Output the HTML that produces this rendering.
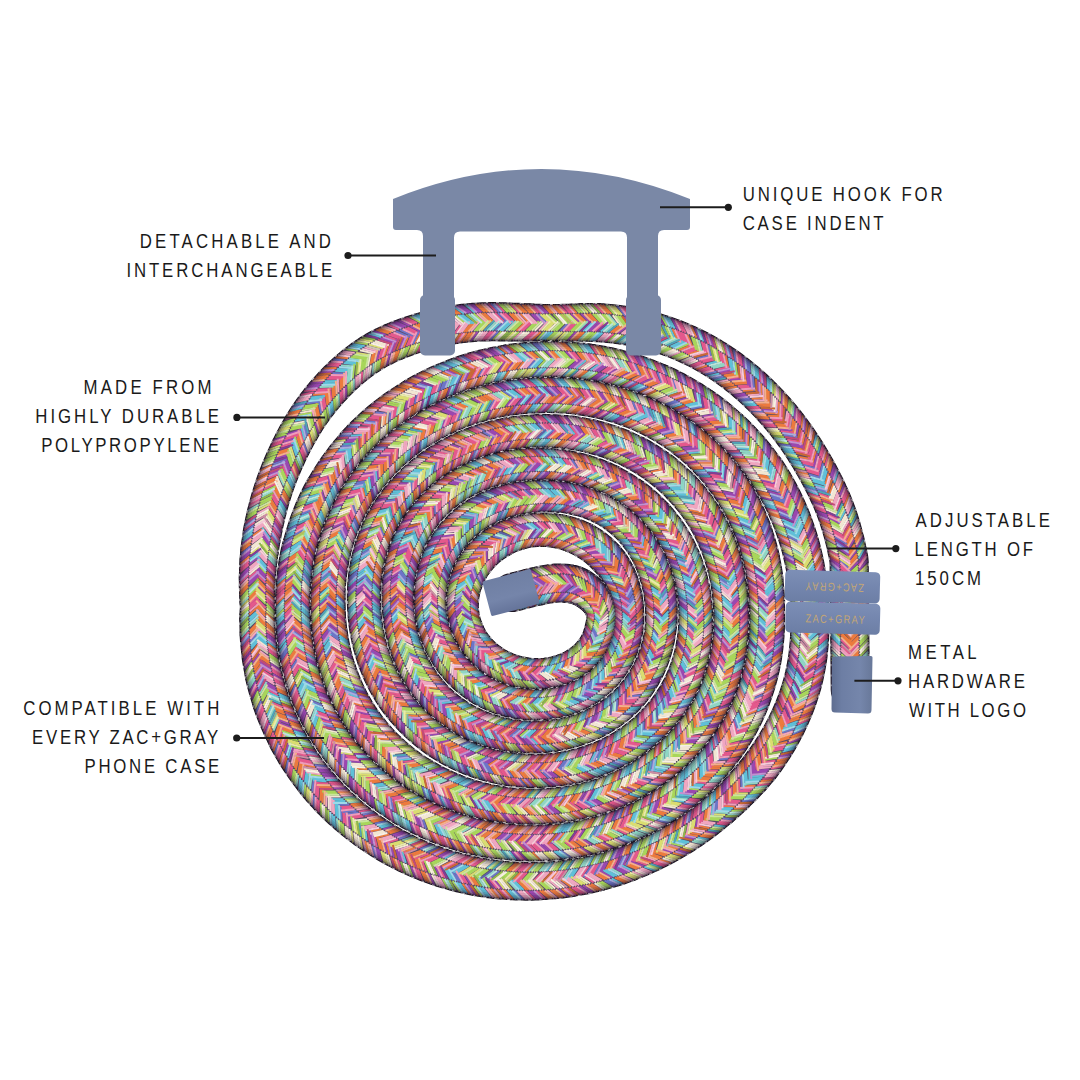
<!DOCTYPE html>
<html><head><meta charset="utf-8"><style>
html,body{margin:0;padding:0;background:#fff;}
svg{display:block;}
</style></head><body>
<svg width="1080" height="1080" viewBox="0 0 1080 1080">
<rect width="1080" height="1080" fill="#fff"/>
<defs>
<filter id="soft" x="0" y="0" width="1080" height="1080" filterUnits="userSpaceOnUse"><feGaussianBlur stdDeviation="0.6"/></filter>
<g id="gg" fill="none" stroke-linecap="round" stroke-linejoin="round"><path id="g0" fill="none" d="M601.4,619.5 600.9,622.5 600.3,625.4 599.6,628.3 598.9,631.2 598.1,634.1 597.2,637.0 596.0,639.7 594.7,642.4 593.2,645.0 591.5,647.5 589.7,649.9 587.8,652.2 585.7,654.4 583.6,656.5 581.3,658.5 579.0,660.3 578.2,660.9M628.3,603.6 628.7,606.5 629.0,609.5 629.2,612.5 629.3,615.5 629.3,618.5 629.1,621.5 628.9,624.5 628.6,627.5 628.2,630.5 627.7,633.4 627.0,636.3 626.3,639.3 625.5,642.1 624.6,645.0 623.6,647.8 622.4,650.6 621.2,653.3 619.9,656.0 618.5,658.7 617.0,661.3 615.4,663.8 613.8,666.3 612.0,668.8 610.2,671.1 608.3,673.4 606.3,675.7 604.2,677.8 602.0,679.9 599.8,681.9 597.5,683.9 595.1,685.7 594.3,686.3"/>
<path id="g1" fill="none" d="M601.4,613.5 601.6,616.5 601.4,619.5M578.2,660.9 575.7,662.6 573.1,664.2 570.5,665.7 567.9,667.0 565.1,668.2 562.3,669.3 560.4,670.0M626.7,595.7 627.4,598.6 628.0,601.6 628.3,603.6M594.3,686.3 591.9,688.0 589.4,689.7 586.8,691.3 584.2,692.7 581.5,694.2 578.9,695.5 576.1,696.7 573.3,697.8 571.5,698.5M600.5,508.7 603.1,510.1 605.7,511.5 608.3,513.1 610.9,514.7 613.4,516.3 614.2,516.9M611.6,480.1 614.2,481.5 616.9,482.9 619.5,484.3 622.1,485.8 624.7,487.4 627.2,489.0 629.7,490.6 632.2,492.3 634.6,494.1"/>
<path id="g2" fill="none" d="M599.8,607.8 600.8,610.6 601.4,613.5M560.4,670.0 557.6,670.9 554.7,671.7 551.7,672.3 548.8,672.8 545.8,673.2 542.8,673.5 539.8,673.7 536.8,673.7 533.8,673.7 532.8,673.7M571.5,698.5 568.6,699.5 565.8,700.4 562.9,701.3 560.0,702.0 557.1,702.7 554.1,703.2 551.1,703.7 548.2,704.1 545.2,704.4 542.2,704.6 539.2,704.7 536.2,704.8 534.2,704.8M576.1,499.7 579.0,500.5 581.9,501.3 584.8,502.2 587.6,503.1 590.4,504.2 593.2,505.3 596.0,506.5 598.7,507.8 600.5,508.7M614.2,516.9 616.6,518.7 619.0,520.5 621.3,522.4 623.6,524.4 625.8,526.4 627.9,528.5 630.0,530.7 632.0,532.9 633.3,534.4M582.5,469.3 585.4,470.1 588.3,471.0 591.2,471.9 594.0,472.8 596.8,473.8 599.7,474.9 602.4,476.0 605.2,477.2 607.9,478.4 610.7,479.7 611.6,480.1M634.6,494.1 637.0,495.9 639.4,497.7 641.7,499.6 644.0,501.5 646.3,503.5 648.5,505.6 650.6,507.7 652.7,509.8 654.8,511.9 656.9,514.2"/>
<path id="g3" fill="none" d="M597.2,602.4 598.6,605.0 599.8,607.8M532.8,673.7 529.8,673.5 526.9,673.2 523.9,672.7 520.9,672.2 518.0,671.6 515.1,670.8 512.2,669.9 509.4,668.9 506.6,667.8 503.9,666.6 501.2,665.3 498.5,663.9 495.9,662.4 493.4,660.7 491.0,659.0 488.6,657.1 486.3,655.2 484.1,653.2 482.0,651.1 479.9,648.9 478.0,646.6 476.1,644.3 474.4,641.8 472.7,639.3 471.2,636.7 469.8,634.1 468.5,631.4 468.1,630.5M625.1,590.0 625.9,592.8 626.7,595.7M534.2,704.8 531.2,704.7 528.2,704.5 525.2,704.3 522.2,704.0 519.3,703.6 516.3,703.1 513.4,702.5 510.4,701.9 507.5,701.1 504.6,700.3 501.8,699.4 498.9,698.4 496.1,697.4 493.4,696.2 490.6,695.0 487.9,693.7 485.2,692.3 482.6,690.9 480.0,689.4 477.5,687.8 475.0,686.1 472.6,684.3 470.2,682.5 467.8,680.7 465.5,678.7 463.3,676.7 461.1,674.6 459.0,672.5 457.0,670.3 455.0,668.1 453.1,665.7 451.2,663.4 449.5,661.0 447.8,658.5 446.1,656.0 444.6,653.4 443.1,650.8 441.6,648.2 440.3,645.5 439.0,642.8 438.2,640.9M560.4,496.9 563.4,497.2 566.3,497.7 569.3,498.2 572.2,498.8 575.2,499.5 576.1,499.7M633.3,534.4 635.2,536.7 637.1,539.1 638.9,541.5 640.6,543.9 642.3,546.4M563.9,465.6 566.9,466.0 569.9,466.5 572.8,467.1 575.7,467.7 578.7,468.4 581.6,469.1 582.5,469.3M656.9,514.2 658.8,516.4 660.8,518.7 662.7,521.0 664.5,523.4 666.3,525.8 668.1,528.2"/>
<path id="g4" fill="none" d="M468.1,630.5 466.9,627.7 465.9,624.9 465.0,622.0 464.2,619.1 463.6,616.2 463.1,613.2 462.9,612.2M623.0,584.3 624.1,587.1 625.1,590.0M438.2,640.9 437.1,638.2 436.1,635.3 435.1,632.5 434.2,629.6 433.4,626.8 432.7,623.8 432.1,620.9 431.5,618.0 431.0,615.0 430.7,612.0 430.5,610.0M545.4,496.0 548.4,496.1 551.4,496.2 554.4,496.3 557.4,496.6 560.4,496.9M642.3,546.4 643.9,549.0 645.4,551.5 646.9,554.2 648.3,556.8 648.7,557.7M661.1,622.8 660.9,625.8 660.6,628.7 660.2,631.7 659.7,634.7 659.2,637.6 658.6,640.6 658.0,643.5 657.2,646.4 656.4,649.3 655.6,652.2 654.6,655.0 653.6,657.8 652.5,660.7 651.4,663.4 650.2,666.2 648.9,668.9 647.6,671.6 646.1,674.2 644.7,676.8 643.1,679.4 641.5,681.9 639.9,684.4 638.1,686.9 636.3,689.3 634.5,691.6 632.6,693.9 630.6,696.2 628.6,698.4 626.5,700.6 624.3,702.6 622.1,704.7 619.8,706.7 617.5,708.6 615.2,710.4 612.8,712.2 610.3,713.9 607.8,715.6 605.3,717.2 602.7,718.8 600.1,720.3 597.5,721.7 594.8,723.1 592.1,724.4 589.4,725.6 586.6,726.8 583.9,727.9 581.0,728.9 578.2,729.9 575.3,730.8 572.5,731.7 569.6,732.5 566.7,733.2 563.7,733.9 560.8,734.5 557.9,735.0 554.9,735.5 552.9,735.8M547.0,464.0 550.0,464.2 553.0,464.4 556.0,464.6 559.0,464.9 562.0,465.3 563.9,465.6M668.1,528.2 669.8,530.7 671.4,533.2 673.0,535.7 674.6,538.3 676.0,540.9 677.5,543.5"/>
<path id="g5" fill="none" d="M462.9,612.2 462.6,609.3 462.4,606.3 462.4,603.3 462.5,600.3M430.5,610.0 430.2,607.0 430.1,604.0 430.0,601.0 430.0,598.0 430.1,595.0 430.3,592.1 430.5,590.1M530.4,496.7 533.4,496.5 536.4,496.3 539.4,496.1 542.4,496.1 545.4,496.0M648.7,557.7 650.0,560.4 651.2,563.2 652.4,565.9 653.5,568.7 654.2,570.6M661.1,603.8 661.2,606.8 661.4,609.8 661.4,612.8 661.4,615.8 661.3,618.8 661.2,621.8 661.1,622.8M552.9,735.8 549.9,736.1 546.9,736.4 544.0,736.7 541.0,736.8 538.0,737.0 535.0,737.0 532.0,737.1 529.0,737.0 526.0,736.9 523.0,736.7 522.0,736.7M406.0,647.9 405.1,645.0 404.2,642.2 403.3,639.3 402.6,636.4 401.9,633.5 401.2,630.5 400.6,627.6 400.1,624.6 399.6,621.7 399.2,618.7 398.8,615.7 398.5,612.7 398.3,609.8 398.1,606.8 397.9,603.8 397.8,600.8 397.8,597.8 397.8,594.8 397.8,591.8 398.0,588.8 398.1,586.8M427.8,511.8 429.8,509.6 431.8,507.3 433.9,505.2 436.0,503.0 438.2,501.0 440.4,499.0 442.7,497.0 445.0,495.1 447.4,493.3 449.8,491.5 452.2,489.8 454.7,488.1 457.2,486.4 459.8,484.9 462.4,483.3 465.0,481.9 467.6,480.5 470.3,479.1 473.0,477.8 475.7,476.6 478.5,475.4 481.3,474.3 484.1,473.3 486.9,472.3 489.8,471.3 492.6,470.4 495.5,469.6 498.4,468.8 501.3,468.1 504.3,467.4 507.2,466.8 510.2,466.3 513.1,465.8 516.1,465.4 519.1,465.0 522.0,464.7 525.0,464.4 528.0,464.2 531.0,464.1 534.0,464.0 537.0,463.9 540.0,463.9 543.0,463.9 546.0,464.0 547.0,464.0M677.5,543.5 678.9,546.2 680.2,548.9 681.5,551.6 682.7,554.4 683.9,557.1 684.2,558.0M402.9,490.9 404.9,488.7 407.0,486.5 409.0,484.3 411.1,482.2 413.3,480.1 415.5,478.0 417.7,476.0 420.0,474.1 422.3,472.1 424.6,470.3 427.0,468.4 429.4,466.6 431.8,464.9 434.3,463.2 436.8,461.5 439.3,459.9 441.8,458.3 444.4,456.7 447.0,455.2 449.6,453.7 452.3,452.3 454.9,451.0 457.6,449.6 460.3,448.3 463.1,447.1 465.8,445.9 468.6,444.8 471.4,443.7 474.2,442.6 477.0,441.6 479.9,440.7 482.7,439.8 485.6,438.9 488.5,438.1 491.4,437.3 494.3,436.5 497.2,435.8 500.1,435.2 503.1,434.6 506.0,434.0 509.0,433.5"/>
<path id="g6" fill="none" d="M593.6,597.6 595.5,599.9 597.2,602.4M462.5,600.3 462.7,597.3 463.1,594.3 463.5,591.3 463.7,590.4M620.6,578.8 621.9,581.5 623.0,584.3M430.5,590.1 430.8,587.1 431.2,584.1 431.7,581.2 432.3,578.2 432.8,576.3M513.7,499.3 516.6,498.6 519.5,498.1 522.5,497.6 525.5,497.2 528.5,496.9 530.4,496.7M654.2,570.6 655.1,573.4 656.0,576.3 656.9,579.2 657.6,582.1 658.3,585.0 659.0,587.9 659.5,590.9 660.0,593.8 660.4,596.8 660.7,599.8 661.0,602.8 661.1,603.8M522.0,736.7 519.0,736.4 516.0,736.1 513.0,735.8 510.1,735.3 507.1,734.8 504.2,734.2 501.2,733.6 498.3,732.9M414.3,667.1 413.0,664.5 411.7,661.8 410.4,659.0 409.2,656.3 408.1,653.5 407.0,650.7 406.0,647.9M398.1,586.8 398.3,583.8 398.6,580.8 399.0,577.8 399.4,574.9 399.9,571.9 400.5,568.9M415.2,529.8 416.7,527.2 418.3,524.7 420.0,522.2 421.7,519.7 423.5,517.3 425.3,514.9 427.2,512.6 427.8,511.8M684.2,558.0 685.3,560.8 686.4,563.6 687.4,566.5 688.3,569.3 689.2,572.2 689.7,574.1M387.4,511.8 389.0,509.2 390.7,506.7 392.4,504.3 394.1,501.8 395.9,499.4 397.8,497.1 399.7,494.7 401.6,492.4 402.9,490.9M509.0,433.5 511.9,433.1 514.9,432.6 517.9,432.3 520.9,431.9 523.8,431.7 526.8,431.4 529.8,431.2 532.8,431.0 535.8,430.9 538.8,430.8 539.8,430.8"/>
<path id="g7" fill="none" d="M463.7,590.4 464.4,587.4 465.2,584.5 466.1,581.7M432.8,576.3 433.5,573.4 434.3,570.5 435.2,567.6 436.2,564.8 436.5,563.8M493.6,505.5 496.4,504.4 499.2,503.4 502.1,502.4 504.9,501.5 507.8,500.7 510.7,499.9 513.7,499.3M498.3,732.9 495.4,732.1 492.5,731.3 489.6,730.4 486.8,729.5 484.0,728.5 481.2,727.4 478.4,726.3 475.6,725.1 472.9,723.8 470.2,722.5 467.6,721.1 464.9,719.7 462.3,718.2 459.8,716.6 457.3,715.0 454.8,713.3 452.3,711.6 449.9,709.8 447.6,707.9 445.2,706.0 443.0,704.1 440.8,702.0 438.6,700.0 436.5,697.8 434.4,695.7 432.4,693.4 430.4,691.2 428.5,688.8 426.7,686.5 424.9,684.1 423.1,681.6 421.4,679.2 419.8,676.7 418.2,674.1 416.7,671.5 415.3,668.9 414.3,667.1M400.5,568.9 401.1,566.0 401.8,563.1 402.6,560.2 403.4,557.3 404.3,554.4 405.2,551.6 406.2,548.8 407.3,546.0 408.4,543.2 409.6,540.4 410.9,537.7 412.3,535.0 413.7,532.4 415.2,529.8M689.7,574.1 690.5,577.0 691.3,579.9 691.9,582.8 692.6,585.8 693.1,588.7 693.3,589.7M503.1,768.1 500.1,767.6 497.2,767.0 494.2,766.3 491.3,765.6 488.4,764.9 485.5,764.1 482.7,763.2 479.8,762.3 477.0,761.4 474.1,760.3 471.3,759.3 468.5,758.2 465.8,757.0 463.0,755.8 460.3,754.6 457.6,753.3 454.9,751.9 452.2,750.6 449.6,749.1 447.0,747.6 444.4,746.1 441.9,744.5 439.3,742.9 436.9,741.2 434.4,739.5 432.0,737.8 429.6,736.0 427.2,734.1 424.9,732.2 422.6,730.3 420.3,728.3 418.1,726.3 415.9,724.3 413.7,722.2 411.6,720.1 409.5,717.9 407.5,715.7 405.5,713.5 403.5,711.2 401.6,708.9 399.8,706.5 399.2,705.7M371.7,546.2 372.6,543.4 373.6,540.6 374.6,537.7 375.7,534.9 376.8,532.2 378.0,529.4 379.3,526.7 380.6,524.0 381.9,521.3 383.4,518.7 384.8,516.0 386.4,513.5 387.4,511.8M539.8,430.8 542.8,430.8 545.8,430.8 548.8,430.9 551.8,431.0 554.8,431.1 557.8,431.3 560.8,431.5 563.8,431.8 566.8,432.1"/>
<path id="g8" fill="none" d="M466.1,581.7 467.1,578.8 468.2,576.1 469.5,573.3 469.9,572.4M518.1,533.1 521.0,532.4 523.9,531.7 526.9,531.1 529.8,530.6 532.8,530.3 535.8,530.0 538.8,529.8 541.8,529.8 544.8,529.8 547.8,529.9 549.8,530.1M617.8,573.5 619.3,576.1 620.6,578.8M436.5,563.8 437.6,561.0 438.8,558.3 440.1,555.6 441.4,552.9 442.8,550.2 443.8,548.5M472.6,517.0 475.1,515.4 477.6,513.7 480.2,512.2 482.8,510.7 485.5,509.3 488.1,507.9 490.9,506.7 493.6,505.5M693.3,589.7 693.8,592.7 694.2,595.6 694.6,598.6 694.9,601.6 695.2,604.6 695.3,606.6M566.7,768.0 563.8,768.5 560.8,769.0 557.8,769.4 554.9,769.8 551.9,770.1 548.9,770.3 545.9,770.5 542.9,770.7 539.9,770.8 536.9,770.9 533.9,770.9 530.9,770.9 527.9,770.8 524.9,770.6 521.9,770.5 518.9,770.2 515.9,770.0 513.0,769.6 510.0,769.2 507.0,768.8 504.0,768.3 503.1,768.1M399.2,705.7 397.3,703.3 395.6,700.9 393.8,698.5 392.2,696.0 390.5,693.5 389.0,690.9 387.4,688.3 385.9,685.7 384.5,683.1 383.1,680.4 381.8,677.7 380.5,675.0 379.2,672.3 378.0,669.6 376.9,666.8 375.8,664.0 374.7,661.2 373.7,658.4 372.8,655.5 371.9,652.7 371.0,649.8 370.2,646.9 369.4,644.0 368.7,641.1 368.1,638.1 367.5,635.2 366.9,632.3 366.4,629.3 365.9,626.3 365.5,623.4 365.2,620.4 364.8,617.4 364.6,614.4 364.3,611.4 364.2,608.4 364.0,605.4 363.9,602.4 363.9,599.4 363.9,596.4 363.9,593.4 364.0,590.4 364.2,587.4 364.3,584.5 364.6,581.5 364.9,578.5 365.2,575.5 365.6,572.5 366.1,569.6 366.6,566.6 367.2,563.7 367.8,560.7 368.5,557.8 369.2,554.9 370.0,552.0 370.8,549.1 371.7,546.2M566.8,432.1 569.8,432.4 572.7,432.8 575.7,433.3 578.7,433.8 581.6,434.3 584.5,434.9 587.5,435.5 590.4,436.2M352.5,503.5 353.9,500.9 355.5,498.3 357.0,495.7 358.6,493.2 360.3,490.7 361.9,488.2 363.6,485.7 365.4,483.3 367.2,480.9 369.0,478.5 370.9,476.2 372.8,473.8 374.7,471.5 376.7,469.3 378.6,467.0 380.7,464.8 382.7,462.6 384.8,460.5 386.9,458.3 389.1,456.3 391.3,454.2 393.5,452.2 395.7,450.2 398.0,448.2 400.3,446.3 402.6,444.4 404.9,442.5 407.3,440.7 409.7,438.9 412.2,437.1 414.6,435.4 417.1,433.7 419.6,432.1 422.1,430.4 423.0,429.9M322.1,488.1 323.6,485.4 325.1,482.8 326.6,480.3 328.2,477.7 329.8,475.2 331.4,472.6 333.1,470.2 334.8,467.7 336.5,465.2 338.3,462.8 340.1,460.4 341.9,458.0 343.7,455.6 345.6,453.3 347.5,451.0 349.5,448.7 351.4,446.4 353.4,444.2"/>
<path id="g9" fill="none" d="M589.4,593.3 591.6,595.4 593.6,597.6M469.9,572.4 471.3,569.8 472.8,567.2 474.4,564.7 476.1,562.2M502.4,539.5 505.0,538.1 507.8,536.9 510.5,535.7 513.3,534.7 516.2,533.7 518.1,533.1M549.8,530.1 552.8,530.4 555.7,530.8 558.7,531.3 561.6,531.9 562.6,532.1M614.7,568.4 616.3,570.9 617.8,573.5M443.8,548.5 445.4,545.9 447.0,543.4 448.7,540.9 450.4,538.5 452.3,536.1 454.2,533.8 456.2,531.5 458.2,529.4 460.3,527.2 462.5,525.2 464.7,523.2 467.1,521.3 469.4,519.4 471.8,517.6 472.6,517.0M695.3,606.6 695.5,609.6 695.7,612.6 695.8,615.6 695.8,618.6 695.8,621.6 695.7,622.6M626.9,744.4 624.3,746.0 621.8,747.6 619.2,749.1 616.5,750.6 613.9,752.0 611.2,753.3 608.5,754.6 605.8,755.9 603.0,757.1 600.3,758.2 597.5,759.3 594.7,760.4 591.9,761.4 589.0,762.4 586.1,763.3 583.3,764.1 580.4,764.9 577.5,765.7 574.6,766.4 571.6,767.0 568.7,767.6 566.7,768.0M590.4,436.2 593.3,436.9 596.2,437.7 599.1,438.5 602.0,439.3 604.8,440.2 607.7,441.2 610.5,442.1 613.4,443.2M333.0,554.8 333.7,551.8 334.4,548.9 335.2,546.0 336.0,543.1 336.9,540.3 337.8,537.4 338.7,534.6 339.7,531.7 340.8,528.9 341.8,526.1 343.0,523.3 344.1,520.6 345.3,517.8 346.6,515.1 347.9,512.4 349.2,509.7 350.6,507.0 352.0,504.4 352.5,503.5M423.0,429.9 425.5,428.3 428.1,426.8 430.7,425.3 433.3,423.8 435.9,422.3 438.6,420.9 441.2,419.6 443.9,418.3 446.6,417.0 449.4,415.7 452.1,414.5 454.9,413.3 457.6,412.2 460.4,411.1 463.2,410.0 466.1,409.0 468.9,408.0 471.7,407.0 473.6,406.4M299.4,546.6 300.1,543.7 300.9,540.8 301.7,537.9 302.5,535.0 303.4,532.2 304.3,529.3 305.2,526.4 306.2,523.6 307.2,520.8 308.3,518.0 309.4,515.2 310.5,512.4 311.6,509.6 312.8,506.9 314.1,504.1 315.3,501.4 316.6,498.7 317.9,496.0 319.3,493.3 320.7,490.7 322.1,488.1M353.4,444.2 355.4,442.0 357.5,439.8 359.5,437.6 361.6,435.4 363.7,433.3 365.9,431.2 368.1,429.1 370.3,427.1 372.5,425.1 374.7,423.1 377.0,421.1 379.3,419.2 381.6,417.3 384.0,415.4 386.3,413.6 388.7,411.8 391.1,410.0 393.6,408.2 396.0,406.5 398.5,404.8 401.0,403.1 403.5,401.5 406.0,399.9 408.5,398.3 411.1,396.7 413.7,395.2"/>
<path id="g10" fill="none" d="M476.1,562.2 477.9,559.8 479.8,557.5 481.8,555.2 483.9,553.1 486.1,551.0 488.3,549.0 490.6,547.1 493.0,545.3 495.5,543.6 498.0,542.0 500.6,540.5 502.4,539.5M562.6,532.1 565.5,532.9 568.4,533.7 571.2,534.7 573.1,535.3M611.2,563.5 613.0,565.9 614.7,568.4M695.7,622.6 695.7,625.6 695.5,628.6 695.3,631.6 695.0,634.5 694.7,637.5 694.4,640.5M654.0,722.4 651.9,724.6 649.7,726.6 647.5,728.7 645.3,730.7 643.0,732.6 640.7,734.5 638.3,736.4 635.9,738.2 633.5,740.0 631.0,741.7 628.5,743.3 626.9,744.4M613.4,443.2 616.2,444.2 618.9,445.3 621.7,446.5 624.5,447.7 627.2,449.0 629.9,450.3 632.6,451.6 635.2,453.0 636.1,453.4M327.8,597.4 327.9,594.4 328.0,591.4 328.2,588.4 328.4,585.4 328.6,582.4 328.9,579.4 329.2,576.4 329.6,573.4 330.0,570.5 330.5,567.5 331.0,564.5 331.5,561.6 332.1,558.7 332.7,555.7 333.0,554.8M473.6,406.4 476.5,405.5 479.4,404.7 482.2,403.8 485.1,403.0 488.0,402.3 491.0,401.6 493.9,400.9 496.8,400.3 499.8,399.7 502.7,399.1 505.7,398.6 506.6,398.4M292.7,600.1 292.8,597.1 292.9,594.1 293.0,591.1 293.2,588.1 293.4,585.1 293.6,582.1 293.9,579.1 294.2,576.1 294.6,573.2 295.0,570.2 295.4,567.2 295.8,564.2 296.3,561.3 296.9,558.3 297.4,555.4 298.0,552.5 298.7,549.5 299.4,546.6M413.7,395.2 416.3,393.7 418.9,392.2 421.5,390.8 424.2,389.4 426.9,388.0 429.5,386.7 432.2,385.3 434.9,384.1 437.7,382.8 440.4,381.6 443.2,380.4 446.0,379.3 448.7,378.2 451.5,377.1 454.3,376.0 457.2,375.0 460.0,374.0"/>
<path id="g11" fill="none" d="M573.1,535.3 575.9,536.4 578.6,537.6 581.4,538.9 584.0,540.3M606.0,557.4 608.0,559.7 610.0,562.0 611.2,563.5M694.4,640.5 693.9,643.5 693.4,646.4 692.9,649.4 692.2,652.3 691.5,655.2 690.8,658.1 690.0,661.0 689.2,663.9 688.9,664.9M670.1,703.3 668.3,705.8 666.5,708.2 664.6,710.5 662.7,712.8 660.8,715.1 658.8,717.4 656.8,719.6 654.7,721.7 654.0,722.4M636.1,453.4 638.8,454.9 641.4,456.3 644.0,457.9 646.5,459.4 649.1,461.0 651.6,462.7 654.1,464.3 656.5,466.1 658.1,467.2M731.3,623.8 731.2,626.8 731.0,629.8M640.5,777.8 637.9,779.3 635.3,780.8 632.6,782.2 630.0,783.6 627.3,785.0 624.6,786.3 621.9,787.6 619.2,788.8 616.4,790.0 613.6,791.1 610.8,792.2 608.0,793.3 605.2,794.3 602.4,795.3 599.5,796.2 596.7,797.1 593.8,798.0 590.9,798.8 588.0,799.6 585.1,800.3 582.2,801.0 579.3,801.7 576.3,802.3 573.4,802.9 570.4,803.4 567.5,803.9 564.5,804.3 561.5,804.7 558.6,805.1 557.6,805.2M329.6,632.3 329.3,629.3 329.0,626.3 328.7,623.3 328.4,620.3 328.2,617.4 328.1,614.4 327.9,611.4 327.9,608.4 327.8,605.4 327.8,602.4 327.8,599.4 327.8,597.4M506.6,398.4 509.6,397.9 512.6,397.5 515.5,397.1 518.5,396.7 521.5,396.4 524.5,396.1 527.5,395.9 530.5,395.6 533.5,395.5 534.5,395.4M294.3,636.0 294.0,633.0 293.7,630.1 293.5,627.1 293.2,624.1 293.1,621.1 292.9,618.1 292.8,615.1 292.7,612.1 292.7,609.1 292.7,606.1 292.7,603.1 292.7,600.1M460.0,374.0 462.8,373.0 465.7,372.1 468.5,371.2 471.4,370.3 474.3,369.5 477.2,368.7 480.1,367.9 483.0,367.2 485.9,366.5 488.8,365.8 491.8,365.2 494.7,364.6 497.6,364.0 500.6,363.5 503.6,362.9 506.5,362.5 508.5,362.2M257.3,617.5 257.3,614.5 257.4,611.5 257.7,608.6 257.7,605.6 257.5,602.6 257.4,600.6"/>
<path id="g12" fill="none" d="M584.6,589.7 587.1,591.4 589.4,593.3M584.0,540.3 586.6,541.8 589.2,543.4 591.7,545.0 594.1,546.8 596.5,548.6 598.8,550.5 601.1,552.5 603.2,554.6 605.3,556.7 606.0,557.4M688.9,664.9 688.0,667.7 687.0,670.6 686.0,673.4 684.9,676.2 683.7,678.9 682.5,681.7 681.2,684.4 679.9,687.1 678.5,689.7 677.0,692.4 675.5,695.0 674.0,697.5 672.3,700.0 670.6,702.5 670.1,703.3M658.1,467.2 660.5,469.0 662.9,470.8 665.3,472.7 667.6,474.6 669.9,476.6 672.1,478.6 674.3,480.6 676.5,482.6 678.7,484.7 680.1,486.2M725.8,569.2 726.4,572.1 727.1,575.1 727.6,578.0 728.2,581.0 728.7,583.9 729.1,586.9 729.5,589.9 729.9,592.8 730.2,595.8 730.5,598.8 730.7,601.8 730.9,604.8 731.1,607.8 731.2,610.8 731.3,613.8 731.3,616.8 731.3,619.8 731.3,622.8 731.3,623.8M731.0,629.8 730.9,632.8 730.6,635.8 730.4,638.8 730.1,641.7 729.7,644.7 729.3,647.7 728.8,650.7 728.3,653.6 727.8,656.6 727.1,659.5 726.5,662.4 725.8,665.3 725.0,668.2 724.2,671.1 723.4,674.0 722.5,676.9 721.6,679.7 720.6,682.6 719.6,685.4 718.5,688.2 717.4,691.0 716.2,693.7 715.0,696.5 713.7,699.2 712.4,701.9 711.1,704.6 709.7,707.2 708.2,709.9 706.7,712.5 705.2,715.0 703.6,717.6 701.9,720.1 700.2,722.5 698.5,725.0 696.7,727.4 694.9,729.8 693.1,732.2 691.2,734.5 689.2,736.8 687.3,739.1 685.3,741.3 683.2,743.5 681.2,745.7 679.1,747.8 677.0,749.9 674.8,752.0 672.6,754.1 670.4,756.1 668.1,758.0 665.8,760.0 663.5,761.9 661.1,763.7 658.8,765.6 656.3,767.4 653.9,769.1 651.4,770.8 649.0,772.5 646.4,774.1 643.9,775.7 641.3,777.3 640.5,777.8M557.6,805.2 554.6,805.5 551.6,805.8 548.6,806.0 545.6,806.2 542.6,806.3 539.6,806.5 536.6,806.5 533.6,806.6 530.6,806.6 527.6,806.5 524.6,806.4 521.6,806.3 518.6,806.1 515.6,805.9 512.6,805.7 509.7,805.4 506.7,805.1 503.7,804.7 500.7,804.3 499.7,804.2M338.2,670.3 337.3,667.4 336.4,664.6 335.6,661.7 334.8,658.8 334.0,655.9 333.3,653.0 332.7,650.0 332.1,647.1 331.5,644.1 331.0,641.2 330.5,638.2 330.0,635.3 329.6,632.3M534.5,395.4 537.5,395.3 540.5,395.2 543.5,395.1 546.5,395.0 549.5,395.0 552.5,395.1 555.5,395.1 558.5,395.2 561.5,395.3 564.5,395.5 567.4,395.7 570.4,396.0 573.4,396.2 576.4,396.6 578.4,396.8M766.8,601.6 766.9,604.6 767.0,607.5 767.0,610.5 767.1,613.5 767.1,616.5 767.1,619.5 767.0,622.5 766.9,625.5 766.8,628.5 766.7,631.5 766.5,634.5 766.3,637.5 766.0,640.5 765.7,643.5 765.4,646.5 765.0,649.5 764.6,652.4 764.2,655.4 763.7,658.4 763.2,661.3 762.6,664.3 762.0,667.2 761.3,670.1 760.6,673.0 759.9,675.9 759.1,678.8 758.3,681.7 757.4,684.6 756.5,687.5 755.6,690.3 754.6,693.2 753.6,696.0 752.6,698.8 751.5,701.6 750.4,704.4 749.2,707.1 748.0,709.9 746.8,712.6 745.5,715.3 744.2,718.0 742.8,720.7 741.4,723.4 740.0,726.0 738.5,728.6 737.0,731.2 735.5,733.8 733.9,736.3 732.3,738.8 730.6,741.3 728.9,743.8 727.2,746.3 725.4,748.7 723.6,751.1 721.8,753.5 719.9,755.8 718.0,758.2 716.1,760.5 714.1,762.7 712.2,765.0 710.1,767.2 708.1,769.4 706.0,771.6 703.9,773.7 701.8,775.8 699.7,777.9 697.5,780.0 695.3,782.0 693.0,784.0 690.8,786.0 688.5,787.9 686.2,789.8 683.8,791.7 681.4,793.5 679.1,795.3 676.6,797.1 674.2,798.9 671.7,800.6 669.3,802.3 668.4,802.8M303.7,681.0 302.8,678.1 302.0,675.2 301.2,672.3 300.4,669.4 299.7,666.5 299.0,663.6 298.3,660.7 297.7,657.8 297.1,654.8 296.6,651.9 296.1,648.9 295.6,645.9 295.2,643.0 294.8,640.0 294.4,637.0 294.3,636.0M508.5,362.2 511.5,361.8 514.4,361.4 517.4,361.0 520.4,360.7 523.4,360.4 526.4,360.1 529.4,359.9 532.4,359.7 535.4,359.5 538.4,359.4 541.4,359.3 544.3,359.2 547.3,359.2 550.3,359.1 553.3,359.2 556.3,359.2 559.3,359.3 562.3,359.4 565.3,359.5 568.3,359.7 571.3,359.9 574.3,360.2 577.3,360.4 580.3,360.7 583.3,361.1M257.9,634.5 257.7,631.5 257.6,628.5 257.5,625.5 257.4,622.5 257.3,619.5 257.3,617.5M257.4,600.6 257.3,597.6 257.2,594.6 257.2,591.6 257.1,588.6 257.1,586.6"/>
<path id="g13" fill="none" d="M680.1,486.2 682.2,488.3 684.2,490.5 686.2,492.7 688.2,495.0 690.1,497.3 692.0,499.6 693.9,501.9 695.7,504.3 697.5,506.7 699.2,509.2 700.9,511.7 702.6,514.2 704.2,516.7 705.7,519.3 707.2,521.9 708.7,524.5 710.1,527.2 711.4,529.8 712.8,532.5 714.0,535.2 715.2,538.0 716.4,540.7 717.6,543.5 718.6,546.3 719.7,549.1 720.7,552.0 721.6,554.8 722.6,557.7 723.4,560.5 724.3,563.4 725.0,566.3 725.8,569.2M499.7,804.2 496.8,803.7 493.8,803.2 490.9,802.6 487.9,802.0 485.0,801.4 482.1,800.7 479.2,800.0 476.3,799.2 473.4,798.4 470.5,797.6 467.6,796.7 464.8,795.8 461.9,794.8 459.1,793.8 456.3,792.8 453.5,791.7 452.6,791.3M422.2,776.1 419.7,774.5 417.1,772.9 414.6,771.2 412.2,769.5 409.7,767.8 407.3,766.0 404.9,764.2 402.5,762.4 400.2,760.5 397.9,758.6 395.6,756.6 393.3,754.7 391.1,752.6 388.9,750.6 386.8,748.5 384.6,746.4 382.5,744.2 380.5,742.1 378.4,739.9 376.4,737.6 374.5,735.4 372.6,733.1 370.7,730.7 368.8,728.4 367.0,726.0 365.2,723.6 363.5,721.1 361.8,718.7 360.1,716.2 358.5,713.6 356.9,711.1 355.4,708.5 353.9,705.9 352.4,703.3 351.0,700.6 349.6,698.0 348.3,695.3 347.0,692.6 345.8,689.9 344.5,687.1 343.4,684.3 342.3,681.6 341.2,678.8 340.1,675.9 339.1,673.1 338.2,670.3M578.4,396.8 581.4,397.2 584.3,397.6 587.3,398.1 590.3,398.6 593.2,399.1 596.1,399.7 599.1,400.3 602.0,401.0 604.9,401.7 607.8,402.4 610.7,403.2 613.6,404.0 616.5,404.8 619.4,405.7 622.2,406.6 625.1,407.6 627.9,408.6 630.7,409.6 633.5,410.7 636.3,411.8 639.1,412.9 641.8,414.1 644.6,415.3 645.5,415.7M764.8,578.6 765.2,581.6 765.5,584.6 765.8,587.6 766.1,590.6 766.3,593.6 766.5,596.6 766.7,599.6 766.8,601.6M668.4,802.8 665.9,804.5 663.4,806.1 660.8,807.7 658.3,809.2 655.7,810.7 653.1,812.2 650.5,813.7 647.8,815.1 645.1,816.5 642.5,817.8 639.8,819.1 637.1,820.4 634.3,821.7 631.6,822.9 628.8,824.0 626.0,825.2 623.3,826.3 620.4,827.3 617.6,828.4 614.8,829.4 612.0,830.3 609.1,831.3 606.2,832.2 603.4,833.0 600.5,833.9 597.6,834.7 594.7,835.4 591.8,836.1 588.9,836.8 585.9,837.5 583.0,838.1 580.1,838.7 577.1,839.2 574.1,839.7 571.2,840.2 568.2,840.6 565.2,841.0 562.3,841.4 559.3,841.7 556.3,842.0 553.3,842.2 550.3,842.4 547.3,842.6 544.3,842.8 541.3,842.9 538.3,843.0 535.3,843.0 532.3,843.1 529.3,843.1 526.3,843.0 523.3,842.9 520.3,842.8 517.3,842.7 514.3,842.5 511.3,842.2 508.4,842.0 505.4,841.7 502.4,841.4 499.4,841.0 496.4,840.6 493.5,840.2M402.1,806.6 399.6,805.0 397.0,803.4 394.5,801.7 392.1,800.0 389.6,798.3 387.2,796.6 384.8,794.8 382.4,793.0 380.0,791.1 377.7,789.3 375.3,787.4 373.0,785.4 370.8,783.4 368.5,781.4 366.3,779.4 364.1,777.4 362.0,775.3 359.8,773.2 357.7,771.0 355.7,768.9 353.6,766.7 351.6,764.5 349.6,762.2 347.6,760.0 345.7,757.7 343.8,755.4 341.9,753.0 340.0,750.7 338.2,748.3 336.4,745.9 334.7,743.4 333.0,741.0 331.3,738.5 329.6,736.0 328.0,733.5 326.5,730.9 324.9,728.3 323.4,725.7 321.9,723.1 320.5,720.5 319.1,717.9 317.7,715.2 316.4,712.5 315.1,709.8 313.8,707.1 312.6,704.3 311.4,701.6 310.2,698.8 309.1,696.0 308.0,693.2 307.0,690.4 306.0,687.6 305.0,684.8 304.0,681.9 303.7,681.0M583.3,361.1 586.3,361.4 589.2,361.9 592.2,362.3 595.2,362.8 598.1,363.3 601.1,363.8 604.0,364.4 606.9,365.0 609.9,365.6 612.8,366.3 615.7,367.0 618.6,367.8 621.5,368.5 624.4,369.3 627.3,370.2 630.2,371.0 633.0,371.9 635.9,372.8 638.7,373.8 641.6,374.8 644.4,375.8 647.2,376.9 650.0,378.0 652.8,379.1 655.5,380.2 658.3,381.4 661.0,382.7M720.1,808.8 717.8,810.7 715.5,812.7 713.2,814.6 710.9,816.5 708.5,818.4 706.2,820.2 703.8,822.0 701.4,823.8 699.0,825.6 696.5,827.4 694.1,829.1 691.6,830.8 689.1,832.4 686.6,834.1 684.1,835.7 681.5,837.3 679.0,838.9 676.4,840.4 673.8,841.9 671.2,843.4 668.6,844.9 666.0,846.3 663.3,847.8 660.7,849.1 658.0,850.5 655.3,851.8 652.6,853.1 649.9,854.4 647.1,855.7 644.4,856.9 641.6,858.1 638.9,859.2 636.1,860.4 633.3,861.5 630.5,862.5 627.7,863.6M259.8,653.4 259.4,650.5 259.0,647.5 258.7,644.5 258.4,641.5 258.2,638.5 258.0,635.5 257.9,634.5M257.1,586.6 257.2,583.6 257.2,580.6 257.3,577.6"/>
<path id="g14" fill="none" d="M579.4,586.6 582.1,588.1 584.6,589.7M452.6,791.3 449.8,790.2 447.0,789.0 444.3,787.8 441.6,786.5 438.9,785.2 436.2,783.9 433.5,782.5 430.9,781.1 428.2,779.6 425.6,778.1 423.1,776.6 422.2,776.1M645.5,415.7 648.2,417.0 650.9,418.3 653.6,419.7 656.2,421.1 658.9,422.5 661.5,424.0 664.1,425.5 666.7,427.0 669.2,428.6 671.8,430.2 674.3,431.8 676.8,433.5 679.3,435.2 681.7,436.9 682.5,437.5M760.9,557.0 761.6,559.9 762.2,562.9 762.8,565.8 763.3,568.8 763.8,571.7 764.3,574.7 764.7,577.7 764.8,578.6M493.5,840.2 490.5,839.7 487.6,839.2 484.6,838.6 481.7,838.1 478.7,837.4 475.8,836.8 472.9,836.1 470.0,835.4 467.1,834.6 464.2,833.8 461.3,833.0 458.4,832.1 455.5,831.2 452.7,830.3 449.9,829.3 447.0,828.3 444.2,827.3 441.4,826.2 438.6,825.1 435.8,824.0 433.1,822.8 430.3,821.6 427.6,820.4 424.9,819.1 422.2,817.8 419.5,816.4 416.9,815.1 414.2,813.6 411.6,812.2 409.0,810.7 406.4,809.2 403.8,807.7 402.1,806.6M661.0,382.7 663.7,383.9 666.5,385.2 669.1,386.5 671.8,387.9 674.5,389.2 677.1,390.7 679.8,392.1 682.4,393.6 685.0,395.1 687.6,396.6 690.1,398.2 692.7,399.7 695.2,401.4 697.7,403.0 700.2,404.7 702.7,406.4 704.3,407.5M733.3,796.6 731.1,798.7 729.0,800.7 726.8,802.8 724.6,804.8 722.3,806.8 720.1,808.8M627.7,863.6 624.9,864.6 622.1,865.6 619.2,866.6 616.4,867.5 613.5,868.4 610.6,869.3 607.7,870.1 604.9,870.9 602.0,871.7 599.1,872.4 597.1,872.9M263.6,675.1 263.0,672.2 262.4,669.2 261.8,666.3 261.3,663.3 260.8,660.4 260.3,657.4 259.9,654.4 259.8,653.4M257.3,577.6 257.5,574.6 257.6,571.6 257.8,568.6M539.9,322.5 542.9,322.5 545.9,322.5 548.9,322.5 551.9,322.5 554.9,322.6 557.9,322.6 560.9,322.6 562.9,322.6"/>
<path id="g15" fill="none" d="M682.5,437.5 684.9,439.3 687.3,441.1 689.6,443.0 692.0,444.9 694.3,446.8 696.5,448.8 698.8,450.8 701.0,452.8 703.2,454.9 704.6,456.2M753.4,532.1 754.4,534.9 755.4,537.8 756.3,540.6 757.2,543.5 758.1,546.4 758.9,549.3 759.7,552.2 760.4,555.1 760.9,557.0M704.3,407.5 706.7,409.3 709.1,411.1 711.5,412.9 713.9,414.7 716.2,416.6 718.6,418.5 720.9,420.4 723.1,422.4 725.4,424.4 727.6,426.4 729.8,428.4 730.5,429.1M742.4,787.3 740.3,789.5 738.2,791.6 736.1,793.8 734.0,795.9 733.3,796.6M597.1,872.9 594.2,873.6 591.3,874.3 588.3,874.9 585.4,875.6 582.5,876.1 579.5,876.7 576.6,877.2 573.6,877.7 570.6,878.2 569.6,878.3M271.2,702.0 270.3,699.2 269.3,696.3 268.5,693.4 267.6,690.6 266.8,687.7 266.0,684.8 265.2,681.9 264.5,679.0 263.8,676.1 263.6,675.1M257.8,568.6 258.0,565.6 258.3,562.6 258.6,559.6M529.9,322.4 532.9,322.5 535.9,322.5 538.9,322.5 539.9,322.5M562.9,322.6 565.9,322.6 568.9,322.6 571.9,322.6 572.9,322.6"/>
<path id="g16" fill="none" d="M573.8,584.6 576.7,585.5 579.4,586.6M704.6,456.2 706.7,458.4 708.8,460.5 710.9,462.7 712.9,464.9 714.9,467.1 716.9,469.4 718.8,471.7 720.7,474.0 722.0,475.6M740.2,503.0 741.7,505.6 743.1,508.3 744.4,511.0 745.7,513.7 747.0,516.4 748.2,519.1 749.4,521.9 750.5,524.7 751.7,527.4 752.7,530.2 753.4,532.1M730.5,429.1 732.7,431.2 734.9,433.3 737.0,435.4 739.1,437.6 741.1,439.7 743.2,441.9 745.2,444.1 747.2,446.4 749.1,448.7 749.8,449.4M750.5,778.5 748.5,780.7 746.5,782.9 744.5,785.1 742.4,787.3M569.6,878.3 566.7,878.7 563.7,879.1 560.7,879.5 557.7,879.8 554.8,880.1 551.8,880.3 548.8,880.6 545.8,880.8 542.8,880.9 540.8,881.0M286.6,737.8 285.2,735.1 283.9,732.5 282.6,729.8 281.3,727.1 280.0,724.3 278.8,721.6 277.6,718.8 276.5,716.1 275.4,713.3 274.3,710.5 273.2,707.7 272.2,704.8 271.2,702.0M258.6,559.6 258.9,556.6 259.2,553.7 259.6,550.7 259.7,549.7M520.9,322.3 523.9,322.4 526.9,322.4 529.9,322.4M572.9,322.6 575.9,322.5 578.9,322.5 581.9,322.4 582.9,322.4"/>
<path id="g17" fill="none" d="M567.9,583.5 570.9,583.9 573.8,584.6M722.0,475.6 723.8,477.9 725.6,480.3 727.4,482.7 729.1,485.2 730.8,487.7 732.5,490.1 734.1,492.7 735.7,495.2 737.3,497.8 738.8,500.4 740.2,503.0M749.8,449.4 751.7,451.7 753.6,454.1 755.5,456.4 757.3,458.8 759.1,461.2 760.9,463.6 762.7,466.0 764.4,468.5 765.0,469.3M760.1,766.9 758.2,769.3 756.3,771.6 754.4,773.9 752.5,776.2 750.5,778.5M540.8,881.0 537.8,881.1 534.8,881.2 531.8,881.3 528.8,881.3 525.8,881.3 522.8,881.2 519.8,881.2 516.8,881.1 513.8,880.9 510.8,880.8 507.8,880.6 504.8,880.3 501.8,880.1 498.8,879.8M314.5,780.4 312.6,778.1 310.7,775.7 308.9,773.3 307.1,770.9 305.4,768.5 303.7,766.0 302.0,763.6 300.3,761.1 298.6,758.6 297.0,756.0 295.4,753.5 293.9,750.9 292.4,748.3 290.9,745.7 289.4,743.1 288.0,740.5 286.6,737.8M259.7,549.7 260.1,546.7 260.5,543.7 261.0,540.8 261.4,537.8 261.6,536.8M509.0,322.0 511.9,322.1 514.9,322.2 517.9,322.2 520.9,322.3M582.9,322.4 585.9,322.4 588.9,322.4 591.9,322.5 593.9,322.5"/>
<path id="g18" fill="none" d="M512.0,592.5 514.9,591.8 517.8,591.0 520.7,590.3 523.6,589.6 526.5,588.8 529.4,588.0 532.3,587.3 535.3,586.6 538.2,586.1 541.1,585.4 544.1,584.8 547.0,584.3 550.0,583.8 553.0,583.4 556.0,583.1 558.9,583.0 561.9,583.0 564.9,583.2 567.9,583.5M765.0,469.3 766.7,471.8 768.3,474.3 769.9,476.8 771.5,479.3 773.1,481.9 774.6,484.5 776.1,487.1 777.6,489.7 779.0,492.3 780.4,495.0 781.8,497.7 783.1,500.3 784.4,503.0 785.7,505.8 786.9,508.5 788.1,511.2 789.3,514.0 790.5,516.8 791.6,519.5 792.7,522.3 793.7,525.2 794.7,528.0 795.7,530.8 796.7,533.7 797.6,536.5 798.5,539.4 799.3,542.2 800.2,545.1 801.0,548.0 801.7,550.9 802.4,553.8 803.1,556.8 803.8,559.7 804.4,562.6 805.0,565.6 805.5,568.5 806.1,571.5 806.5,574.4 807.0,577.4 807.4,580.4 807.8,583.3 808.2,586.3 808.5,589.3 808.8,592.3 809.0,595.3 809.3,598.3 809.5,601.3 809.6,604.3 809.8,607.3 809.9,610.3 810.0,613.3 810.0,616.3 810.0,619.3 810.0,622.3 810.0,625.3 810.0,628.3 809.9,631.2 809.7,634.2 809.6,637.2 809.4,640.2 809.2,643.2 808.9,646.2 808.6,649.2 808.3,652.2 808.0,655.2 807.6,658.1 807.1,661.1 806.6,664.1 806.1,667.0 805.5,670.0 804.9,672.9 804.3,675.8 803.6,678.7 802.8,681.7 802.1,684.6 801.2,687.4 800.4,690.3 799.4,693.2 798.5,696.0 797.5,698.8 796.5,701.7 795.4,704.5 794.3,707.3 793.2,710.0 792.0,712.8 790.8,715.5 789.6,718.3 788.3,721.0 787.0,723.7 785.7,726.4 784.3,729.0 782.9,731.7 781.5,734.3 780.0,737.0 778.5,739.6 777.0,742.1 775.4,744.7 773.9,747.3 772.2,749.8 770.6,752.3 768.9,754.8 767.2,757.3 765.5,759.7 763.7,762.1 761.9,764.5 760.1,766.9M498.8,879.8 495.9,879.5 492.9,879.1 489.9,878.7 486.9,878.3 484.0,877.8 481.0,877.4 478.1,876.8 475.1,876.3 472.2,875.7 469.2,875.1 466.3,874.4 463.4,873.8 460.5,873.1 457.6,872.3 454.7,871.5 451.8,870.7 448.9,869.9 446.0,869.1 443.1,868.2 440.3,867.2 437.4,866.3 434.6,865.3 431.8,864.3 429.0,863.2 426.2,862.2 423.4,861.1 420.6,859.9 417.8,858.7 415.1,857.5 412.4,856.3 409.6,855.1 406.9,853.8 404.2,852.4 401.6,851.1 398.9,849.7 396.2,848.3 393.6,846.9 391.0,845.4 388.4,843.9 385.8,842.4 383.2,840.8 380.7,839.2 378.2,837.6 375.6,836.0 373.2,834.3 370.7,832.7 368.2,830.9 365.8,829.2 363.4,827.4 360.9,825.6 358.6,823.8 356.2,821.9 353.9,820.1 351.6,818.2 349.3,816.2 347.0,814.3 344.7,812.3 342.5,810.3 340.3,808.2 338.1,806.2 336.0,804.1 333.8,802.0 331.7,799.9 329.6,797.7 327.6,795.5 325.5,793.3 323.5,791.1 321.5,788.9 319.6,786.6 317.6,784.3 315.7,782.0 314.5,780.4M261.6,536.8 262.1,533.9 262.6,530.9 263.2,528.0 263.8,525.0 264.4,522.1 265.1,519.2 265.7,516.2 266.4,513.3 267.2,510.4 267.9,507.5 268.7,504.6 269.5,501.7 270.3,498.8 271.2,496.0 272.1,493.1 273.0,490.2 273.9,487.4 274.9,484.6 275.9,481.7 277.0,478.9 278.0,476.1 279.1,473.3 280.2,470.5 281.4,467.8 282.5,465.0 283.7,462.2 284.9,459.5 286.2,456.8 287.4,454.1 288.7,451.3 290.0,448.6 291.4,445.9 292.7,443.3 294.1,440.6 295.5,438.0 296.9,435.3 298.4,432.7 299.9,430.1 301.4,427.5 302.9,424.9 304.5,422.4 306.1,419.8 307.7,417.3 309.4,414.8 311.1,412.3 312.8,409.9 314.6,407.4 316.3,405.0 318.2,402.7 320.0,400.3 321.9,398.0 323.8,395.7 325.8,393.4 327.8,391.1 329.8,388.9 331.8,386.7 333.8,384.5 335.9,382.3 338.0,380.2 340.2,378.1 342.3,376.0 344.5,374.0 346.7,372.0 349.0,370.0 351.3,368.0 353.6,366.1 355.9,364.2 358.3,362.4 360.7,360.6 363.1,358.8 365.6,357.1 368.1,355.5 370.6,353.8 373.2,352.3 375.7,350.7 378.4,349.2 381.0,347.8 383.7,346.5 386.4,345.1 389.1,343.9 391.8,342.6 394.6,341.5 397.3,340.3 400.1,339.2 402.9,338.2 405.8,337.1 408.6,336.1 411.4,335.2 414.3,334.2 417.1,333.3 420.0,332.5 422.9,331.6 425.8,330.8 428.7,330.0 431.6,329.2 434.5,328.5 437.4,327.8 440.3,327.2 443.3,326.6 446.2,326.0 449.2,325.5 452.1,325.0 455.1,324.5 458.1,324.1 461.0,323.7 464.0,323.3 467.0,323.0 470.0,322.7 473.0,322.4 476.0,322.2 479.0,322.0 482.0,321.9 485.0,321.8 488.0,321.8 491.0,321.7 494.0,321.7 497.0,321.7 500.0,321.8 503.0,321.8 506.0,321.9 509.0,322.0M593.9,322.5 596.9,322.6 599.9,322.7 602.9,322.9 605.9,323.2 608.9,323.5 611.9,323.8 614.9,324.1 617.8,324.5 620.8,324.9 623.8,325.4 626.7,325.8 629.7,326.4 632.7,326.9 635.6,327.5 638.5,328.1 641.5,328.7 644.4,329.4 647.3,330.1 650.2,330.9 653.1,331.7 656.0,332.5 658.8,333.4 661.7,334.3 664.6,335.2 667.4,336.2 670.2,337.2 673.0,338.3 675.8,339.3 678.6,340.5 681.4,341.6 684.1,342.8 686.9,344.0 689.6,345.3 692.3,346.5 695.0,347.9 697.7,349.2 700.4,350.6 703.0,352.0 705.6,353.5 708.2,355.0 710.8,356.5 713.4,358.1 715.9,359.6 718.4,361.3 721.0,362.9 723.4,364.6 725.9,366.3 728.4,368.0 730.8,369.8 733.2,371.6 735.6,373.4 737.9,375.2 740.3,377.1 742.6,379.0 744.9,380.9 747.2,382.9 749.5,384.8 751.7,386.8 753.9,388.8 756.1,390.9 758.3,393.0 760.4,395.0 762.6,397.2 764.7,399.3 766.8,401.5 768.8,403.6 770.9,405.8 772.9,408.1 774.9,410.3 776.9,412.5 778.8,414.8 780.8,417.1 782.7,419.4 784.6,421.7 786.4,424.1 788.3,426.5 790.1,428.9 791.9,431.3 793.6,433.7 795.4,436.1 797.1,438.6 798.8,441.1 800.5,443.5 802.1,446.0 803.8,448.6 805.4,451.1 807.0,453.6 808.6,456.2 810.1,458.8 811.6,461.3 813.1,463.9 814.6,466.5 816.1,469.1 817.6,471.8 819.0,474.4 820.4,477.0 821.8,479.7 823.2,482.4 824.5,485.0 825.9,487.7 827.2,490.4 828.4,493.2 829.7,495.9 830.9,498.6 832.1,501.4 833.2,504.2 834.3,506.9 835.4,509.7 836.5,512.6 837.5,515.4 838.5,518.2 839.4,521.1 840.3,523.9 841.2,526.8 842.0,529.7 842.8,532.6 843.6,535.5 844.3,538.4 845.1,541.3 845.8,544.2 846.4,547.1 847.0,550.1 847.7,553.0 848.2,555.9 848.8,558.9 849.1,561.9 849.2,564.9 849.2,567.9 849.2,570.9 849.2,573.9 849.3,576.9 849.3,579.9 849.3,582.9 849.4,585.9 849.4,588.9 849.4,591.9 849.4,594.9 849.5,597.9 849.5,600.9 849.5,603.9 849.5,606.9 849.6,609.9 849.6,612.9 849.6,615.9 849.7,618.9 849.7,621.9 849.7,624.9 849.7,627.9 849.8,630.9 849.8,633.9 849.8,636.9 849.8,639.9 849.9,642.9 849.9,645.9 849.9,648.9 850.0,651.9 850.0,654.9 850.0,657.9 850.0,660.9 850.1,663.9 850.1,666.9 850.1,669.9 850.1,672.9 850.2,675.9 850.2,678.9 850.2,681.9 850.3,684.9 850.3,687.9 850.3,689.9"/></g>
<mask id="edge" maskUnits="userSpaceOnUse" x="0" y="0" width="1080" height="1080"><g fill="none" stroke-linecap="round" stroke-linejoin="round">
<use href="#g0" stroke-width="29.0" stroke="#fff"/>
<use href="#g1" stroke-width="29.5" stroke="#fff"/>
<use href="#g2" stroke-width="30.0" stroke="#fff"/>
<use href="#g3" stroke-width="30.5" stroke="#fff"/>
<use href="#g4" stroke-width="31.0" stroke="#fff"/>
<use href="#g5" stroke-width="31.5" stroke="#fff"/>
<use href="#g6" stroke-width="32.0" stroke="#fff"/>
<use href="#g7" stroke-width="32.5" stroke="#fff"/>
<use href="#g8" stroke-width="33.0" stroke="#fff"/>
<use href="#g9" stroke-width="33.5" stroke="#fff"/>
<use href="#g10" stroke-width="34.0" stroke="#fff"/>
<use href="#g11" stroke-width="34.5" stroke="#fff"/>
<use href="#g12" stroke-width="35.0" stroke="#fff"/>
<use href="#g13" stroke-width="35.5" stroke="#fff"/>
<use href="#g14" stroke-width="36.0" stroke="#fff"/>
<use href="#g15" stroke-width="36.5" stroke="#fff"/>
<use href="#g16" stroke-width="37.0" stroke="#fff"/>
<use href="#g17" stroke-width="37.5" stroke="#fff"/>
<use href="#g18" stroke-width="38.0" stroke="#fff"/>
<use href="#g0" stroke-width="25.5" stroke="#aaa"/>
<use href="#g1" stroke-width="26.0" stroke="#aaa"/>
<use href="#g2" stroke-width="26.5" stroke="#aaa"/>
<use href="#g3" stroke-width="27.0" stroke="#aaa"/>
<use href="#g4" stroke-width="27.5" stroke="#aaa"/>
<use href="#g5" stroke-width="28.0" stroke="#aaa"/>
<use href="#g6" stroke-width="28.5" stroke="#aaa"/>
<use href="#g7" stroke-width="29.0" stroke="#aaa"/>
<use href="#g8" stroke-width="29.5" stroke="#aaa"/>
<use href="#g9" stroke-width="30.0" stroke="#aaa"/>
<use href="#g10" stroke-width="30.5" stroke="#aaa"/>
<use href="#g11" stroke-width="31.0" stroke="#aaa"/>
<use href="#g12" stroke-width="31.5" stroke="#aaa"/>
<use href="#g13" stroke-width="32.0" stroke="#aaa"/>
<use href="#g14" stroke-width="32.5" stroke="#aaa"/>
<use href="#g15" stroke-width="33.0" stroke="#aaa"/>
<use href="#g16" stroke-width="33.5" stroke="#aaa"/>
<use href="#g17" stroke-width="34.0" stroke="#aaa"/>
<use href="#g18" stroke-width="34.5" stroke="#aaa"/>
<use href="#g0" stroke-width="22.5" stroke="#666"/>
<use href="#g1" stroke-width="23.0" stroke="#666"/>
<use href="#g2" stroke-width="23.5" stroke="#666"/>
<use href="#g3" stroke-width="24.0" stroke="#666"/>
<use href="#g4" stroke-width="24.5" stroke="#666"/>
<use href="#g5" stroke-width="25.0" stroke="#666"/>
<use href="#g6" stroke-width="25.5" stroke="#666"/>
<use href="#g7" stroke-width="26.0" stroke="#666"/>
<use href="#g8" stroke-width="26.5" stroke="#666"/>
<use href="#g9" stroke-width="27.0" stroke="#666"/>
<use href="#g10" stroke-width="27.5" stroke="#666"/>
<use href="#g11" stroke-width="28.0" stroke="#666"/>
<use href="#g12" stroke-width="28.5" stroke="#666"/>
<use href="#g13" stroke-width="29.0" stroke="#666"/>
<use href="#g14" stroke-width="29.5" stroke="#666"/>
<use href="#g15" stroke-width="30.0" stroke="#666"/>
<use href="#g16" stroke-width="30.5" stroke="#666"/>
<use href="#g17" stroke-width="31.0" stroke="#666"/>
<use href="#g18" stroke-width="31.5" stroke="#666"/>
<use href="#g0" stroke-width="19.0" stroke="#2a2a2a"/>
<use href="#g1" stroke-width="19.5" stroke="#2a2a2a"/>
<use href="#g2" stroke-width="20.0" stroke="#2a2a2a"/>
<use href="#g3" stroke-width="20.5" stroke="#2a2a2a"/>
<use href="#g4" stroke-width="21.0" stroke="#2a2a2a"/>
<use href="#g5" stroke-width="21.5" stroke="#2a2a2a"/>
<use href="#g6" stroke-width="22.0" stroke="#2a2a2a"/>
<use href="#g7" stroke-width="22.5" stroke="#2a2a2a"/>
<use href="#g8" stroke-width="23.0" stroke="#2a2a2a"/>
<use href="#g9" stroke-width="23.5" stroke="#2a2a2a"/>
<use href="#g10" stroke-width="24.0" stroke="#2a2a2a"/>
<use href="#g11" stroke-width="24.5" stroke="#2a2a2a"/>
<use href="#g12" stroke-width="25.0" stroke="#2a2a2a"/>
<use href="#g13" stroke-width="25.5" stroke="#2a2a2a"/>
<use href="#g14" stroke-width="26.0" stroke="#2a2a2a"/>
<use href="#g15" stroke-width="26.5" stroke="#2a2a2a"/>
<use href="#g16" stroke-width="27.0" stroke="#2a2a2a"/>
<use href="#g17" stroke-width="27.5" stroke="#2a2a2a"/>
<use href="#g18" stroke-width="28.0" stroke="#2a2a2a"/>
<use href="#g0" stroke-width="15.0" stroke="#000"/>
<use href="#g1" stroke-width="15.5" stroke="#000"/>
<use href="#g2" stroke-width="16.0" stroke="#000"/>
<use href="#g3" stroke-width="16.5" stroke="#000"/>
<use href="#g4" stroke-width="17.0" stroke="#000"/>
<use href="#g5" stroke-width="17.5" stroke="#000"/>
<use href="#g6" stroke-width="18.0" stroke="#000"/>
<use href="#g7" stroke-width="18.5" stroke="#000"/>
<use href="#g8" stroke-width="19.0" stroke="#000"/>
<use href="#g9" stroke-width="19.5" stroke="#000"/>
<use href="#g10" stroke-width="20.0" stroke="#000"/>
<use href="#g11" stroke-width="20.5" stroke="#000"/>
<use href="#g12" stroke-width="21.0" stroke="#000"/>
<use href="#g13" stroke-width="21.5" stroke="#000"/>
<use href="#g14" stroke-width="22.0" stroke="#000"/>
<use href="#g15" stroke-width="22.5" stroke="#000"/>
<use href="#g16" stroke-width="23.0" stroke="#000"/>
<use href="#g17" stroke-width="23.5" stroke="#000"/>
<use href="#g18" stroke-width="24.0" stroke="#000"/>
</g></mask></defs>
<path fill="#7a88a6" d="M393,199 Q541,139 690,199 L690,227 Q690,230 687,230 L664,230 Q658,230 658,236 L658,300 L627,300 L627,237.5 Q627,231.5 621,231.5 L460,231.5 Q454,231.5 454,237.5 L454,300 L423,300 L423,236 Q423,230 417,230 L396,230 Q393,230 393,227 Z"/>
<g fill="none" stroke-linecap="round" stroke-linejoin="round">
<use href="#g0" stroke-width="30.2" stroke="#1c1620"/>
<use href="#g1" stroke-width="30.7" stroke="#1c1620"/>
<use href="#g2" stroke-width="31.2" stroke="#1c1620"/>
<use href="#g3" stroke-width="31.7" stroke="#1c1620"/>
<use href="#g4" stroke-width="32.2" stroke="#1c1620"/>
<use href="#g5" stroke-width="32.7" stroke="#1c1620"/>
<use href="#g6" stroke-width="33.2" stroke="#1c1620"/>
<use href="#g7" stroke-width="33.7" stroke="#1c1620"/>
<use href="#g8" stroke-width="34.2" stroke="#1c1620"/>
<use href="#g9" stroke-width="34.7" stroke="#1c1620"/>
<use href="#g10" stroke-width="35.2" stroke="#1c1620"/>
<use href="#g11" stroke-width="35.7" stroke="#1c1620"/>
<use href="#g12" stroke-width="36.2" stroke="#1c1620"/>
<use href="#g13" stroke-width="36.7" stroke="#1c1620"/>
<use href="#g14" stroke-width="37.2" stroke="#1c1620"/>
<use href="#g15" stroke-width="37.7" stroke="#1c1620"/>
<use href="#g16" stroke-width="38.2" stroke="#1c1620"/>
<use href="#g17" stroke-width="38.7" stroke="#1c1620"/>
<use href="#g18" stroke-width="39.2" stroke="#1c1620"/>
<use href="#g0" stroke-width="30.0" stroke="#e8e8e8" stroke-dasharray="2.5 7.5" stroke-linecap="butt"/>
<use href="#g1" stroke-width="30.5" stroke="#e8e8e8" stroke-dasharray="2.5 7.5" stroke-linecap="butt"/>
<use href="#g2" stroke-width="31.0" stroke="#e8e8e8" stroke-dasharray="2.5 7.5" stroke-linecap="butt"/>
<use href="#g3" stroke-width="31.5" stroke="#e8e8e8" stroke-dasharray="2.5 7.5" stroke-linecap="butt"/>
<use href="#g4" stroke-width="32.0" stroke="#e8e8e8" stroke-dasharray="2.5 7.5" stroke-linecap="butt"/>
<use href="#g5" stroke-width="32.5" stroke="#e8e8e8" stroke-dasharray="2.5 7.5" stroke-linecap="butt"/>
<use href="#g6" stroke-width="33.0" stroke="#e8e8e8" stroke-dasharray="2.5 7.5" stroke-linecap="butt"/>
<use href="#g7" stroke-width="33.5" stroke="#e8e8e8" stroke-dasharray="2.5 7.5" stroke-linecap="butt"/>
<use href="#g8" stroke-width="34.0" stroke="#e8e8e8" stroke-dasharray="2.5 7.5" stroke-linecap="butt"/>
<use href="#g9" stroke-width="34.5" stroke="#e8e8e8" stroke-dasharray="2.5 7.5" stroke-linecap="butt"/>
<use href="#g10" stroke-width="35.0" stroke="#e8e8e8" stroke-dasharray="2.5 7.5" stroke-linecap="butt"/>
<use href="#g11" stroke-width="35.5" stroke="#e8e8e8" stroke-dasharray="2.5 7.5" stroke-linecap="butt"/>
<use href="#g12" stroke-width="36.0" stroke="#e8e8e8" stroke-dasharray="2.5 7.5" stroke-linecap="butt"/>
<use href="#g13" stroke-width="36.5" stroke="#e8e8e8" stroke-dasharray="2.5 7.5" stroke-linecap="butt"/>
<use href="#g14" stroke-width="37.0" stroke="#e8e8e8" stroke-dasharray="2.5 7.5" stroke-linecap="butt"/>
<use href="#g15" stroke-width="37.5" stroke="#e8e8e8" stroke-dasharray="2.5 7.5" stroke-linecap="butt"/>
<use href="#g16" stroke-width="38.0" stroke="#e8e8e8" stroke-dasharray="2.5 7.5" stroke-linecap="butt"/>
<use href="#g17" stroke-width="38.5" stroke="#e8e8e8" stroke-dasharray="2.5 7.5" stroke-linecap="butt"/>
<use href="#g18" stroke-width="39.0" stroke="#e8e8e8" stroke-dasharray="2.5 7.5" stroke-linecap="butt"/>
<use href="#g0" stroke-width="28.0" stroke="#5a4a66"/>
<use href="#g1" stroke-width="28.5" stroke="#5a4a66"/>
<use href="#g2" stroke-width="29.0" stroke="#5a4a66"/>
<use href="#g3" stroke-width="29.5" stroke="#5a4a66"/>
<use href="#g4" stroke-width="30.0" stroke="#5a4a66"/>
<use href="#g5" stroke-width="30.5" stroke="#5a4a66"/>
<use href="#g6" stroke-width="31.0" stroke="#5a4a66"/>
<use href="#g7" stroke-width="31.5" stroke="#5a4a66"/>
<use href="#g8" stroke-width="32.0" stroke="#5a4a66"/>
<use href="#g9" stroke-width="32.5" stroke="#5a4a66"/>
<use href="#g10" stroke-width="33.0" stroke="#5a4a66"/>
<use href="#g11" stroke-width="33.5" stroke="#5a4a66"/>
<use href="#g12" stroke-width="34.0" stroke="#5a4a66"/>
<use href="#g13" stroke-width="34.5" stroke="#5a4a66"/>
<use href="#g14" stroke-width="35.0" stroke="#5a4a66"/>
<use href="#g15" stroke-width="35.5" stroke="#5a4a66"/>
<use href="#g16" stroke-width="36.0" stroke="#5a4a66"/>
<use href="#g17" stroke-width="36.5" stroke="#5a4a66"/>
<use href="#g18" stroke-width="37.0" stroke="#5a4a66"/>
</g>
<g filter="url(#soft)"><g transform="scale(0.1)" fill="none" stroke-width="19.6"><path stroke="#ec7a3e" d="M5321 5861l-71 122M5343 5856l-71 121M5435 5837l-85 119M5617 5818l-87 104M5638 5819l-90 101M5934 5955l-116 16M5957 5982l-107 6M5973 6004l-107 0M6013 6083l-99 -26M5900 6514l-24 -98M5882 6535l-18 -99M5659 6692l27 -101M5639 6700l30 -100M5210 6734l82 -69M5178 6728l96 -64M5156 6722l97 -61M4856 6562l106 -20M4839 6547l106 -17M4674 6319l105 25M4810 5543l15 123M4828 5525l11 123M5010 5389l-24 120M5572 5298l-92 78M5596 5302l-94 75M5788 5364l-108 55M6105 5607l-128 -6M6171 5700l-120 -20M6182 5718l-119 -23M6280 5960l-97 -47M5228 7053l80 -74M5206 7050l81 -73M5070 7022l96 -61M5049 7016l97 -59M4689 6830l114 -17M4671 6816l114 -15M4493 6627l112 11M4472 6598l116 20M4457 6575l115 23M4412 6499l107 22M4402 6479l106 24M4307 6200l97 53M4303 6178l95 55M4363 5611l54 104M4408 5514l42 114M4515 5352l21 121M4530 5334l18 121M5535 4951l-82 79M5560 4952l-83 78M5689 4969l-85 69M5712 4974l-86 67M5999 5071l-105 39M6455 5493l-114 -26M6510 5596l-108 -32M6623 6045l-91 -71M6625 6072l-89 -72M6563 6537l-58 -94M6478 6737l-41 -101M6467 6757l-39 -102M6363 6913l-18 -115M6350 6929l-16 -115M6297 6989l-5 -119M6280 7007l-3 -119M5704 7335l60 -104M5607 7357l58 -97M5444 7378l74 -91M5418 7380l75 -89M5330 7383l86 -86M4992 7343l99 -66M4877 7311l104 -58M4827 7293l101 -56M4490 7106l118 -21M4470 7090l119 -18M4256 6870l119 10M4003 6318l100 57M3983 6210l95 63M3967 6031l87 70M3966 6006l86 71M3966 5920l83 80M4085 5400l45 116M4275 5103l12 119M4291 5085l10 119M4490 4906l-11 113M4898 4701l-51 106M4920 4694l-52 105M5540 4632l-91 77M5756 4664l-95 64M5779 4670l-96 62M6264 4870l-101 32M6397 4964l-115 13M6418 4981l-115 11M6711 5305l-112 -17M6899 5705l-107 -52M6906 5728l-107 -54M6492 7288l3 -129M6215 7491l29 -122M6191 7505l31 -122M6097 7554l43 -122M5398 7720l76 -91M5377 7721l77 -90M5246 7718l92 -84M4877 7659l98 -64M4476 7494l114 -36M4446 7476l111 -35M4423 7462l112 -34M4058 7156l125 7M3968 7046l118 10M3952 7025l118 12M3812 6793l118 37M3775 6714l112 34M3765 6689l111 36M3669 6384l105 62M3653 6302l101 63M3649 6277l100 65M3644 6243l101 77M3683 5536l65 100M3943 4997l18 121M4028 4892l12 116M4621 4463l-37 109M4713 4425l-38 105M4743 4414l-41 105M4764 4406l-42 104M4992 4342l-55 99M5014 4337l-57 98M5099 4322l-70 98M5235 4305l-70 92M5267 4302l-70 92M5288 4301l-71 91M5617 4304l-97 80M5639 4306l-98 79M5723 4316l-95 76M5748 4319l-96 75M6154 4427l-110 55M6271 4476l-124 44M6292 4486l-124 43M6631 4695l-121 24M7031 5128l-133 -28M7091 5227l-130 -36M7191 5442l-121 -47M7277 5722l-111 -64M7044 7184l-31 -125M6970 7290l-20 -130M6956 7309l-18 -130M6830 7455l-5 -131M6814 7472l-4 -131M6070 7949l47 -116M6048 7957l48 -115M5724 8043l68 -107M5697 8047l70 -106M5662 8053l71 -105M4947 8045l97 -79M4925 8041l98 -78M4631 7965l111 -63M4451 7895l129 -48M4427 7884l129 -46M4252 7792l131 -35M4071 7673l133 -21M4049 7657l133 -20M3755 7384l134 7M3505 7023l126 34M3336 6591l114 63M3330 6566l114 64M3312 6490l109 62M3270 6164l97 82M3269 6140l97 83M3266 5995l91 83M3269 5896l87 95M3271 5869l86 96M3291 5681l77 99M3446 5165l48 112M3621 4859l29 113M3806 4631l5 125M3821 4615l4 125M3843 4593l7 119M3859 4577l6 119M3936 4504l-8 127M4231 4284l-23 120M4254 4270l-25 119M4327 4227l-34 122M4348 4216l-36 121M5542 3939l-85 92M5569 3940l-86 91M5672 3945l-104 87M5748 3952l-102 84M5771 3954l-103 83M5999 3993l-108 73M6021 3998l-109 72M6236 4058l-119 61M6319 4087l-125 55M6341 4096l-125 54M6651 4246l-119 41M6674 4260l-120 40M6782 4330l-133 27M6802 4344l-133 25M7128 4630l-137 -2M7414 5026l-130 -29M7426 5049l-129 -31M7666 6465l-83 -99M7558 6934l-57 -120M7314 7423l-28 -125M7302 7441l-27 -125M6981 7810l-1 -127M6583 8106l28 -126M6268 8262l51 -123M6133 8312l53 -118M6113 8318l54 -117M5552 8433l89 -104M5185 8439l93 -91M5159 8438l94 -90M4913 8410l96 -81M4891 8407l97 -80M4815 8392l103 -76M4789 8387l104 -75M4356 8252l122 -53M3990 8061l128 -32M3970 8048l129 -31M3942 8030l129 -29M3854 7968l126 -25M3835 7953l127 -24M3683 7828l126 -15M3666 7813l126 -14M3536 7684l135 5M3309 7401l133 26M3295 7379l133 28M2959 6547l107 63M2954 6523l106 64M2918 6194l97 91M2917 6168l96 92M2990 5432l67 103M3010 5359l65 100M3016 5337l64 100M3073 5173l54 111M3081 5152l53 111M3100 5104l48 118M3149 4996l43 118M3158 4975l42 118M3173 4946l38 122M3184 4924l37 123M3248 4810l34 117M3260 4790l33 118M3304 4721l29 118M3317 4700l28 118M3335 4674l27 118M3612 4342l-1 129M3672 4283l-1 124M3746 4216l-11 129M3864 4120l-13 123M4655 3709l-50 112M4822 3662l-66 112M5097 3608l-69 103M5118 3605l-70 103M5200 3595l-85 103M5226 3593l-86 102M5261 3590l-82 100M6279 3691l-118 64M6305 3699l-119 63M6379 3722l-125 58M6400 3730l-125 57M6431 3741l-111 61M6585 3802l-126 49M6610 3813l-126 48M6877 3953l-128 36M6942 3993l-124 35M6961 4005l-124 34M7070 4080l-127 27M7233 4209l-136 12M7252 4226l-136 11M7419 4388l-136 0M7717 4773l-136 -26M7729 4792l-136 -27M7869 5055l-132 -45M7878 5076l-132 -46M8066 5675l-115 -68M8094 5864l-110 -77M8097 5898l-110 -82M8100 5924l-109 -84M8112 6157l-102 -89M8112 6183l-101 -90M8108 6365l-96 -101M8107 6389l-95 -102M7952 7083l-61 -119M7944 7103l-60 -120M7856 7291l-47 -129M7841 7320l-42 -136M7830 7339l-41 -137M7663 7606l-21 -144M7610 7676l-23 -134M7597 7693l-22 -134M7359 7957l-4 -132M7340 7975l-3 -132M7284 8029l-1 -131M7056 8222l20 -135M7039 8234l21 -134M6536 8540l35 -121M6070 8716l60 -117M6046 8722l61 -116M5486 8818l96 -106M5113 8820l92 -95M4389 8680l129 -64M4183 8602l129 -55M4101 8566l136 -49M4076 8554l136 -48M4023 8528l126 -50M3759 8376l134 -34M3674 8318l138 -26M3182 7869l134 3M3011 7644l140 27M2805 7283l131 47M2796 7263l131 48M2745 7144l125 48M2735 7119l125 49M2723 7086l124 52M2714 7063l124 53M2590 6565l108 77M2586 6541l107 78M2561 6163l93 96M2561 6140l92 97M2565 6061l87 97M2563 6034l89 100M2561 5796l92 98M2561 5775l91 98M2688 4997l72 114M2696 4972l71 115M2729 4867l67 118M2740 4835l61 131M2962 4341l43 131M2973 4322l42 132M3151 4047l28 132M3165 4028l26 132M3255 3919l19 132M3269 3902l18 133M3321 3846l12 135M3340 3826l10 135M3403 3763l3 138M3422 3745l1 138M3734 3507l-29 137M3756 3494l-32 136M3890 3426l-48 134M4090 3347l-55 126M4220 3306l-71 126M4515 3239l-78 115M4729 3213l-91 109M4753 3211l-92 109M5266 3212l-101 95M6219 3239l-112 86M6243 3242l-113 85M6918 3450l-126 52M7019 3500l-140 40M7372 3731l-134 24M7389 3744l-134 23M7478 3817l-145 9M7494 3831l-146 8M7570 3900l-140 7M7651 3980l-134 7M7710 4042l-139 -1M7728 4061l-139 -3M7794 4137l-143 -11M7816 4162l-135 -4M7885 4248l-133 -7M7899 4266l-133 -8M8064 4504l-140 -33M8118 4593l-131 -24M8339 5026l-129 -47M8508 6170l-100 -99M8509 6252l-100 -104M8510 6332l-100 -106M8511 6427l-100 -101M8511 6451l-100 -101M5340 5969l-62 105M5581 5928l-55 91M5601 5928l-57 89M5714 5937l-70 71M5731 5942l-71 68M5791 5966l-82 44M5936 6208l-58 -45M5381 6659l48 -69M5058 6588l83 -36M4961 6530l84 -25M4858 6437l83 -10M4844 6420l83 -8M4706 6078l76 52M4726 5889l57 77M5268 5398l-46 86M5291 5394l-49 85M5368 5385l-50 79M5467 5385l-66 73M5489 5386l-68 71M5629 5411l-78 59M5656 5421l-86 56M5674 5427l-88 54M5948 5590l-101 17M6020 5663l-101 5M6166 5898l-87 -34M6173 5919l-86 -36M5276 6967l61 -64M5254 6964l63 -62M5178 6954l70 -57M5158 6950l71 -56M4996 6903l77 -44M4679 6702l93 -7M4665 6688l93 -5M4508 6484l91 19M4496 6462l90 21M4426 6299l83 32M5108 5085l-39 86M5131 5079l-41 85M5227 5059l-51 81M6004 5174l-83 30M6026 5186l-83 28M6136 5261l-89 16M6155 5276l-89 14M6424 5633l-89 -23M6434 5655l-89 -25M6503 5866l-83 -41M6507 5889l-82 -42M6526 6010l-77 -55M6532 6175l-69 -59M6507 6394l-55 -72M6502 6416l-54 -73M6482 6490l-49 -74M6441 6601l-39 -87M6353 6769l-24 -93M5885 7173l26 -89M5387 7288l62 -73M5333 7289l66 -71M5100 7269l71 -61M4725 7143l85 -38M4320 6796l101 12M4273 6728l97 15M4261 6710l96 16M4084 6253l80 46M4081 6233l79 48M4149 5495l47 82M4534 4989l-10 95M4553 4975l-11 95M4944 4784l-39 86M5068 4752l-49 83M5396 4720l-65 71M5523 4723l-62 64M5546 4725l-63 64M5770 4760l-74 52M5791 4766l-75 51M5915 4802l-83 42M6134 4897l-80 31M6287 4993l-84 21M6401 5084l-87 12M6416 5098l-87 10M6663 5401l-92 -17M6759 5592l-87 -25M6851 6423l-67 -78M6847 6446l-65 -79M6820 6565l-58 -88M6815 6585l-57 -89M6713 6841l-40 -95M6702 6862l-38 -96M6686 6890l-37 -95M6502 7137l-12 -100M6050 7467l26 -96M5937 7516l31 -92M5914 7525l32 -92M5532 7614l63 -82M5509 7616l64 -81M5434 7621l67 -78M5343 7624l62 -74M4189 7156l96 -8M3903 6759l93 20M3775 6410l90 52M3738 5757l65 79M3741 5733l64 80M3756 5651l59 80M3761 5626l58 81M3845 5356l44 85M3857 5328l40 91M3866 5309l38 92M3898 5243l34 92M4011 5062l23 90M4024 5046l21 90M4143 4906l9 92M4159 4890l8 92M4214 4836l1 95M4232 4820l-1 95M4443 4662l-21 96M4470 4646l-21 95M4487 4635l-22 94M4550 4600l-24 92M4663 4545l-32 91M4832 4481l-39 87M5172 4406l-55 79M5196 4403l-57 78M5269 4397l-60 76M5637 4402l-80 66M5662 4405l-80 65M6492 4718l-103 24M7058 5393l-103 -30M7067 5413l-102 -31M7159 5671l-94 -43M7215 5990l-84 -59M7217 6012l-84 -60M7202 6481l-67 -87M7198 6503l-65 -88M7180 6595l-61 -90M7130 6772l-52 -92M7122 6794l-51 -92M6927 7176l-22 -108M6548 7573l12 -110M6441 7650l13 -103M6139 7813l32 -99M6120 7822l33 -99M5235 7974l80 -76M5213 7973l80 -75M5140 7967l86 -73M5117 7965l87 -72M5039 7956l79 -70M4848 7920l93 -61M4826 7914l94 -60M4419 7765l99 -41M4397 7754l99 -40M3862 7348l114 4M3845 7330l114 5M3766 7235l111 10M3638 7048l104 17M3603 6987l105 25M3387 6324l88 64M3384 6304l87 65M3376 6232l84 62M3374 6207l83 64M3367 6076l79 69M3367 6052l79 70M3368 5922l74 77M3369 5901l73 78M3557 5159l40 89M3625 5032l33 91M3638 5011l32 91M3683 4940l22 102M3697 4920l20 103M3946 4628l1 103M4411 4293l-26 99M4550 4227l-33 97M4569 4218l-34 97M4965 4093l-48 89M4987 4088l-49 89M5070 4073l-63 89M5096 4069l-64 89M5203 4054l-63 85M5311 4045l-67 83M5789 4060l-81 70M5810 4063l-82 69M5839 4067l-91 67M5997 4098l-96 60M6329 4203l-96 48M6350 4211l-97 47M6510 4288l-104 37M6530 4298l-105 36M6745 4432l-106 26M6846 4509l-106 21M6914 4567l-108 15M6930 4583l-109 14M7015 4665l-109 8M7030 4681l-109 7M7238 4944l-115 -18M7250 4962l-115 -20M7377 5190l-111 -37M7387 5211l-110 -39M7487 5476l-99 -42M7535 5666l-95 -57M7539 5686l-94 -58M7561 5832l-88 -60M7574 5964l-84 -70M7575 5985l-84 -70M7528 6670l-62 -85M7433 6981l-45 -101M7307 7243l-31 -106M7294 7264l-29 -106M7225 7374l-23 -106M7211 7393l-22 -107M6740 7878l6 -104M6516 8026l27 -108M6220 8170l34 -100M5889 8274l51 -95M5868 8279l52 -95M5504 8333l74 -86M5481 8334l75 -86M5256 8338l74 -79M5155 8333l87 -76M5132 8332l88 -75M5101 8329l87 -74M4961 8313l82 -70M4939 8309l83 -69M4907 8304l83 -68M4802 8284l84 -65M4782 8279l84 -64M4382 8150l102 -45M4332 8128l98 -45M4240 8084l97 -42M3981 7930l109 -24M3961 7917l109 -22M3815 7805l112 -13M3465 7441l111 13M3450 7421l111 14M3340 7258l108 23M3328 7238l108 24M3255 7105l108 35M3113 6747l98 48M3106 6722l97 49M3051 6484l90 58M3034 6366l86 61M3031 6346l86 61M3026 6290l83 59M3018 5910l73 82M3102 5396l54 87M3156 5231l46 94M3164 5208l45 94M3449 4682l23 95M3988 4151l-13 102M4125 4060l-24 104M4152 4044l-25 104M4172 4032l-26 104M4453 3890l-37 99M4475 3881l-38 99M4706 3798l-45 95M4727 3792l-46 95M4801 3771l-46 93M4822 3765l-47 93M5091 3711l-58 88M5853 3705l-81 70M5873 3707l-82 69M6500 3879l-96 48M6903 4093l-106 29M6971 4138l-107 26M7123 4255l-115 13M7186 4310l-117 8M7202 4324l-118 7M7458 4597l-114 -5M7474 4616l-114 -6M7617 4819l-117 -23M7688 4939l-113 -25M7699 4959l-113 -26M7794 5156l-108 -32M7802 5176l-108 -33M7882 5393l-109 -55M7976 5809l-98 -71M7979 5831l-97 -72M7864 7008l-53 -105M7791 7177l-47 -102M7681 7379l-30 -119M7669 7400l-29 -119M7627 7466l-27 -117M7542 7585l-21 -115M7528 7604l-20 -116M7476 7671l-13 -118M7437 7717l-11 -116M7421 7736l-10 -116M7185 7978l-3 -107M7169 7993l-2 -107M6781 8287l25 -110M6762 8299l26 -110M6682 8347l18 -102M6655 8362l25 -105M6636 8373l26 -105M6275 8538l36 -100M6251 8547l37 -100M5257 8716l82 -85M5098 8710l93 -80M5072 8708l93 -79M4669 8646l103 -65M4639 8639l95 -66M4359 8554l103 -55M4134 8461l106 -46M3897 8334l109 -35M3876 8320l109 -34M3725 8220l115 -24M3707 8207l115 -23M3525 8062l117 -13M3506 8045l117 -12M3378 7921l120 -1M2904 7240l112 39M2893 7217l111 40M2841 7096l105 38M2774 6907l99 42M2768 6885l99 43M2679 6441l88 66M2665 6258l81 68M2664 6232l81 69M2663 6136l78 73M2661 5926l80 73M2663 5814l78 71M2666 5782l78 81M2824 4928l59 97M2832 4904l58 97M2935 4644l43 116M3088 4342l34 114M3182 4192l31 109M3195 4173l30 109M3830 3578l-24 113M3851 3567l-26 113M3967 3511l-35 110M3990 3502l-37 110M4298 3398l-62 107M4425 3367l-52 100M4666 3329l-69 95M4698 3325l-67 94M4724 3323l-67 93M5407 3319l-91 81M5815 3320l-84 84M5840 3320l-83 84M6401 3384l-90 68M6420 3389l-91 67M7071 3656l-109 36M7322 3831l-114 20M7342 3847l-115 19M7368 3868l-112 20M7677 4169l-122 -7M7691 4185l-122 -8M8077 4740l-113 -25M8213 5011l-112 -39M8307 5259l-109 -57M8315 5284l-109 -58M8350 5413l-105 -62M8392 5608l-99 -62M8400 6290l-86 -89M5211 5915l-112 -75M5235 5909l-118 -73M5313 5888l-118 -72M5508 5849l-126 -77M5530 5846l-126 -79M5888 5944l-20 -123M5905 5960l-13 -124M5954 6019l10 -114M5967 6039l17 -113M5963 6358l94 -51M5843 6541l116 -15M5826 6558l116 -10M5474 6718l104 60M5063 6664l54 106M5045 6656l51 107M4719 6355l-22 116M4693 5766l-116 65M4702 5746l-118 61M4784 5612l-127 30M4848 5539l-131 13M4872 5516l-133 9M5024 5408l-128 -26M5723 5363l-71 -116M5743 5371l-68 -118M5947 5487l-23 -127M6145 5703l16 -130M6159 5725l20 -129M6238 5900l47 -106M6280 6143l70 -91M6210 6509l101 -50M6176 6579l106 -41M6148 6626l110 -37M6025 6778l112 -7M6010 6793l112 -4M5002 6976l54 101M4835 6900l38 111M4814 6888l36 111M4397 6412l-35 115M4324 5843l-93 74M4328 5821l-95 72M4444 5499l-117 36M4456 5477l-118 33M4888 5090l-125 -32M4908 5080l-124 -34M4978 5052l-108 -49M5000 5044l-107 -51M5769 5011l-58 -95M5931 5065l-44 -102M5951 5074l-42 -103M6164 5200l-25 -114M6263 5286l-4 -112M6434 5505l23 -115M6446 5525l25 -115M6568 5838l56 -114M6573 5860l58 -113M6602 6161l82 -92M6591 6311l91 -80M6587 6337l92 -78M6436 6762l109 -29M6425 6782l109 -27M6408 6808l113 -30M6351 6889l117 -23M6337 6907l118 -21M6172 7073l119 5M6154 7087l118 7M6130 7106l114 14M5791 7284l105 48M5770 7291l104 50M5695 7313l104 55M5439 7355l98 73M5412 7356l97 75M5359 7358l82 80M5005 7322l75 101M4765 7242l54 114M4626 7169l38 119M4542 7114l23 118M4266 6844l-18 116M4020 6285l-62 102M4016 6261l-64 100M4002 6168l-71 89M3991 6033l-77 92M3993 5868l-87 76M3995 5842l-88 75M4164 5300l-117 37M4287 5126l-118 14M4772 4773l-116 -37M4803 4760l-110 -43M4896 4726l-107 -50M4917 4720l-106 -52M4990 4699l-110 -55M5014 4693l-109 -57M5361 4651l-87 -80M5457 4652l-76 -84M5859 4715l-59 -98M5881 4722l-58 -99M5912 4731l-47 -97M6154 4835l-40 -108M6176 4846l-38 -109M6464 5053l-8 -113M6481 5069l-7 -113M6722 5367l19 -120M6762 5436l33 -109M6774 5460l35 -108M6847 5625l47 -108M6901 5802l59 -110M6938 6028l76 -100M6940 6049l77 -99M6677 7045l130 -29M6551 7196l132 -12M6528 7220l128 -5M6201 7472l116 33M6104 7524l122 35M6082 7534l122 37M5936 7595l110 52M5903 7607l116 51M5879 7615l115 53M5538 7687l104 74M5512 7689l103 76M5289 7696l89 88M5204 7691l76 91M5178 7689l75 92M5105 7681l74 95M5084 7678l72 96M4914 7644l64 103M4893 7638l63 104M4699 7574l49 110M4669 7562l49 111M4388 7411l31 121M4370 7399l30 121M4208 7272l17 126M3964 7000l-18 119M3915 6927l-18 129M3901 6905l-20 128M3883 6874l-29 118M3788 6683l-45 112M3779 6660l-47 112M3688 6355l-63 114M3683 6331l-65 114M3666 6221l-72 107M3743 5422l-110 62M3751 5399l-111 61M3849 5184l-113 32M3861 5163l-114 30M4412 4601l-119 -21M4556 4519l-113 -34M4579 4508l-112 -35M4677 4464l-105 -45M4811 4415l-103 -52M4883 4394l-112 -53M5044 4356l-104 -63M5069 4351l-104 -65M5878 4368l-68 -103M5902 4374l-67 -104M6619 4715l-22 -130M6748 4827l-2 -127M6763 4841l-1 -127M7014 5146l27 -126M7189 5506l50 -130M7197 5528l51 -129M7292 5975l80 -108M7300 6265l93 -97M7299 6291l94 -96M7286 6437l100 -82M7283 6462l101 -81M7222 6737l111 -57M7215 6761l112 -56M7060 7114l126 -40M6294 7826l118 40M6275 7835l118 41M6146 7894l113 50M6047 7932l123 51M5646 8031l102 76M5620 8035l101 77M5235 8052l101 94M5213 8051l100 95M4978 8026l89 106M4953 8022l88 107M4457 7871l46 121M4303 7794l32 123M3998 7587l11 128M3981 7572l9 128M3850 7450l-2 129M3833 7433l-4 129M3607 7150l-20 135M3469 6894l-44 125M3425 6789l-54 115M3413 6757l-51 123M3405 6735l-53 123M3336 6485l-68 113M3299 6237l-80 102M3290 6038l-88 87M3290 6015l-89 86M3297 5832l-95 78M3300 5809l-96 77M3326 5623l-103 79M3331 5597l-104 78M3356 5490l-109 75M3409 5321l-114 62M3417 5298l-114 60M3805 4668l-130 16M3819 4652l-130 15M3896 4574l-124 0M4253 4299l-124 -24M4683 4095l-112 -53M4705 4087l-112 -54M4887 4034l-105 -64M4912 4027l-105 -65M4944 4020l-108 -66M4965 4015l-107 -67M5304 3969l-97 -83M5328 3967l-97 -84M5402 3964l-102 -87M5423 3963l-101 -87M5767 3978l-86 -101M5983 4014l-78 -110M6008 4019l-77 -111M6133 4051l-74 -116M6154 4057l-73 -116M6185 4067l-68 -117M6833 4396l-26 -135M6914 4459l-11 -131M7098 4632l-1 -138M7112 4648l1 -138M7380 5014l27 -144M7554 5418l59 -124M7561 5441l61 -123M7642 5838l80 -110M7659 6135l91 -87M7659 6160l91 -86M7648 6404l98 -93M7646 6425l99 -92M7599 6710l110 -75M7440 7156l124 -51M7379 7272l125 -39M7237 7490l130 -24M7222 7509l130 -23M7092 7664l126 -3M7074 7684l126 -2M7019 7740l127 2M7003 7756l127 3M6981 7777l126 5M6965 7792l126 6M6546 8100l121 36M6522 8113l120 37M6211 8258l123 51M6189 8266l123 52M6006 8326l123 60M5751 8383l108 75M5726 8387l108 76M5694 8392l101 78M5672 8395l100 79M4858 8377l73 107M4687 8338l76 115M3113 6982l-51 116M2973 6492l-73 110M2970 6469l-74 109M2944 6233l-83 104M2939 6021l-90 96M2944 5873l-94 84M2946 5852l-95 83M2949 5819l-96 81M2951 5793l-96 80M2989 5542l-104 72M2995 5516l-105 71M4240 3908l-125 -33M4543 3773l-118 -50M4797 3693l-110 -63M5117 3629l-103 -77M5393 3606l-107 -86M5415 3605l-106 -87M5592 3605l-83 -94M5613 3606l-83 -94M5851 3625l-75 -102M5874 3628l-74 -102M6020 3652l-84 -109M6437 3768l-59 -120M6460 3777l-58 -120M6536 3807l-53 -122M6847 3963l-40 -131M7398 4401l-4 -142M7413 4417l-3 -142M7476 4487l6 -139M7566 4598l15 -139M7789 4947l40 -134M7799 4967l41 -134M7996 5477l68 -123M8076 5924l88 -108M8088 6151l96 -104M8087 6313l101 -104M8053 6645l114 -90M7915 7109l133 -65M7907 7128l133 -64M7871 7207l131 -48M7860 7231l132 -47M7768 7400l138 -43M7757 7420l138 -41M7739 7449l133 -29M7417 7864l137 -7M7217 8058l130 9M6970 8256l124 24M6875 8321l130 24M6847 8339l131 24M6654 8453l123 37M6547 8508l131 38M6526 8518l131 39M6497 8532l123 44M6476 8541l123 45M6381 8582l132 44M6261 8629l129 51M6239 8637l129 52M5954 8721l121 67M5931 8727l121 68M5596 8784l115 83M5184 8799l101 100M5162 8798l101 101M4706 8741l80 116M4682 8736l79 117M4165 8568l45 127M4141 8558l44 127M4088 8533l56 135M3863 8413l30 132M3788 8366l39 141M3766 8352l37 141M3229 7886l-5 141M3211 7866l-7 141M3021 7616l-22 140M3006 7594l-24 140M2988 7566l-30 133M2975 7545l-31 133M2843 7305l-42 133M2810 7234l-43 136M2800 7214l-44 136M2624 6627l-76 106M2618 6595l-76 109M2615 6570l-77 108M2597 6425l-82 109M2586 6239l-88 98M2586 6213l-89 97M2589 6062l-95 84M2583 5907l-90 90M2583 5885l-90 89M2645 5275l-115 81M2784 4784l-127 59M2793 4761l-127 58M2907 4499l-130 43M2917 4479l-130 42M3270 3937l-139 11M4284 3313l-128 -66M4310 3306l-128 -67M4396 3286l-125 -72M4422 3280l-124 -74M4924 3229l-106 -98M4948 3229l-105 -98M5189 3235l-93 -100M5215 3235l-93 -100M5302 3237l-96 -98M5857 3236l-102 -97M5878 3236l-102 -97M5965 3238l-97 -100M5991 3239l-96 -102M6376 3291l-81 -117M6502 3321l-67 -119M6522 3327l-66 -120M6786 3418l-61 -130M6931 3483l-59 -137M7286 3697l-31 -143M7456 3830l-12 -139M7614 3977l-4 -142M7672 4036l-3 -146M7689 4054l-2 -146M7785 4163l4 -146M7912 4324l21 -137M7927 4344l22 -136M8015 4472l31 -132M8044 4518l33 -131M8121 4646l36 -134M8244 4875l40 -140M8287 4966l48 -132M8431 5382l69 -126M8449 5457l71 -129M8453 5479l72 -128M8469 5554l79 -110M8473 5576l79 -109M8480 5648l88 -110M8480 5671l92 -110M8483 6065l99 -96M8484 6087l99 -96M8485 6255l99 -101M8486 6405l99 -105M8487 6430l99 -105M8487 6463l99 -102M8487 6486l99 -102M8488 6618l99 -106M8489 6644l99 -106M5312 5775l-108 -60M5340 5770l-113 -61M5572 5733l-103 -75M5779 5761l-84 -100M5810 5772l-80 -106M6058 6021l11 -107M6026 6433l88 -55M5966 6532l96 -32M5951 6552l97 -26M5805 6685l97 7M5011 6740l44 90M4620 6362l-21 102M4609 6339l-24 101M4595 6307l-27 104M4587 6283l-31 103M4545 6094l-59 82M4543 6070l-62 80M4632 5666l-102 41M4644 5644l-103 38M4773 5473l-111 10M4791 5455l-111 7M4961 5330l-108 -20M4988 5316l-107 -24M5130 5257l-104 -40M5463 5213l-82 -73M5488 5214l-80 -75M5771 5274l-63 -102M5794 5283l-60 -103M5871 5318l-50 -109M5895 5331l-47 -110M6067 5455l-24 -120M6213 5630l9 -111M6300 5796l27 -108M6334 5902l37 -100M6341 5937l42 -85M6347 5962l45 -84M6361 6050l50 -86M6368 6163l60 -72M6367 6192l62 -70M6309 6496l83 -50M6043 6880l100 -7M5526 7113l84 52M5231 7120l71 72M4527 6773l6 100M4290 6391l-37 88M4242 6222l-49 87M4219 5994l-67 72M4219 5955l-70 75M4544 5210l-115 14M4564 5191l-116 11M4659 5113l-112 -5M5980 4990l-48 -90M6480 5407l12 -99M6653 5789l47 -91M6659 5811l48 -91M6695 6153l68 -82M6694 6181l69 -81M6653 6470l84 -63M5609 7427l94 50M5582 7431l93 52M5372 7451l77 66M5256 7451l74 71M5229 7449l73 73M4957 7408l59 86M4540 7228l36 105M4510 7208l31 104M4421 7143l23 107M4402 7127l21 108M4304 7036l6 106M4287 7019l4 106M4004 6564l-38 91M3995 6541l-39 91M3966 6454l-43 92M3958 6428l-44 91M3920 6251l-55 80M3916 6229l-56 79M3896 5938l-69 70M3897 5914l-70 69M3940 5601l-86 57M3963 5517l-90 52M3972 5493l-91 51M4188 5098l-104 22M4282 4993l-100 6M4301 4974l-100 4M4368 4914l-102 -1M4460 4843l-99 -11M4592 4759l-100 -20M4616 4745l-100 -22M4921 4622l-91 -44M5063 4587l-87 -52M5088 4582l-86 -54M5361 4558l-71 -67M5787 4603l-58 -80M5814 4609l-57 -81M5915 4638l-45 -82M6157 4736l-35 -88M6180 4748l-34 -89M6416 4897l-20 -95M6466 4936l-16 -96M6594 5055l-4 -97M6898 5503l30 -99M7026 5946l60 -86M7038 6049l66 -83M7043 6129l70 -77M7044 6153l71 -76M7032 6408l84 -68M6956 6730l98 -50M6871 6926l107 -42M6860 6947l108 -40M6569 7320l107 0M6550 7338l107 2M5825 7733l92 50M5666 7767l95 56M5576 7780l87 62M5548 7784l86 63M5220 7790l73 76M5087 7776l72 81M5063 7772l71 82M4237 7420l21 104M4218 7405l19 104M3956 7148l-6 104M3939 7127l-7 104M3868 7032l-16 101M3770 6871l-28 99M3759 6850l-30 99M3703 6732l-32 107M3694 6709l-33 107M3681 6678l-35 106M3672 6654l-37 106M3628 6523l-45 101M3621 6497l-46 101M3666 5351l-94 50M3675 5329l-94 49M3786 5102l-103 39M3799 5081l-104 37M3914 4918l-98 12M3931 4898l-98 11M4003 4816l-102 9M4086 4733l-98 -1M4279 4578l-97 -14M4545 4422l-95 -29M4621 4387l-98 -32M4643 4378l-97 -33M4919 4287l-95 -46M4974 4274l-83 -52M4998 4269l-83 -53M5149 4244l-90 -58M5912 4276l-65 -89M5936 4282l-64 -90M5969 4290l-53 -89M6118 4334l-53 -95M6142 4342l-52 -96M6266 4391l-46 -101M6287 4400l-45 -102M6998 4946l8 -114M7014 4967l10 -114M7155 5179l23 -117M7321 5580l51 -99M7329 5605l53 -98M7395 6371l83 -80M7372 6546l89 -71M7367 6574l91 -70M7298 6834l99 -54M7286 6868l102 -61M7276 6894l103 -59M7164 7136l105 -32M7151 7159l106 -31M7133 7189l106 -27M7120 7210l106 -26M7042 7324l109 -19M7025 7346l109 -18M6866 7530l116 -10M6849 7547l116 -8M6711 7673l109 9M6633 7733l119 5M6265 7952l104 35M6241 7963l104 37M6043 8041l100 47M5707 8124l88 62M5532 8146l83 69M5439 8153l83 73M5412 8154l82 73M5196 8152l79 81M4957 8127l77 90M4930 8122l76 91M4814 8099l60 94M4780 8091l65 96M4578 8031l53 102M3890 7631l11 113M3871 7614l9 113M3710 7452l-3 114M3644 7375l-5 117M3624 7350l-13 110M3441 7071l-28 111M3250 6571l-54 100M3245 6548l-56 99M3215 6386l-61 102M3201 6272l-67 91M3195 6192l-70 81M3193 6169l-71 80M3190 5981l-76 78M3190 5957l-77 77M3192 5922l-78 83M3202 5780l-82 66M3234 5578l-87 57M3240 5551l-88 56M3342 5220l-95 41M3500 4908l-103 30M3513 4888l-104 29M3643 4707l-108 20M3907 4432l-113 3M4052 4316l-111 -8M5548 3861l-74 -79M6066 3927l-71 -97M6090 3933l-70 -97M6277 3988l-57 -102M6298 3995l-56 -102M6596 4124l-32 -106M6812 4252l-26 -113M7032 4421l-17 -122M7051 4438l-16 -122M7076 4460l-15 -124M7092 4476l-13 -124M7178 4562l-3 -122M7194 4579l-2 -122M7250 4642l8 -117M7267 4662l9 -117M7340 4755l15 -118M7454 4928l26 -117M7468 4952l27 -117M7561 5135l40 -110M7571 5158l41 -110M7604 5237l45 -108M7613 5261l46 -107M7690 5510l57 -98M7697 5537l58 -98M7716 5627l60 -102M7720 5649l61 -101M7760 6051l74 -92M7760 6078l75 -92M7761 6167l77 -87M7758 6278l80 -82M7727 6591l90 -74M7723 6614l90 -73M7663 6862l96 -54M7655 6888l96 -53M7644 6923l100 -60M7377 7468l107 -22M7363 7489l107 -21M7318 7552l115 -27M7305 7569l116 -26M7235 7656l109 -11M5981 8440l98 55M5957 8446l98 56M5764 8486l95 63M5741 8490l94 64M5326 8522l77 79M4672 8442l61 97M4649 8435l60 98M4569 8413l66 102M4546 8406l65 102M4467 8380l47 100M4361 8340l58 107M3357 7599l-4 120M3216 7403l-17 117M3203 7384l-18 117M3161 7314l-21 118M3012 7009l-43 101M3004 6987l-44 101M2945 6818l-51 97M2914 6706l-53 101M2886 6582l-60 93M2840 5963l-77 77M2851 5793l-82 76M3172 4793l-100 28M3186 4770l-100 27M3235 4692l-99 20M3250 4669l-100 19M3270 4639l-108 30M3364 4511l-110 23M3379 4493l-110 22M3788 4086l-107 -8M3879 4016l-104 -16M3907 3996l-113 -10M3927 3983l-113 -11M4035 3912l-111 -18M4056 3899l-111 -19M4084 3882l-103 -25M4105 3870l-102 -26M4174 3831l-102 -29M4195 3820l-102 -30M4304 3766l-102 -34M4323 3756l-102 -35M5074 3533l-87 -64M5690 3507l-85 -83M5717 3509l-85 -83M6027 3549l-61 -91M6054 3554l-60 -91M7733 4643l20 -118M7746 4662l22 -118M7801 4747l24 -120M7869 4864l28 -124M7880 4884l29 -123M7988 5115l41 -121M7999 5140l42 -121M8049 5277l48 -119M8057 5299l49 -119M8135 5587l63 -109M8155 5688l66 -109M8185 5915l75 -105M8198 6248l85 -83M8134 6794l102 -69M8072 7006l111 -66M8029 7120l110 -48M8021 7140l111 -47M7997 7195l113 -48M7912 7369l121 -48M7900 7390l121 -47M7768 7605l117 -22M7749 7632l120 -26M7736 7650l121 -24M7607 7813l121 -15M7341 8086l119 -2M7021 8346l113 15M7003 8358l113 16M6729 8529l107 30M6596 8598l113 31M6171 8770l104 50M6149 8776l104 51M5912 8839l99 61M5885 8845l98 62M5620 8888l93 71M5532 8898l97 74M5505 8900l96 75M5421 8905l96 78M5397 8906l96 79M5044 8900l86 91M4911 8887l79 94M4627 8836l69 102M4237 8716l51 110M4212 8707l50 110M3932 8577l40 116M3651 8407l33 125M2831 7514l-31 113M2769 7398l-34 114M2719 7293l-41 109M2709 7272l-41 108M2498 6467l-69 90M2480 5864l-78 88M2481 5837l-79 88M2494 5565l-89 74M2508 5435l-95 76M2511 5412l-96 75M2645 4848l-109 61M2681 4748l-111 57M2719 4651l-114 57M2995 4121l-118 26M3007 4102l-118 25M3265 3780l-124 8M3284 3761l-124 7M3365 3681l-128 5M3480 3581l-122 -9M3888 3333l-125 -36M3911 3323l-124 -38M4464 3161l-113 -65M4576 3143l-102 -71M4604 3140l-101 -72M4847 3121l-91 -82M4875 3120l-89 -83M5244 3128l-88 -85M5269 3129l-88 -85M5304 3131l-80 -83M5329 3131l-80 -83M5508 3133l-73 -81M5529 3133l-73 -81M5602 3132l-84 -82M5625 3133l-84 -82M5765 3131l-75 -82M6087 3137l-87 -92M6113 3139l-85 -93M6964 3377l-53 -118M7849 4069l4 -124M7864 4086l5 -124M8017 4282l11 -128M8079 4370l19 -123M8237 4628l34 -112M8281 4707l30 -122M8293 4731l31 -122M8387 4922l42 -113M8446 5065l43 -124M8549 5403l60 -110M8554 5427l61 -110M8592 5945l85 -84M8593 6047l85 -89M8593 6071l85 -89"/>
<path stroke="#e4588c" d="M5492 5827l-85 118M5670 5822l-99 95M5879 5905l-111 34M5898 5921l-114 28M6000 6051l-106 -15M6026 6131l-94 -40M6028 6155l-90 -47M5341 6749l82 -82M5315 6748l85 -79M5257 6742l78 -74M5113 6709l101 -56M4816 6524l116 -4M4799 6507l116 -1M4732 6422l112 14M4629 5886l72 92M5111 5342l-47 118M5136 5333l-51 116M5168 5323l-47 110M5828 5383l-111 49M5969 5474l-118 28M6066 5562l-133 0M6082 5580l-133 -4M6203 5755l-118 -29M6299 6067l-89 -66M6302 6099l-85 -64M6267 6424l-55 -97M5586 7036l51 -95M4828 6923l113 -33M4807 6912l114 -31M4370 6411l104 31M4361 6388l103 33M4289 5949l82 76M4291 5923l81 78M4348 5651l59 102M4452 5440l29 124M4466 5418l26 125M5011 5015l-51 110M5037 5007l-53 109M6225 5219l-107 16M6242 5233l-107 14M6348 5343l-108 1M6365 5363l-108 -2M6472 5523l-110 -24M6485 5547l-110 -26M6626 6126l-87 -76M6577 6492l-61 -92M6215 7068l4 -116M6194 7086l7 -116M5661 7346l63 -102M5495 7374l71 -93M5383 7382l83 -89M5152 7372l88 -77M5039 7354l97 -69M4937 7329l101 -63M4917 7323l102 -61M4786 7277l103 -52M4698 7236l115 -41M4430 7057l119 -13M4095 6599l115 43M4085 6575l114 45M3991 6261l97 60M3966 5972l86 77M4037 5524l59 102M4044 5503l57 103M4055 5472l52 113M4065 5448l50 114M4164 5254l35 108M4323 5050l5 119M4383 4993l2 114M4401 4976l0 114M4964 4681l-55 103M5072 4656l-60 99M6354 4931l-115 17M6501 5055l-106 11M6526 5079l-114 2M6781 5421l-114 -32M6791 5441l-114 -34M6970 6197l-90 -79M6957 6391l-81 -91M6954 6418l-80 -92M6926 6560l-71 -101M6827 6841l-47 -123M6459 7317l7 -129M6309 7432l18 -122M6290 7445l20 -122M6161 7522l38 -124M6140 7533l40 -123M6006 7594l39 -113M5545 7710l72 -98M5440 7718l74 -93M5301 7720l79 -87M5279 7720l80 -86M4970 7682l98 -69M4940 7675l96 -68M4919 7670l96 -67M4574 7545l109 -44M4544 7531l112 -41M4521 7519l113 -39M4229 7322l124 -10M4211 7307l125 -9M4152 7253l119 -7M4135 7236l120 -6M3921 6981l117 16M3902 6951l115 16M3887 6928l115 17M3833 6833l119 34M3797 6763l113 30M3686 6455l108 58M3680 6432l107 59M3627 5970l89 79M3627 5944l88 80M3629 5889l85 90M3762 5307l50 107M3771 5286l48 108M3913 5038l22 120M4152 4767l-6 121M4169 4751l-8 121M4414 4571l-23 113M4436 4558l-25 113M4559 4491l-32 110M4579 4481l-34 110M4650 4450l-34 106M4671 4441l-35 105M4808 4391l-45 103M5047 4330l-67 100M5572 4300l-95 82M5781 4325l-90 75M5804 4329l-91 73M6086 4402l-108 59M6109 4410l-109 58M6242 4463l-110 51M6433 4561l-115 39M6524 4618l-117 34M7150 5346l-127 -47M7207 5483l-120 -50M7286 5767l-110 -67M7325 6162l-94 -81M7306 6469l-81 -96M7290 6564l-74 -111M7285 6587l-73 -112M7267 6666l-70 -102M7262 6687l-69 -103M7114 7064l-43 -119M7102 7088l-41 -120M7017 7225l-28 -126M5852 8016l64 -112M5507 8071l89 -101M5484 8072l90 -100M5224 8075l95 -90M5102 8067l97 -85M5078 8064l98 -84M5001 8054l102 -80M4978 8051l103 -79M4881 8033l100 -76M4849 8026l109 -73M4826 8021l109 -72M4007 7624l134 -16M3588 7164l125 18M3574 7142l125 19M3532 7072l129 33M3521 7052l128 34M3350 6640l116 60M3322 6534l110 60M3275 5815l83 98M3278 5781l82 90M3323 5522l68 103M3467 5121l45 113M3482 5090l45 109M3494 5068l43 110M3585 4912l33 112M3597 4894l32 113M3976 4469l-11 127M4503 4140l-46 119M4523 4131l-47 118M4552 4119l-42 115M4574 4110l-43 114M4988 3986l-60 105M5010 3982l-61 104M5197 3954l-86 103M5223 3951l-87 102M5371 3941l-92 97M5626 3942l-102 89M5872 3968l-107 79M6065 4008l-111 70M6286 4075l-120 58M6386 4114l-126 51M6574 4203l-118 45M6911 4426l-134 17M6932 4443l-134 16M7241 4763l-138 -15M7257 4784l-138 -16M7398 4997l-130 -26M7602 5496l-120 -67M7672 5892l-103 -86M7674 5917l-102 -87M7676 5952l-100 -82M7580 6869l-61 -118M7573 6891l-60 -119M7367 7340l-32 -128M7129 7660l-13 -125M7112 7678l-12 -125M6649 8066l24 -127M6627 8079l26 -127M6225 8279l54 -122M6203 8287l55 -122M6174 8297l51 -119M5717 8413l72 -107M5376 8442l89 -97M5343 8443l82 -96M5076 8431l97 -87M5052 8429l98 -86M3901 8002l130 -26M3881 7987l130 -25M3633 7782l126 -12M3438 7573l134 13M3422 7554l134 14M3339 7444l134 23M3188 7199l122 28M3152 7128l128 45M3142 7107l127 46M2981 6654l111 60M2946 6475l105 66M2929 6345l100 70M2921 6246l99 89M2974 5500l70 101M2979 5478l69 102M3117 5065l46 119M3648 4306l-4 129M3705 4253l-4 124M3784 4184l-14 129M3948 4059l-13 119M3968 4045l-15 119M4126 3944l-25 119M4149 3931l-26 119M4219 3892l-32 119M4239 3882l-33 119M4352 3826l-37 117M4375 3816l-38 116M4779 3673l-64 113M4893 3645l-65 109M4914 3640l-66 108M6120 3649l-101 73M6145 3655l-101 73M6479 3759l-112 59M6503 3768l-113 57M6841 3931l-127 38M7190 4173l-131 18M7208 4188l-131 17M7602 4606l-139 -18M7769 4860l-138 -38M7781 4881l-138 -39M7897 5118l-131 -49M8111 6105l-104 -87M8112 6261l-99 -102M8111 6283l-99 -103M8050 6780l-75 -123M7913 7173l-54 -127M7890 7224l-51 -127M7879 7246l-50 -128M7809 7379l-39 -137M7631 7650l-18 -144M7570 7727l-19 -134M7395 7921l-6 -132M7317 7998l-2 -130M7243 8067l2 -130M7014 8253l16 -129M6995 8267l17 -128M6333 8628l58 -125M6309 8637l59 -125M6117 8702l58 -118M5911 8756l77 -117M5887 8761l78 -116M5806 8777l77 -113M5569 8811l76 -106M5321 8825l101 -101M5178 8823l90 -97M5156 8822l91 -96M4430 8694l128 -66M4256 8632l128 -59M4231 8622l128 -58M4150 8588l135 -52M3850 8433l130 -40M3503 8186l131 -22M3485 8172l132 -21M3392 8088l136 -11M3374 8072l136 -10M3149 7829l134 5M2985 7605l140 30M2972 7585l139 31M2940 7533l132 25M2698 7016l123 55M2658 6887l120 67M2612 6696l114 75M2606 6663l110 67M2561 5981l96 99M2563 5742l92 87M2674 5047l74 113M2706 4939l69 116M2713 4915l69 117M2820 4632l51 137M2994 4285l40 132M3218 3962l23 131M3234 3943l21 132M3298 3870l15 133M3831 3454l-42 136M3851 3444l-44 135M3920 3413l-50 133M4122 3337l-54 124M4144 3329l-55 124M4628 3223l-78 111M5307 3213l-100 95M5328 3213l-100 95M5748 3213l-90 97M5775 3213l-90 97M6058 3220l-109 93M6624 3332l-124 66M6965 3473l-127 49M6988 3485l-128 48M7151 3577l-143 31M7171 3590l-143 30M7289 3670l-133 29M7422 3771l-135 21M7517 3852l-139 11M7535 3868l-139 10M7849 4202l-134 -6M7946 4329l-138 -19M8009 4420l-137 -23M8088 4544l-140 -35M8145 4638l-131 -26M8158 4661l-131 -27M8197 4732l-138 -42M8208 4753l-137 -43M8320 4981l-130 -44M8403 5201l-126 -60M8452 5370l-122 -70M8458 5394l-122 -71M8504 5746l-100 -97M8505 5771l-100 -97M8505 5803l-100 -98M8508 6121l-100 -99M8510 6301l-100 -104M8511 6499l-100 -101M8512 6554l-100 -95M5765 5957l-74 59M5940 6152l-70 -20M5941 6168l-66 -23M5908 6324l-48 -66M5845 6444l-26 -75M5831 6462l-21 -77M5658 6595l13 -81M5640 6604l15 -81M5342 6659l52 -66M5322 6658l53 -65M5112 6612l80 -44M5094 6605l81 -41M4772 6313l86 13M4762 6293l85 16M4710 6116l79 47M4896 5598l12 101M4930 5566l5 101M4946 5551l2 101M5128 5441l-21 91M5146 5434l-23 91M5413 5383l-54 76M5436 5383l-56 74M5533 5391l-72 67M5585 5401l-74 63M5912 5559l-100 23M6080 5740l-101 -12M6207 6038l-74 -47M6218 6149l-66 -47M6210 6276l-57 -63M6207 6300l-55 -64M6190 6375l-49 -69M6184 6396l-47 -71M6095 6592l-24 -84M6081 6613l-22 -84M5828 6848l16 -86M5719 6901l28 -84M5700 6909l30 -83M5631 6932l39 -82M5208 6959l65 -59M4956 6886l79 -40M4857 6835l87 -29M4831 6820l82 -29M4812 6808l83 -27M4637 6659l93 -1M4579 6591l90 4M4415 6259l82 35M4409 6239l81 37M4504 5542l37 90M5267 5054l-55 79M5385 5043l-58 73M5405 5042l-59 72M5553 5044l-64 65M5755 5076l-78 50M5910 5128l-81 38M5931 5137l-81 36M6453 5701l-88 -29M6491 5822l-85 -38M6513 5919l-82 -51M6530 6051l-75 -58M6531 6072l-75 -59M6490 6461l-51 -76M6424 6641l-35 -89M6401 6687l-36 -81M6330 6803l-20 -94M6244 6912l-10 -93M6229 6927l-8 -93M5980 7123l13 -88M5433 7286l60 -75M5290 7289l68 -69M5269 7288l69 -68M5143 7276l69 -63M4780 7170l82 -42M4762 7161l83 -41M4439 6934l93 -11M4401 6895l96 -4M4386 6878l96 -2M4074 6191l78 50M4059 6004l72 63M4059 5981l71 64M4062 5875l67 65M4102 5640l56 75M4302 5220l18 95M4408 5097l5 95M4888 4802l-38 88M5229 4728l-59 77M5249 4726l-60 76M5625 4733l-72 59M5729 4751l-73 54M5821 4773l-75 49M5842 4779l-76 48M6371 5058l-87 14M6538 7096l-16 -100M6523 7114l-15 -101M6432 7208l0 -106M6415 7223l1 -106M6109 7438l21 -97M6089 7448l23 -97M5834 7551l43 -92M5464 7619l67 -80M5393 7623l68 -77M5297 7623l64 -72M5274 7622l64 -72M4904 7567l86 -53M4882 7561l87 -52M4851 7552l78 -52M4829 7545l79 -51M4395 7329l92 -24M4376 7316l93 -22M3997 6920l94 8M3953 6849l96 16M3766 6371l89 54M3804 5467l48 90M3810 5448l47 91M3922 5199l31 93M4381 4703l-17 97M4401 4689l-18 97M4593 4578l-27 92M4615 4567l-28 91M4801 4492l-41 89M4880 4466l-42 86M4935 4451l-44 85M4955 4446l-45 84M5048 4426l-52 83M5227 4400l-58 78M5802 4427l-79 60M6318 4612l-95 37M6336 4621l-96 36M6396 4656l-99 32M6527 4743l-104 22M7015 5305l-102 -20M7169 5711l-93 -45M7193 6533l-64 -88M7189 6554l-63 -89M7173 6625l-59 -90M7167 6648l-58 -91M6808 7329l-10 -109M6582 7546l10 -110M5171 7970l82 -74M4995 7949l80 -68M4973 7946l81 -67M4782 7903l96 -58M4703 7879l101 -53M4679 7872l101 -52M3896 7384l114 1M3617 7013l103 19M3409 6455l92 53M3370 6156l82 65M3368 6123l81 67M3386 5721l66 77M3402 5624l61 83M3407 5600l60 84M3508 5269l45 89M3601 5074l35 90M3655 4983l24 102M4123 4476l-14 105M4773 4144l-40 92M4794 4137l-41 92M5237 4051l-64 85M5261 4049l-65 84M5453 4040l-73 80M5882 4074l-92 65M5903 4078l-93 64M5933 4084l-94 63M5954 4088l-95 62M6048 4110l-92 60M6391 4229l-98 45M6570 4320l-105 34M6985 4635l-109 11M7123 4788l-117 -8M7138 4806l-117 -10M7221 4919l-118 -21M7501 5525l-98 -44M7507 5549l-97 -45M7546 5725l-93 -60M7570 5911l-86 -64M7572 5934l-85 -65M7577 6027l-83 -72M7488 6820l-54 -94M7481 6844l-53 -94M7269 7306l-26 -107M7251 7334l-26 -106M7145 7482l-20 -103M6442 8067l31 -107M6419 8079l32 -107M6092 8216l46 -100M6070 8224l47 -100M5434 8337l76 -84M5356 8339l74 -82M5333 8339l74 -81M5057 8325l88 -72M5035 8323l89 -71M4710 8262l86 -61M4523 8205l97 -52M4425 8168l101 -47M4289 8108l99 -43M4268 8098l99 -42M4202 8064l98 -40M3421 7380l111 17M3202 6991l103 36M3162 6893l98 35M3154 6871l98 36M3039 6406l87 59M3015 5987l75 80M3016 5961l74 81M3060 5569l60 86M3065 5545l59 86M3110 5367l52 90M3117 5347l51 91M3139 5278l48 93M3366 4804l24 102M3425 4716l25 94M3480 4641l16 102M4064 4099l-21 105M4084 4086l-22 105M4409 3910l-35 100M6163 3766l-88 60M6316 3811l-91 55M6930 4111l-106 28M7057 4202l-115 16M7162 4288l-115 10M7438 4571l-115 -5M7777 5118l-109 -30M7897 5439l-108 -57M7978 6573l-75 -86M7965 6656l-70 -99M7960 6681l-69 -100M7926 6821l-64 -92M7920 6843l-63 -93M7846 7054l-50 -107M7836 7077l-49 -107M7601 7504l-25 -118M7570 7549l-23 -115M7509 7630l-16 -118M7291 7877l-1 -115M6960 8165l14 -110M6939 8180l15 -110M6846 8245l22 -111M6718 8326l17 -103M5208 8716l84 -83M5184 8715l84 -83M5150 8713l91 -82M4734 8660l101 -68M4713 8656l101 -67M4596 8628l96 -64M4575 8622l96 -64M4175 8479l105 -48M3589 8116l118 -16M3305 7844l120 4M3289 7825l120 6M3075 7546l116 20M2879 7187l110 40M2826 7058l104 39M2746 6808l98 51M2740 6787l98 51M2723 6712l97 61M2718 6688l97 62M2687 6509l90 64M2684 6487l89 65M2667 6309l83 66M2664 6001l81 91M2663 5976l81 73M2662 5866l79 69M2667 5740l77 82M2676 5635l76 80M2679 5609l75 80M2726 5304l68 103M2733 5272l68 97M2756 5167l65 100M2917 4683l45 115M3005 4495l44 105M3015 4474l43 106M3406 3916l5 121M3423 3897l4 121M3621 3718l-4 114M4228 3418l-60 109M4251 3411l-61 108M4329 3389l-57 105M4625 3334l-67 96M4906 3315l-79 87M4931 3315l-80 86M5328 3318l-92 80M5354 3319l-92 81M6134 3338l-83 77M7009 3620l-107 39M7029 3632l-108 38M7099 3674l-115 31M7121 3688l-115 29M7586 4070l-119 2M7600 4085l-119 1M7744 4247l-117 -6M7760 4266l-117 -7M8196 4972l-113 -37M8251 5101l-109 -39M8259 5122l-108 -40M8297 5226l-106 -43M8383 5561l-100 -62M8399 6140l-86 -84M5283 5896l-118 -72M5354 5878l-119 -73M5375 5874l-120 -74M5700 5850l-87 -106M5935 5993l-1 -125M5988 6083l33 -110M5790 6588l116 -1M5725 6632l114 17M5705 6643l113 21M5507 6713l103 56M5360 6725l90 76M5336 6725l88 79M5209 6710l66 91M4830 6505l10 118M4816 6490l6 118M4637 6001l-83 78M4722 5706l-121 54M4957 5449l-130 -12M4979 5435l-129 -17M5237 5330l-103 -62M5486 5312l-94 -89M5509 5314l-92 -92M5540 5317l-79 -95M5893 5449l-33 -125M5911 5461l-30 -126M6199 5801l34 -117M6210 5825l38 -116M6223 5856l41 -109M6280 6189l75 -87M6280 6212l77 -85M6266 6325l87 -63M6233 6449l97 -57M6226 6469l99 -55M6197 6537l103 -47M6090 6707l112 -23M6076 6724l113 -20M5978 6820l112 2M5936 6853l112 9M5181 7022l65 89M5047 6991l59 99M4345 6263l-53 107M4339 6239l-55 106M4318 5888l-90 78M4484 5435l-120 27M4503 5407l-119 21M4517 5388l-120 18M4948 5063l-122 -40M5166 4999l-112 -60M5260 4984l-90 -72M5283 4981l-88 -73M5419 4973l-87 -79M5446 4972l-86 -81M5799 5019l-55 -96M5820 5026l-53 -97M6203 5231l-19 -115M6222 5247l-17 -115M6468 5567l30 -114M6580 5891l65 -97M6584 5913l67 -96M6524 6576l104 -54M6458 6723l108 -33M6249 7005l120 -8M6230 7023l120 -5M6205 7045l119 0M5492 7350l101 70M5317 7359l79 82M5156 7349l83 92M5080 7337l80 97M5055 7333l78 99M4973 7314l66 102M4719 7220l49 116M4689 7204l44 116M4667 7193l42 117M4367 6964l2 122M4305 6894l-12 117M4292 6878l-14 116M4248 6819l-19 117M4233 6798l-21 117M4007 6209l-68 91M3998 5808l-91 74M4024 5660l-99 63M4029 5637l-100 61M4097 5432l-109 43M4320 5088l-118 10M4338 5070l-119 7M4441 4974l-119 -5M4459 4959l-119 -8M4845 4744l-108 -46M5158 4666l-97 -69M5267 4655l-88 -76M5320 4652l-89 -78M5391 4651l-79 -81M5413 4651l-78 -82M5706 4679l-69 -93M5731 4684l-68 -94M5955 4746l-44 -99M5976 4754l-43 -99M6242 4885l-31 -109M6261 4897l-30 -110M6380 4981l-22 -115M6746 5407l23 -120M6828 5577l38 -119M6836 5597l40 -119M6930 5957l72 -94M6934 5987l73 -102M6945 6243l89 -97M6944 6269l91 -96M6835 6763l118 -55M6827 6783l119 -53M6770 6899l122 -37M6759 6919l122 -35M6490 7257l128 -1M6284 7420l124 21M6266 7432l124 23M6156 7497l115 36M6134 7509l114 38M5363 7697l93 84M5339 7697l91 85M5010 7665l66 99M4988 7661l65 100M4957 7654l67 101M4622 7542l45 112M4600 7531l43 113M4485 7471l29 113M4268 7323l18 121M4249 7307l16 122M4177 7244l13 126M3857 6828l-33 117M3845 6804l-35 116M3721 6494l-55 115M3651 5999l-84 94M3928 5057l-114 19M3942 5037l-115 18M4067 4886l-116 5M4082 4869l-116 3M4376 4624l-119 -18M4503 4547l-119 -27M4751 4436l-104 -49M4771 4429l-104 -50M5119 4343l-102 -67M5511 4321l-80 -87M5535 4322l-79 -88M5570 4324l-85 -90M5776 4348l-78 -99M5983 4395l-66 -108M6008 4402l-65 -109M6576 4683l-26 -129M6793 4871l2 -127M6891 4978l8 -132M6905 4995l9 -132M7038 5183l31 -125M7049 5202l32 -125M7088 5273l34 -132M7099 5295l35 -131M7114 5324l42 -122M7123 5345l44 -122M7222 5606l62 -110M7229 5630l64 -109M7250 5711l65 -118M7255 5735l67 -117M7300 6113l86 -102M7301 6135l87 -101M7301 6213l90 -99M7200 6807l113 -53M6876 7368l126 -9M6343 7800l122 35M6322 7811l121 36M5758 8012l115 68M5733 8017l114 69M5699 8023l104 73M5416 8052l94 86M4902 8013l85 109M4416 7852l43 122M3707 7289l-14 129M3693 7270l-16 129M3641 7199l-22 128M3626 7177l-24 128M3584 7113l-24 134M3573 7095l-25 134M3503 6967l-38 126M3491 6943l-40 126M3455 6862l-49 117M3444 6838l-51 116M3390 6691l-56 122M3368 6617l-63 110M3362 6596l-64 109M3369 5445l-111 72M3465 5183l-114 45M3474 5162l-115 43M3616 4909l-123 31M3629 4889l-124 30M3709 4781l-126 22M3724 4762l-127 21M3842 4629l-123 5M3860 4610l-123 3M3961 4514l-130 1M3981 4497l-130 0M4336 4250l-128 -27M4358 4238l-128 -28M4640 4110l-113 -51M5255 3972l-99 -81M5360 3965l-103 -85M5661 3968l-90 -97M5685 3970l-89 -98M5820 3985l-83 -103M5880 3994l-72 -104M5904 3998l-71 -105M6233 4082l-65 -118M6288 4101l-52 -117M6426 4157l-49 -122M6449 4168l-47 -123M6691 4299l-27 -126M6952 4492l-8 -131M6971 4508l-6 -131M7324 4922l28 -133M7401 5053l30 -143M7540 5373l57 -125M7577 5492l64 -119M7633 5766l77 -113M7637 5790l78 -112M7642 6466l101 -91M7638 6497l102 -87M7635 6521l103 -86M7588 6754l111 -72M7573 6807l112 -67M7566 6830l113 -66M7491 7042l116 -46M7482 7065l117 -44M7469 7094l122 -55M7460 7115l123 -53M7353 7317l126 -35M7340 7339l126 -34M7266 7450l129 -27M7201 7536l128 -16M7185 7557l128 -15M7051 7708l127 -1M6934 7821l126 9M6144 8283l122 55M5964 8337l122 62M5944 8343l121 63M5629 8401l99 81M5481 8414l100 86M5456 8415l99 87M5315 8419l102 92M5288 8418l102 93M5253 8418l103 94M4637 8324l74 116M3869 7949l22 131M3389 7472l-14 135M3329 7388l-24 127M3005 6648l-66 112M2999 6622l-67 112M2981 6538l-71 111M2953 6342l-79 106M2951 6317l-80 106M2939 6077l-88 97M2939 6054l-89 96M2940 5971l-91 94M2979 5593l-103 74M3075 5236l-114 64M3083 5213l-115 63M3150 5050l-115 45M3159 5029l-116 44M3294 4780l-124 37M3308 4758l-125 36M3445 4566l-119 11M3459 4549l-119 10M3716 4275l-128 0M3741 4253l-119 -10M3820 4185l-127 -8M3841 4169l-127 -9M3960 4079l-119 -23M4756 3704l-111 -61M5048 3640l-105 -74M5071 3636l-105 -75M5797 3619l-90 -101M5820 3621l-89 -102M5952 3640l-87 -107M5975 3644l-86 -107M6346 3737l-63 -117M6366 3743l-62 -118M6506 3795l-56 -121M6575 3824l-51 -123M6594 3833l-50 -123M6662 3864l-44 -124M6681 3873l-43 -124M6708 3887l-38 -123M6727 3897l-37 -124M7061 4103l-27 -135M7083 4119l-26 -136M7593 4634l17 -139M7738 4854l30 -142M7820 5008l43 -133M7854 5079l48 -130M7863 5100l50 -129M8065 5827l84 -112M8068 5848l85 -112M8080 5977l90 -106M8088 6196l98 -102M8088 6218l98 -102M8044 6697l116 -88M8019 6804l120 -80M8013 6827l121 -78M7712 7493l133 -26M7697 7514l134 -25M7619 7625l135 -18M7385 7897l137 -5M7368 7913l137 -4M7274 8006l130 6M7255 8023l130 7M6335 8601l132 47M5820 8750l116 73M4877 8772l92 111M4603 8718l72 119M4582 8712l71 119M4384 8653l64 125M4213 8589l48 126M4045 8512l54 136M3737 8333l31 139M3449 8108l10 140M3430 8091l8 140M3188 7839l-11 138M3172 7819l-12 138M3050 7658l-19 140M2866 7352l-39 134M2828 7275l-41 137M2643 6725l-68 125M2586 6010l-89 78M2585 5983l-87 86M2584 5951l-88 91M2590 5693l-99 83M2767 4832l-126 61M2805 4731l-126 51M2944 4426l-132 41M2984 4351l-139 50M2994 4333l-140 49M3299 3905l-139 9M3313 3889l-139 7M3412 3787l-141 1M3430 3770l-141 -1M3990 3410l-137 -50M4023 3397l-139 -51M4047 3388l-139 -53M4176 3344l-127 -63M4200 3337l-126 -64M5055 3231l-105 -101M5133 3233l-106 -101M5155 3234l-106 -102M6472 3314l-85 -122M6563 3339l-63 -121M6827 3435l-58 -131M6847 3444l-57 -132M6875 3456l-62 -135M6894 3465l-61 -136M7053 3547l-35 -132M7073 3558l-33 -132M7224 3653l-35 -142M7245 3668l-34 -142M7817 4201l7 -146M7879 4280l22 -133M7989 4433l29 -132M8068 4556l35 -131M8085 4584l33 -135M8097 4605l34 -135M8165 4722l35 -140M8177 4746l36 -140M8353 5128l54 -136M8441 5426l71 -125M8486 6300l99 -101M8486 6323l99 -101M8488 6532l99 -102M5624 5733l-99 -83M5660 5736l-91 -87M5686 5738l-88 -90M5901 5828l-53 -116M5994 5920l-8 -104M5601 6782l95 36M5576 6789l93 39M5344 6815l75 65M5076 6767l51 86M5054 6758l49 87M4876 6663l22 94M4733 6533l3 100M4587 5768l-96 63M4830 5421l-111 0M5078 5276l-106 -34M5192 5240l-94 -49M6239 5669l14 -111M6251 5690l17 -110M6366 6101l54 -83M6367 6127l57 -82M6353 6337l73 -65M6347 6362l75 -63M6340 6396l77 -62M6152 6768l93 -17M5797 7035l87 30M5481 7119l82 55M5398 7125l71 62M5373 7126l69 63M5186 7114l68 75M5164 7111l67 76M4383 6584l-17 97M4249 5733l-87 67M4298 5578l-95 48M4308 5554l-96 46M4375 5423l-102 30M4506 5248l-114 20M5082 4919l-92 -48M5119 4911l-99 -48M5145 4906l-98 -50M5232 4892l-92 -56M5565 4885l-68 -71M5590 4887l-67 -72M5798 4926l-49 -79M5904 4959l-54 -86M5929 4969l-52 -87M6317 5214l-8 -96M6406 5309l-1 -102M6420 5327l1 -102M6454 5370l8 -99M6561 5544l27 -97M6684 5946l58 -80M6687 5969l60 -79M6666 6414l81 -66M6327 7056l105 -14M4842 7374l51 91M4365 7094l17 109M4339 7071l10 106M4102 6769l-18 106M4090 6749l-19 106M4023 6610l-35 93M3928 6296l-53 81M3906 6146l-59 84M3899 5856l-74 71M4079 5257l-101 37M4092 5236l-102 36M4138 5167l-102 28M4154 5144l-103 26M4340 4938l-101 0M4496 4817l-99 -15M4544 4787l-101 -16M5314 4559l-73 -65M5472 4559l-79 -70M5697 4584l-64 -78M5732 4591l-61 -78M5870 4625l-48 -80M6055 4689l-44 -87M6226 4772l-31 -90M6256 4790l-33 -92M6277 4802l-32 -93M6349 4848l-25 -93M6372 4864l-23 -94M6507 4971l-13 -97M6656 5122l-3 -102M7016 5881l56 -89M7020 5903l58 -88M7041 6082l68 -79M7024 6463l86 -65M6938 6779l99 -46M6929 6803l100 -45M6713 7165l113 -21M6606 7283l107 -3M5776 7745l91 53M5512 7787l91 64M5142 7783l70 79M5120 7780l69 80M4868 7731l54 87M4842 7724l53 88M4320 7480l19 98M4301 7467l17 98M4156 7353l13 105M3980 7176l0 108M3905 7082l-11 104M3840 6989l-20 101M3723 6777l-29 108M3644 6574l-42 102M3568 6226l-61 91M3654 5384l-95 57M3818 5052l-102 31M3832 5030l-102 29M3883 4959l-98 16M3953 4872l-101 13M3970 4853l-101 12M4424 4486l-100 -20M4446 4473l-100 -21M4576 4407l-98 -29M4780 4328l-90 -42M4801 4321l-89 -43M5102 4250l-92 -55M5446 4225l-76 -70M5473 4225l-75 -71M5658 4235l-66 -78M5865 4266l-67 -87M6329 4420l-43 -103M6638 4603l-26 -113M7064 5035l17 -111M7342 5655l55 -97M7366 5766l59 -101M7372 5800l59 -104M7375 5823l61 -103M7402 6144l75 -82M7402 6221l77 -82M7402 6246l78 -81M7398 6327l81 -82M7321 6761l96 -58M7314 6786l97 -57M7256 6944l105 -56M7219 7030l107 -51M7206 7055l108 -49M6676 7700l109 11M6551 7792l119 11M6531 7805l118 13M6117 8014l99 44M6095 8023l99 45M6000 8054l99 49M5900 8083l99 52M5750 8117l89 61M5142 8149l77 83M5108 8146l71 84M5086 8144l70 85M4733 8079l63 98M4709 8072l62 98M4531 8014l50 103M4338 7930l50 112M4316 7919l49 113M3761 7508l1 114M3744 7490l0 114M3596 7314l-15 110M3583 7296l-16 110M3223 6440l-59 104M3210 6350l-64 93M3207 6324l-65 93M3190 6029l-75 79M3195 5867l-80 82M3208 5732l-83 64M3361 5175l-96 38M3448 4997l-104 39M3460 4976l-104 38M3476 4948l-103 32M3592 4772l-107 24M3609 4750l-108 23M3820 4512l-105 1M3999 4356l-111 -5M4016 4343l-111 -6M4178 4230l-110 -16M4403 4105l-109 -28M4423 4095l-109 -29M4516 4053l-95 -39M4953 3916l-92 -57M4979 3911l-91 -58M5330 3865l-94 -71M5355 3864l-93 -71M5498 3860l-76 -77M6524 4088l-36 -105M6548 4100l-35 -105M6760 4219l-33 -114M6993 4388l-20 -121M7124 4507l-10 -124M7147 4529l-6 -122M7216 4603l5 -117M7406 4850l21 -117M7486 4984l24 -125M7709 5592l61 -97M7760 6218l78 -86M7760 6244l79 -86M7626 6976l101 -58M7616 7002l102 -56M7284 7596l109 -15M7268 7616l109 -13M7029 7873l112 1M6893 7989l109 12M6875 8003l109 13M6811 8051l112 14M6792 8064l112 15M5166 8518l78 83M4418 8362l45 101M4393 8353l44 101M4317 8322l56 108M4173 8256l42 109M4151 8245l41 109M3865 8074l33 118M3845 8060l32 118M3662 7916l15 116M3597 7858l15 121M3579 7841l14 121M3554 7817l3 113M2988 6945l-46 100M2977 6915l-43 110M2970 6893l-44 110M2902 6660l-56 100M2897 6637l-57 99M2878 6538l-62 92M2842 5919l-78 76M2843 5897l-79 76M2845 5864l-80 77M2847 5841l-81 77M2872 5631l-87 74M3146 4840l-99 30M3537 4313l-105 4M3619 4232l-104 -2M3815 4064l-104 -12M3836 4048l-104 -14M4264 3785l-103 -32M4660 3627l-93 -50M4771 3595l-106 -50M4794 3589l-105 -51M4896 3565l-91 -58M5972 3539l-62 -89M6354 3631l-60 -101M6374 3637l-59 -101M6468 3670l-53 -103M6595 3719l-52 -107M6619 3730l-51 -108M6891 3868l-29 -109M6912 3880l-28 -109M6979 3921l-35 -116M7164 4049l-25 -120M7184 4064l-24 -120M7493 4345l-3 -124M7764 4688l21 -121M7776 4708l22 -121M7952 5031l40 -116M8089 5402l56 -109M8112 5487l58 -113M8164 5741l68 -108M8167 5767l69 -107M8181 5879l73 -107M8197 6302l87 -82M8191 6417l90 -79M8189 6443l91 -78M8166 6633l98 -81M8162 6660l99 -80M8142 6763l101 -67M8124 6838l104 -67M8090 6954l108 -64M7976 7242l114 -45M7710 7685l121 -22M7573 7853l121 -13M7188 8218l110 11M7169 8234l110 12M6555 8618l112 33M6535 8628l112 34M5745 8871l99 66M5720 8875l98 67M5664 8883l95 70M5363 8908l88 80M5256 8909l90 84M4996 8896l85 92M4179 8693l44 109M4156 8684l44 110M3979 8602l42 116M3188 8003l-3 120M3172 7986l-4 120M2922 7663l-19 122M2909 7643l-20 121M2854 7553l-29 114M2815 7486l-33 111M2805 7467l-34 111M2745 7349l-36 113M2733 7325l-38 113M2678 7198l-40 117M2636 7087l-43 118M2627 7062l-45 118M2567 6861l-54 111M2506 6546l-68 88M2493 6423l-71 89M2487 6320l-73 93M2482 5749l-83 87M2487 5645l-87 76M2489 5618l-88 75M2545 5220l-102 78M2601 4990l-104 57M2630 4893l-108 63M2823 4423l-113 37M2833 4404l-113 37M2970 4160l-117 28M3138 3924l-128 26M3161 3897l-122 14M3391 3657l-120 -4M3411 3639l-120 -6M3989 3293l-112 -48M4146 3239l-108 -55M4170 3232l-107 -56M4417 3169l-114 -63M5044 3121l-82 -87M5193 3127l-88 -86M5381 3131l-81 -82M5414 3132l-84 -81M5670 3133l-84 -81M5701 3131l-75 -83M5722 3131l-75 -82M6033 3132l-90 -90M6296 3164l-77 -98M6318 3168l-76 -99M6831 3318l-55 -113M6856 3328l-54 -114M7086 3440l-39 -117M7274 3555l-37 -125M7399 3644l-17 -118M7418 3659l-16 -119M7607 3818l-13 -126M7980 4231l8 -129M7996 4254l10 -128M8198 4560l32 -113M8211 4583l32 -113M8255 4660l29 -123M8423 5005l46 -110M8433 5031l47 -110M8589 5653l75 -119M8593 6118l85 -89M8595 6291l85 -91"/>
<path stroke="#9a46b0" d="M5248 5881l-79 122M5278 5872l-71 121M5394 5846l-81 120M5719 5829l-106 88M5743 5835l-109 83M5826 5870l-108 57M5850 5884l-113 49M5934 6470l-35 -95M5699 6674l21 -102M4917 6610l114 -24M4612 6062l90 73M4641 5837l65 97M4690 5716l48 111M4702 5694l44 113M4865 5490l2 123M5434 5286l-81 90M5644 5313l-98 70M6007 5505l-120 22M6031 5528l-133 7M6138 5650l-127 -14M6266 5908l-100 -41M6292 6018l-93 -61M5272 7057l77 -77M5007 7003l100 -55M4635 6785l115 -10M4344 6341l101 38M4288 6000l86 72M4425 5484l36 123M4486 5390l26 120M4713 5165l-7 116M4734 5151l-10 116M5088 4992l-58 107M5744 4981l-96 63M5767 4986l-98 61M6190 5190l-106 21M6397 5405l-107 -7M6430 5453l-114 -21M6577 5778l-105 -52M6584 5802l-104 -54M6622 6242l-79 -84M6499 6696l-45 -99M6389 6879l-22 -114M6329 6953l-10 -119M6255 7031l-1 -116M5944 7247l37 -112M5921 7257l39 -111M5891 7271l40 -109M4738 7256l114 -45M5383 4627l-77 86M5410 4627l-78 84M5827 4681l-98 59M6216 4841l-100 35M6236 4853l-100 34M6445 5004l-105 16M6464 5021l-105 14M6561 5115l-114 -2M6685 5267l-112 -14M6812 5482l-112 -37M6919 5774l-105 -57M6857 6772l-53 -121M6848 6795l-51 -122M6707 7045l-29 -121M6692 7065l-27 -122M6047 7577l36 -114M5346 7721l77 -89M5194 7715l94 -82M5012 7690l96 -72M4845 7650l100 -62M4821 7643l101 -61M4635 7574l107 -49M4614 7565l108 -47M4378 7433l112 -30M4267 7353l124 -14M4093 7194l125 3M3701 6510l112 62M3695 6487l111 64M3662 6351l103 61M3638 6195l99 79M3627 6022l91 77M3631 5845l83 92M4948 4352l-53 100M5330 4298l-73 90M5672 4309l-93 78M5849 4337l-93 71M6335 4507l-125 39M6388 4535l-114 42M6483 4591l-116 37M7300 6511l-79 -97M7076 7134l-37 -121M5810 8026l66 -110M5777 8033l66 -109M5046 8060l101 -83M4779 8009l111 -69M3619 7209l126 14M3556 7113l130 29M3276 6246l101 79M3273 6212l99 80M3267 6106l95 79M3267 5951l89 84M3313 5565l71 101M3414 5240l51 115M3423 5218l49 116M3710 4741l16 122M3725 4723l15 122M3776 4664l8 125M3891 4545l4 119M4465 4157l-43 119M5145 3960l-83 104M5258 3948l-78 100M5704 3947l-101 86M6702 4278l-126 35M6720 4289l-126 34M6959 4466l-133 14M6979 4484l-134 13M7179 4687l-139 -9M7365 4942l-131 -22M7376 4961l-130 -23M7450 5095l-129 -35M7663 5809l-105 -74M7667 5842l-105 -84M7683 6134l-95 -97M7672 6408l-85 -100M7670 6433l-84 -101M6553 8124l38 -131M6529 8137l40 -131M5768 8405l70 -109M5504 8436l91 -102M5238 8441l92 -93M5125 8435l96 -88M4970 8419l98 -83M4945 8415l98 -82M4737 8375l105 -73M3469 7610l135 10M3172 7169l129 42M2918 5915l87 99M2998 5402l67 98M3208 4880l34 124M3278 4762l32 117M3359 4640l25 118M4079 3972l-23 120M4702 3694l-52 111M5055 3614l-67 104M5150 3601l-83 104M5790 3594l-96 85M5814 3596l-97 84M6061 3636l-106 74M6086 3641l-107 73M6194 3667l-102 71M6337 3709l-124 60M6536 3781l-125 52M6904 3969l-123 37M7154 4144l-131 20M7290 4260l-136 8M7752 4832l-135 -30M7820 4955l-135 -41M7910 5149l-133 -57M8060 6736l-78 -121M7979 7013l-61 -128M7968 7044l-63 -118M7932 7131l-56 -126M7548 7752l-11 -142M7531 7773l-10 -142M6956 8294l19 -128M6227 8667l56 -120M6014 8731l59 -115M5990 8737l60 -115M2779 7225l130 50M2766 7194l126 45M2644 6835l119 70M2637 6809l118 71M2598 6618l109 69M2560 5839l93 96M2566 5690l90 89M2568 5664l89 90M2609 5337l82 117M2613 5315l81 118M2841 4584l48 138M2852 4560l47 139M3802 3469l-36 135M3966 3393l-54 132M4044 3363l-52 127M5980 3215l-102 97M6013 3216l-107 96M6291 3250l-114 83M6418 3276l-119 77M6442 3281l-119 76M7328 3698l-133 27M7446 3790l-145 11M7765 4103l-143 -9M7926 4302l-133 -10M8034 4458l-136 -24M8047 4477l-136 -25M8417 5243l-125 -62M8494 5554l-120 -85M8505 5847l-100 -98M5380 5960l-54 101M5541 5930l-57 96M5630 5928l-68 85M5650 5929l-73 83M5894 6362l-44 -63M5871 6407l-34 -72M4888 6468l83 -15M4745 6252l84 22M4706 6010l70 57M4708 5989l68 60M4793 5731l38 89M4803 5713l35 90M4981 5525l-5 101M5092 5457l-16 92M5710 5440l-90 50M5988 5628l-101 11M6041 5686l-101 -3M6054 5703l-101 -6M6149 5855l-89 -29M6212 6077l-72 -50M6215 6228l-61 -59M6201 6331l-53 -66M5590 6943l43 -80M5570 6948l45 -79M4776 6782l84 -24M4605 6623l91 1M4474 6419l89 25M4392 6152l80 52M4419 5744l54 83M5477 5041l-61 68M5502 5041l-62 67M5711 5066l-75 53M6190 5307l-90 9M6520 5960l-81 -54M6468 6532l-47 -76M6021 7098l10 -88M4511 7000l90 -20M4495 6987l91 -18M4240 6674l96 19M4060 5924l69 63M4080 5742l60 78M4084 5718l59 80M4113 5600l54 76M4119 5580l53 77M4380 5127l9 95M4497 5017l-6 95M5470 4721l-70 67M5492 4722l-71 66M6437 5118l-88 9M6452 5132l-88 8M6637 5360l-92 -14M6771 5624l-90 -32M6780 5648l-89 -34M6868 6070l-80 -62M6870 6095l-79 -63M6838 6493l-63 -82M6831 6523l-61 -86M6734 6800l-43 -94M6660 6933l-33 -96M6629 6980l-27 -99M6616 6999l-25 -99M6569 7060l-20 -99M5986 7496l38 -98M5967 7504l39 -98M5788 7565l46 -91M4949 7578l84 -55M4784 7530l80 -49M4060 7008l97 4M3979 6891l96 13M3724 5968l74 69M3724 5943l73 70M3732 5805l67 77M3792 5505l50 89M4050 5013l19 91M4191 4858l6 92M4269 4789l-4 95M4523 4615l-25 94M5124 4413l-53 80M6026 4486l-93 50M6371 4641l-97 34M6432 4678l-99 30M6672 4863l-104 13M6689 4879l-104 11M7035 5345l-102 -23M7045 5365l-101 -24M7085 5455l-101 -34M7111 5523l-101 -41M7212 6403l-70 -83M7154 6695l-56 -93M7145 6726l-55 -91M6177 7797l30 -100M4462 7786l98 -44M4334 7720l106 -34M4316 7709l106 -33M3583 6950l105 27M3534 6847l102 33M3426 6531l94 49M3420 6506l93 50M3393 5677l64 78M3396 5655l63 79M3418 5553l58 85M3753 4844l20 96M4164 4446l-17 104M4919 4103l-46 90M5154 4061l-61 86M5497 4040l-74 79M6090 4121l-93 58M6226 4164l-100 51M6250 4172l-101 50M6877 4535l-106 19M6963 4613l-109 11M7167 4843l-117 -12M7274 4999l-114 -22M7406 5255l-109 -41M7470 5422l-103 -45M7477 5444l-102 -46M7565 5865l-87 -62M7552 6546l-67 -77M7092 7547l-10 -112M7075 7567l-8 -112M6266 8151l31 -100M6145 8198l40 -100M5402 8338l72 -83M4740 8269l86 -62M4665 8249l87 -59M3546 7541l113 7M3304 7196l108 27M3277 7147l108 32M3183 6946l102 38M3174 6924l101 39M3074 6603l92 50M3070 6581l92 51M3076 5496l57 88M3090 5442l56 86M3129 5308l49 92M4239 3994l-25 101M4506 3869l-36 97M6006 3730l-85 65M6032 3735l-86 64M6866 4069l-106 31M7720 4999l-112 -28M7944 5623l-100 -55M7948 5643l-100 -56M7970 5763l-99 -69M7973 6605l-73 -98M7907 6886l-61 -94M7812 7131l-49 -101M7257 7909l1 -115M7240 7926l2 -115M7218 7948l-4 -107M7002 8133l12 -111M6819 8263l23 -110M6203 8565l38 -99M6172 8575l44 -100M6152 8582l45 -100M4406 8571l105 -56M4387 8564l106 -55M4321 8540l103 -54M3948 8364l107 -38M3926 8351l108 -37M3833 8294l110 -32M3339 7880l120 2M3233 7760l112 1M3217 7740l112 2M3196 7713l116 8M3180 7692l115 10M2925 7285l113 37M2730 6744l97 53M2708 6639l95 65M2671 6365l85 65M2670 6342l84 66M2672 5686l77 78M2743 5223l67 99M2809 4976l61 96M3155 4232l33 108M3459 3862l1 121M3894 3545l-30 112M4775 3319l-68 91M5763 3320l-86 84M6361 3375l-89 70M7449 3938l-111 16M7465 3953l-111 15M7712 4209l-117 -4M8234 5059l-110 -37M8271 5153l-107 -39M8280 5177l-106 -41M8394 5651l-92 -57M8394 5672l-88 -59M8398 6085l-86 -84M8399 6230l-86 -89M5453 5858l-112 -79M5477 5854l-112 -79M5746 5861l-79 -113M5553 6703l107 49M5288 6722l83 84M5255 6718l72 87M5008 6638l45 110M4788 6458l-1 118M4637 6068l-75 87M4636 6046l-78 84M4819 5570l-130 20M4909 5484l-133 0M5288 5320l-99 -69M5313 5316l-97 -72M5440 5310l-99 -84M5631 5335l-65 -104M5653 5340l-62 -106M5782 5388l-62 -121M6115 5659l8 -130M6176 5755l27 -119M6254 5953l50 -103M6274 6273l83 -69M6123 6664l112 -32M5899 6879l111 15M5830 6920l107 27M5809 6931l107 30M5129 7012l61 93M5103 7006l58 94M4876 6922l43 109M4359 6310l-48 110M4321 6142l-67 93M4546 5351l-121 12M5365 4975l-90 -77M5861 5039l-50 -99M5890 5049l-48 -100M6383 5427l13 -116M6395 5444l15 -115M6557 5793l51 -116M6590 5958l70 -93M6541 6528l102 -59M5235 7356l86 86M5210 7354l85 88M5112 7343l80 94M4442 7035l19 126M4424 7019l17 127M4339 6933l-2 122M4206 6757l-26 116M3990 5982l-80 90M3990 5922l-84 79M4005 5762l-93 71M4008 5738l-95 69M4014 5707l-97 66M4070 5502l-106 49M4078 5478l-107 47M4190 5259l-118 32M4497 4931l-119 -12M4614 4853l-114 -26M4633 4842l-113 -28M4959 4708l-104 -55M5190 4662l-91 -72M5216 4660l-90 -73M6110 4812l-44 -107M6204 4862l-34 -108M6420 5014l-18 -115M6876 5713l52 -113M6882 5733l53 -112M6920 5895l68 -97M6924 5915l70 -96M6850 6724l117 -58M6737 6957l123 -31M6229 7455l123 26M5829 7630l113 56M5590 7680l107 71M5477 7692l94 79M5451 7694l93 80M4789 7607l61 108M4439 7444l25 114M3801 6713l-38 124M3710 6453l-58 114M3653 6076l-81 97M3652 6050l-82 96M3655 5857l-91 78M3657 5831l-92 77M4114 4836l-116 0M4625 4487l-111 -39M4985 4368l-99 -61M5010 4362l-98 -63M5823 4357l-75 -101M5846 4361l-74 -102M6059 4418l-62 -111M6932 5030l13 -132M7065 5230l30 -133M7212 5574l55 -127M7242 5678l67 -107M7265 5784l70 -115M7298 6056l85 -91M7299 6080l86 -90M7275 6513l103 -78M7036 7153l127 -36M6844 7405l126 -5M6827 7423l126 -4M6236 7854l117 44M6188 7876l114 47M5913 7975l108 63M5890 7981l107 64M5493 8048l97 83M5467 8049l96 84M4766 7981l75 115M4035 7616l14 128M3884 7484l1 129M3737 7326l-11 130M3672 7243l-18 129M3381 6660l-61 111M3305 6293l-78 107M3302 6270l-79 106M3290 5971l-91 85M3446 5224l-113 47M3589 4951l-122 35M3755 4724l-127 18M3922 4550l-130 5M4403 4214l-127 -31M4535 4152l-113 -46M4560 4142l-113 -47M4836 4047l-107 -62M5455 3962l-98 -89M5608 3965l-98 -95M5630 3966l-98 -96M5950 4007l-69 -107M6058 4031l-74 -112M6090 4040l-76 -114M6729 4323l-24 -127M7205 4757l9 -141M7351 4964l32 -132M7468 5189l45 -132M7477 5210l46 -131M7656 6030l87 -108M7657 6052l87 -107M7627 6569l105 -84M7552 6878l115 -63M6838 7902l134 9M6819 7917l134 10M6592 8073l122 33M5802 8374l110 72M5404 8417l97 89M5369 8418l104 90M5201 8416l101 96M4171 8138l38 124M4147 8126l36 125M3465 7568l-4 138M3450 7550l-5 138M3364 7437l-16 134M2939 6123l-87 99M2957 5739l-98 78M3580 4409l-128 11M3599 4390l-128 10M4269 3893l-123 -35M4590 3756l-117 -53M5348 3608l-108 -85M5549 3604l-85 -92M5752 3614l-92 -99M6971 4041l-23 -128M7368 4370l-6 -142M7448 4455l4 -139M7911 5216l55 -128M7920 5240l57 -127M8031 6756l118 -83M7552 7710l137 -15M7537 7729l137 -14M6810 8363l131 26M6589 8487l131 36M6305 8613l130 49M6160 8664l114 61M6136 8671l114 62M6001 8709l122 65M4926 8779l94 110M4634 8725l76 119M4338 8637l62 126M3977 8477l39 132M3957 8467l38 132M3907 8438l33 132M3833 8395l41 140M3696 8305l28 139M3487 8141l12 140M2894 7406l-41 127M2632 6672l-74 107M2608 6522l-79 107M2586 5759l-97 85M2587 5737l-97 84M2602 5559l-105 81M2821 4691l-126 49M2842 4642l-128 49M2888 4540l-130 44M2969 4379l-132 39M3015 4297l-140 47M3942 3429l-138 -46M4233 3327l-129 -64M4344 3297l-126 -69M5404 3237l-87 -95M5427 3237l-88 -95M5814 3237l-102 -97M5911 3237l-98 -99M6330 3282l-84 -115M7482 3853l-19 -146M7502 3871l-18 -146M7583 3946l-6 -142M7957 4386l25 -136M8138 4676l33 -141M8463 5523l74 -127M8479 5617l82 -107M8480 5717l99 -97M8482 5964l99 -94M8483 5987l99 -94M5390 5759l-105 -65M5740 5747l-86 -96M5995 6491l92 -40M5395 6815l79 60M4643 6406l-15 102M4571 6235l-38 100M4553 6153l-49 98M4549 6128l-52 97M4543 6022l-67 76M5042 5290l-105 -31M5942 5360l-40 -113M6101 5487l-18 -121M6364 6248l66 -66M6327 6441l80 -58M6320 6463l81 -56M6288 6549l86 -45M5129 7104l65 78M4966 7059l44 84M4941 7050l42 86M4668 6899l22 97M4646 6882l19 98M4492 6734l1 100M4220 6050l-64 75M4223 5897l-74 72M4280 5627l-93 52M4404 5378l-103 25M4419 5356l-104 23M4792 5030l-110 -20M5000 4943l-95 -42M5028 4935l-94 -44M5198 4897l-95 -54M5276 4887l-89 -59M5298 4885l-88 -60M5642 4893l-64 -75M5678 4900l-58 -75M5706 4905l-57 -77M5846 4940l-46 -81M5870 4947l-45 -82M6377 5275l-6 -102M6500 5437l15 -100M6641 5745l44 -93M6691 6015l62 -77M6693 6048l62 -86M6694 6072l64 -85M6691 6237l72 -79M6514 6812l94 -30M6499 6836l95 -28M5319 7452l75 68M5174 7445l70 75M5003 7419l62 84M4896 7391l54 89M4586 7257l40 103M4264 6994l7 112M3984 6507l-39 93M3912 6196l-56 86M3907 5776l-78 67M3910 5754l-79 66M3983 5459l-93 51M3993 5434l-94 50M4117 5196l-103 32M4258 5018l-102 11M6102 4710l-41 -88M6620 5081l-6 -102M5458 7791l89 66M5265 7792l75 74M5016 7765l69 84M4577 7626l36 94M4034 7236l5 108M4016 7217l4 108M3655 6607l-40 105M3562 6171l-64 89M3559 5840l-77 72M3560 5817l-78 71M3628 5464l-92 62M3636 5438l-93 60M3693 5284l-96 46M3862 4987l-103 26M4047 4771l-98 1M4325 4546l-97 -17M4379 4512l-101 -17M5046 4260l-81 -55M5391 4225l-77 -69M5565 4228l-75 -75M5593 4230l-74 -76M5714 4241l-64 -80M6015 4302l-51 -90M6070 4318l-55 -94M6455 4485l-35 -107M6474 4496l-34 -107M6587 4567l-23 -107M6609 4583l-22 -108M7180 5226l27 -116M7403 6189l76 -81M7356 6629l93 -67M7189 7089l104 -36M7094 7250l107 -23M7074 7279l108 -23M6161 7997l100 42M5043 8139l68 86M5010 8135l79 89M4867 8111l62 92M4476 7993l52 106M4454 7983l51 106M3929 7664l13 113M3533 7225l-12 121M3519 7203l-14 120M3418 7027l-31 110M3235 6501l-58 98M3252 5499l-89 53M3426 5039l-103 42M4222 4203l-109 -19M4473 4072l-96 -37M5067 3894l-92 -61M5094 3890l-91 -62M5280 3869l-95 -69M6236 3974l-59 -101M6717 4192l-36 -114M7513 5034l27 -125M7525 5059l29 -124M7584 5190l42 -109M7649 5366l47 -116M7674 5449l54 -103M7681 5474l55 -103M7761 6132l76 -90M7752 6382l82 -70M7750 6406l83 -70M7735 6535l86 -64M7732 6559l87 -64M7714 6659l92 -71M7678 6811l95 -56M7603 7036l102 -52M7594 7060l102 -51M7406 7424l107 -25M7344 7517l115 -30M6028 8427l99 53M5809 8478l96 62M5120 8515l76 84M4602 8422l59 99M4499 8391l63 104M4106 8221l38 110M3905 8101l35 117M3723 7968l18 115M3703 7951l17 116M3635 7892l18 120M3519 7782l1 113M3502 7765l0 113M3386 7635l-2 120M3136 7269l-24 118M3058 7115l-38 103M3047 7090l-40 102M2851 6339l-68 88M2848 6313l-69 87M2846 6279l-70 83M2860 5712l-84 74M2863 5688l-85 73M2880 5583l-88 73M2909 5447l-91 66M2916 5421l-92 64M3205 4739l-99 22M3300 4596l-108 27M4146 3847l-102 -28M4236 3799l-101 -32M4841 3578l-105 -53M4942 3556l-90 -60M4974 3550l-88 -61M4996 3546l-87 -62M5129 3525l-86 -66M6312 3618l-62 -100M6404 3647l-56 -101M6426 3655l-55 -102M6804 3819l-38 -110M6824 3830l-38 -110M6951 3904l-26 -109M7019 3947l-33 -117M7039 3960l-32 -117M7670 4556l8 -127M7686 4578l9 -127M7917 4958l36 -117M7929 4982l37 -117M7967 5065l38 -122M8071 5343l51 -118M8103 5454l58 -108M8123 5533l60 -112M8172 5802l70 -109M8176 5828l71 -108M8189 5968l76 -104M8193 6031l79 -97M8195 6057l80 -96M8109 6890l106 -67M8103 6911l107 -66M8046 7079l109 -50M7877 7431l122 -45M7795 7564l117 -25M7056 8320l113 14M6777 8502l107 28M5830 8856l97 64M5795 8863l100 65M5586 8893l98 72M5314 8909l86 82M5290 8909l86 83M4681 8848l71 101M4287 8735l53 109M4111 8665l42 111M3784 8493l28 116M3765 8481l27 116M2691 7230l-43 108M2556 6818l-55 110M2513 6594l-66 89M2484 5703l-85 86M2486 5680l-85 86M2496 5531l-92 80M2499 5509l-93 79M2519 5366l-97 74M2852 4365l-114 36M3191 3862l-122 12M3206 3845l-122 10M3229 3820l-123 11M3327 3717l-127 8M3856 3347l-123 -35M4038 3275l-110 -50M4063 3266l-109 -52M4096 3255l-109 -53M4522 3151l-103 -69M4689 3130l-107 -74M4714 3128l-107 -75M4791 3123l-89 -80M4813 3122l-88 -81M5456 3132l-85 -81M5478 3133l-85 -81M6350 3174l-69 -99M6375 3179l-69 -100M6565 3225l-66 -106M6781 3298l-58 -112M6995 3392l-45 -116M7133 3466l-36 -118M7444 3679l-14 -119M7640 3849l-10 -126M7820 4036l2 -125M7946 4188l6 -129M8046 4322l13 -128M8310 4762l35 -117M8321 4783l35 -117M8401 4954l44 -111M8565 5475l63 -109M8590 5700l84 -97M8592 5991l85 -84M8595 6340l85 -91"/>
<path stroke="#6c74c8" d="M5777 5846l-101 73M5981 6379l-51 -97M5972 6400l-48 -97M5608 6711l36 -99M5392 6749l77 -87M4769 6472l116 7M4616 6114l96 66M4727 5651l36 115M5061 5363l-39 121M5210 5311l-53 107M5387 5286l-76 94M6304 6142l-82 -68M5989 6842l3 -106M5899 6908l18 -107M5870 6925l26 -110M5849 6937l29 -110M5542 7044l55 -93M4870 6946l111 -38M5865 5015l-92 55M6563 5731l-107 -48M6601 6393l-68 -91M6513 6666l-46 -102M6167 7108l3 -110M5850 7288l43 -108M5099 7365l91 -73M4365 6996l115 -9M4065 6526l112 49M3988 5714l72 92M3993 5690l70 93M4023 5567l62 100M4347 5027l7 113M5021 4667l-57 101M5180 4639l-72 95M5329 4628l-74 88M6176 4819l-99 38M6875 5633l-107 -42M6942 5878l-101 -63M6957 5977l-98 -68M6965 6064l-96 -79M6963 6337l-84 -88M6914 6606l-68 -104M6642 7129l-20 -122M6530 7252l-5 -125M6434 7338l1 -120M6347 7406l14 -123M5950 7616l54 -116M5600 7703l69 -100M5577 7706l71 -99M4772 7627l102 -58M4186 7285l119 -11M3860 6883l115 21M3715 6555l114 59M3639 5767l79 96M3642 5744l77 97M3791 5244l45 109M4118 4799l-2 121M4369 4600l-20 114M5539 4298l-95 83M6203 4446l-109 53M7170 5390l-126 -50M7300 5849l-105 -66M7275 6635l-70 -114M7250 6728l-67 -104M6775 7511l2 -133M6505 7729l23 -128M5553 8067l87 -103M5149 8071l95 -87M3945 7573l132 -12M3441 6891l126 48M3284 6321l103 76M3281 6296l103 77M3266 6054l93 82M3284 5735l80 92M3396 5285l53 114M3517 5024l41 111M4619 4092l-46 113M4944 3996l-58 106M5426 3939l-94 96M5826 3961l-106 81M6756 4312l-127 32M6869 4393l-133 21M7288 4826l-138 -20M7534 5285l-128 -57M7588 5446l-121 -64M7682 6085l-96 -96M7678 6325l-88 -88M7676 6358l-87 -99M7384 7312l-39 -118M7079 7714l-9 -126M5923 8372l69 -115M5019 8425l96 -85M3213 7245l123 25M3096 7004l124 51M3020 6796l119 64M2925 6301l99 72M3908 4087l-11 119M4179 3914l-30 120M4422 3795l-40 116M4454 3782l-42 116M4477 3773l-43 115M4623 3719l-57 116M4852 3654l-64 110M5374 3582l-90 98M7043 4061l-133 24M7804 4924l-137 -42M7843 5001l-134 -43M7855 5025l-134 -45M7930 5199l-132 -59M7973 5318l-128 -62M8007 5428l-124 -66M8112 6216l-101 -101M7419 7896l-7 -134M7161 8137l12 -134M7145 8151l13 -134M6260 8655l61 -123M6176 8684l58 -119M5943 8748l62 -114M5838 8771l80 -115M4880 8797l112 -86M4483 8710l127 -68M3452 8143l132 -18M3427 8121l136 -14M3349 8047l143 -2M3037 4215l32 141M3186 4001l26 131M4189 3315l-57 123M5059 3207l-104 97M5696 3214l-90 96M6488 3293l-121 74M6675 3350l-126 64M7110 3552l-142 34M7975 4371l-138 -21M8174 4691l-138 -41M8224 4783l-134 -38M8296 4927l-129 -39M8470 5442l-120 -73M8483 5502l-121 -83M8504 5697l-101 -87M8506 5901l-100 -104M5688 5934l-77 78M5602 6620l21 -79M5294 6656l61 -63M4775 5766l43 86M6133 5828l-91 -20M6200 6010l-75 -37M6154 6479l-40 -70M6052 6653l-16 -85M5659 6923l35 -82M5367 6970l53 -68M4562 6567l86 2M4549 6549l86 4M4382 6063l75 57M4432 5701l50 85M4460 5630l44 88M4579 5429l21 98M5029 5110l-40 92M5445 5041l-61 70M5657 5056l-72 58M5868 5111l-79 42M6054 5203l-88 24M6320 5454l-89 -6M6370 5529l-92 -17M6296 6849l-18 -91M6200 6957l-5 -93M6100 7043l1 -88M5239 7286l70 -67M4544 7027l90 -23M4356 6842l96 1M4090 6283l83 50M4061 6049l74 61M4071 5796l64 67M4074 5774l62 68M5200 4731l-59 79M5288 4724l-62 75M5428 4720l-68 69M5674 4741l-74 57M5884 4792l-77 46M6480 5161l-88 5M6714 5492l-90 -22M6797 5695l-88 -37M6864 6021l-81 -59M6381 7252l5 -106M6023 7480l35 -99M4603 7453l89 -37M4338 7287l93 -20M4087 7042l97 2M3730 6127l79 60M4755 4508l-39 90M4995 4436l-46 83M6072 4502l-95 47M6636 4831l-103 16M7096 5483l-102 -38M7029 7010l-35 -104M6780 7360l-7 -110M5563 7964l65 -86M4751 7894l100 -56M4650 7862l91 -54M3677 7111l109 19M3552 6885l103 30M3367 5952l75 73M3536 5204l42 90M3544 5186l41 90M3728 4877l23 95M4212 4413l-12 98M4732 4157l-38 93M7086 4743l-110 3M7455 5379l-103 -43M7503 6772l-56 -93M7177 7441l-22 -102M6487 8043l28 -108M6190 8182l38 -101M6026 8237l49 -99M4478 8188l98 -50M3687 7690l115 -2M3139 6827l97 38M3015 6021l76 72M3034 5729l66 85M3050 5625l62 88M3349 4832l28 98M3508 4605l14 102M5397 3684l-75 82M6356 3824l-92 53M6471 3867l-103 46M6763 4008l-104 35M6782 4018l-104 34M7405 4533l-115 -3M7935 5583l-101 -53M7999 6364l-82 -87M7947 6740l-67 -96M6889 8216l20 -112M6111 8595l46 -99M4204 8492l114 -45M3992 8388l107 -40M3750 8238l116 -25M3627 8146l118 -18M3148 7651l115 12M3050 7506l115 23M2969 7368l112 28M2861 7145l109 42M2718 5348l69 102M3037 4433l41 106M4373 3378l-58 103M4981 3315l-82 85M7165 3716l-116 27M7235 3766l-117 23M7497 3983l-112 13M7519 4004l-117 7M7628 4115l-119 -1M7904 4460l-116 -16M8164 4906l-116 -39M8395 5714l-86 -86M8399 6176l-86 -89M5406 5868l-116 -77M5764 6607l115 8M4746 6399l-15 115M4734 6382l-19 115M4677 6263l-41 110M4640 5968l-88 92M4643 5943l-91 88M5054 5393l-123 -33M5345 5313l-107 -73M5694 5353l-57 -109M6263 5995l55 -101M6267 6016l58 -99M6272 6046l61 -92M6275 6068l64 -90M6046 6757l114 -14M5780 6945l111 31M4332 6207l-61 97M4328 6186l-63 96M4746 5171l-124 -17M5208 4991l-110 -64M5331 4977l-86 -76M6596 6010l72 -101M6285 6967l119 -13M4932 7303l63 104M3993 6067l-76 90M4672 4820l-112 -31M5603 4663l-76 -89M5783 4695l-65 -96M6811 5537l35 -120M6946 6191l86 -100M6445 7297l128 3M5398 7696l91 83M5054 7673l69 97M4861 7630l65 106M4837 7623l64 107M4308 7354l22 121M3820 6754l-34 125M3730 6523l-52 118M3666 5744l-95 71M3725 5478l-107 62M3972 4998l-115 14M4936 4379l-101 -59M5462 4320l-81 -85M5703 4337l-79 -96M7142 5386l47 -121M7301 6180l89 -99M7005 7200l127 -30M6385 7776l123 32M5808 8001l117 65M3329 6451l-69 115M3312 5706l-100 84M3675 4825l-125 25M3689 4806l-125 23M5146 3984l-113 -74M5566 3963l-100 -93M5733 3974l-87 -100M6379 4137l-52 -121M6522 4203l-47 -127M7495 5253l49 -130M7612 6653l107 -77M7510 6997l115 -48M7151 7597l128 -12M4219 8163l41 123M3910 7979l25 130M3421 7514l-8 138M2988 6571l-70 110M2946 6267l-82 104M3059 5282l-113 66M3131 5092l-114 48M3267 4824l-123 40M3486 4515l-119 8M3540 4453l-124 9M3776 4222l-119 -12M3882 4137l-127 -12M4311 3872l-123 -38M6407 3758l-60 -119M6622 3845l-46 -123M6764 3916l-35 -124M7125 4152l-23 -136M7834 5036l46 -131M8073 5891l87 -110M7808 7331l135 -44M4539 8701l69 120M4509 8692l75 123M3406 8069l9 142M3139 7778l-15 138M2652 6768l-66 126M2590 6324l-87 91M2863 4594l-129 47M3206 4015l-138 18M3467 3736l-141 -4M4097 3370l-137 -56M4129 3359l-128 -61M5087 3232l-106 -101M5473 3237l-88 -95M7114 3583l-31 -133M7542 3907l-15 -147M8194 4777l36 -141M8483 6033l99 -94M5255 5790l-93 -64M5277 5784l-95 -63M5949 5865l-35 -119M6027 5962l1 -106M5650 6766l98 29M4769 6572l9 99M4562 6201l-42 101M4606 5721l-100 57M6178 5575l-2 -119M6195 5598l2 -119M6360 6285l69 -69M5447 7122l74 59M5077 7093l61 81M5015 7076l48 82M4357 6538l-21 96M4262 5684l-90 63M4357 5455l-105 44M4483 5274l-115 25M4834 5008l-109 -24M4855 4998l-109 -26M4965 4954l-98 -40M5446 4880l-73 -67M6606 5644l31 -105M6615 5667l33 -104M6696 6118l66 -83M6468 6885l96 -24M6240 7136l101 1M5976 7307l94 28M4641 7287l44 101M4232 6956l3 112M4126 6809l-14 107M3899 6066l-63 76M3917 5709l-81 63M4062 5286l-100 38M5421 4558l-81 -68M6319 4829l-29 -94M6778 7078l112 -30M6523 7361l115 -4M6416 7448l115 5M6125 7623l104 31M6067 7649l103 34M5188 7787l72 77M4789 7708l50 90M4619 7645l38 93M4357 7505l21 97M3556 5885l-75 73M3569 5737l-81 75M3572 5714l-82 74M4843 4308l-88 -45M6513 4519l-32 -108M6542 4537l-26 -107M6677 4632l-23 -113M7356 5715l56 -103M7382 5870l63 -101M7400 6294l80 -80M7242 6979l106 -54M6492 7830l118 15M4380 7950l53 111M4228 7871l30 107M3563 7269l-9 121M3859 4475l-105 -1M4363 4124l-110 -25M5032 3901l-90 -60M5181 3879l-92 -66M5609 3863l-81 -81M6908 4321l-26 -119M7376 4806l18 -118M7625 5294l43 -118M7633 5318l44 -117M7659 5399l52 -104M7757 5990l74 -80M7759 6016l75 -79M7746 6455l84 -68M6838 8031l109 15M6753 8092l112 17M6575 8201l115 24M6176 8381l113 43M5609 8507l101 68M3025 7040l-42 101M2955 6850l-46 109M2872 6504l-61 99M2868 6478l-62 99M2843 6231l-71 81M2930 5368l-93 62M2964 5256l-94 50M3498 4354l-105 6M3581 4269l-104 0M4515 3677l-101 -42M4711 3612l-92 -52M5410 3503l-77 -75M5434 3502l-77 -75M6668 3752l-48 -109M6863 3852l-36 -111M7224 4095l-22 -121M7638 4513l5 -127M8194 6365l89 -80M8179 6545l94 -79M8174 6579l96 -83M8151 6717l99 -69M7927 7339l120 -48M7423 8009l122 -8M7227 8186l110 10M6070 8800l101 55M6046 8806l100 56M5145 8906l85 87M3725 8456l25 117M3142 7952l-6 120M2882 7601l-22 121M2784 7428l-36 110M2610 7012l-47 117M2490 6367l-71 95M2505 5466l-94 78M2538 5253l-101 80M2554 5177l-103 77M3052 4037l-125 31M3451 3605l-120 -9M4992 3120l-83 -86M6252 3157l-78 -97M6424 3190l-67 -101M6614 3240l-64 -107M7313 3581l-34 -126M7359 3615l-19 -118M7481 3709l-12 -119M7499 3723l-11 -119"/>
<path stroke="#5ec0d8" d="M5202 5892l-61 118M6020 6235l-69 -81M6015 6258l-64 -88M5560 6725l43 -96M5536 6731l47 -95M5452 6745l60 -90M5427 6747l63 -88M5030 6675l97 -47M5005 6663l99 -44M4955 6635l112 -31M4667 5765l56 103M4676 5745l52 105M5922 5439l-118 35M6304 6197l-77 -68M6303 6223l-75 -70M6209 6567l-40 -97M6198 6588l-38 -98M6037 6800l-6 -106M6021 6815l-3 -106M5963 6863l9 -108M5942 6878l12 -108M5330 7060l83 -81M5305 7059l84 -80M4736 6866l104 -29M4715 6851l104 -26M4664 5203l-1 118M4684 5186l-4 118M4777 5122l-16 116M4910 5053l-39 115M5813 4998l-100 57M5908 5030l-94 52M6067 5107l-111 30M6086 5119l-112 28M6165 5171l-102 25M6524 5629l-111 -39M6611 5935l-97 -62M6615 5960l-96 -64M6625 6188l-82 -81M6591 6438l-64 -93M6585 6461l-63 -94M6544 6592l-53 -99M6534 6617l-50 -100M5989 7223l32 -114M5267 7381l90 -83M5240 7380l91 -81M4669 7221l105 -43M4646 7209l106 -41M4404 7033l114 -15M3980 5763l75 89M4123 5325l41 108M4134 5304l39 109M4211 5185l25 113M4809 4732l-43 108M5106 4650l-67 99M5131 4646l-69 98M5443 4627l-85 82M5969 4726l-100 50M6601 5160l-108 1M6618 5180l-108 -1M6826 5512l-114 -42M6890 5675l-106 -45M6927 5806l-104 -58M6932 5830l-103 -60M6947 5910l-100 -63M6951 5932l-99 -65M6961 6010l-98 -76M6969 6230l-89 -79M6880 6714l-62 -106M6870 6740l-60 -107M6813 6870l-43 -126M6803 6889l-41 -127M6740 6997l-36 -117M6726 7018l-34 -118M6663 7104l-23 -123M6612 7165l-16 -123M6596 7183l-14 -123M6394 7370l5 -119M6374 7386l7 -119M5899 7633l58 -114M5645 7696l67 -102M3654 5669l73 98M3658 5647l71 99M3856 5124l31 117M4340 4619l-24 119M5487 4297l-93 85M6825 4869l-124 8M6841 4887l-124 6M6891 4942l-128 -3M6905 4958l-128 -4M6967 5037l-133 -17M7308 5902l-103 -69M7321 6054l-99 -89M7323 6079l-98 -90M7318 6361l-86 -99M7316 6386l-84 -100M7163 6965l-49 -121M6740 7544l5 -133M6541 7704l20 -129M6389 7801l29 -125M5927 7996l60 -114M5904 8002l61 -113M5453 8074l84 -98M4117 7707l122 -32M3980 7603l132 -15M3459 6930l127 46M3385 5317l57 107M3689 4768l18 122M3755 4688l12 122M4848 4019l-57 109M5310 3944l-80 98M6460 4146l-117 51M6481 4157l-117 50M7019 4520l-134 9M7207 4720l-139 -12M7508 5222l-130 -53M7517 5243l-129 -55M7570 5388l-122 -57M7657 5766l-107 -72M7681 6260l-90 -86M7680 6282l-90 -87M7641 6626l-76 -100M7624 6709l-72 -99M7618 6733l-71 -100M7421 7247l-43 -117M7409 7268l-42 -117M7022 7771l-2 -129M7006 7787l-1 -129M6813 7952l18 -132M6794 7965l19 -132M6482 8162l43 -130M6320 8240l47 -124M6298 8249l49 -123M5971 8360l67 -116M3729 7868l128 -17M3708 7851l128 -15M3128 7077l126 47M3117 7053l125 48M3043 6864l121 61M3035 6841l120 62M2917 5947l88 94M2921 5870l85 100M3480 4485l17 118M3497 4466l15 118M4304 3849l-36 118M4323 3840l-37 118M4555 3743l-54 117M4578 3735l-55 117M5419 3581l-92 96M5442 3580l-92 96M5861 3602l-99 82M6010 3626l-105 76M6988 4023l-133 28M7006 4035l-133 27M7365 4333l-132 7M7509 4489l-135 -6M7951 5255l-129 -59M7959 5276l-129 -60M7984 5350l-126 -62M7992 5376l-126 -63M8036 6834l-74 -116M8030 6857l-73 -117M7997 6962l-65 -127M7496 7813l-7 -142M7472 7839l-11 -134M7455 7858l-9 -134M7113 8177l15 -134M6669 8472l41 -130M5702 8794l72 -109M5677 8798l72 -109M4560 8731l125 -72M4534 8724l126 -71M3311 8009l143 1M3292 7990l143 3M3128 7803l136 9M3114 7785l136 10M2668 6920l118 54M2568 6368l101 86M2567 6345l100 87M2574 5588l88 103M2577 5566l87 103M2621 5272l79 119M2918 4424l46 132M2928 4405l45 132M3011 4257l34 140M4381 3264l-65 118M5024 3206l-102 98M5106 3208l-105 96M5129 3209l-106 96M5933 3213l-101 98M6113 3225l-105 90M6590 3322l-118 70M6733 3371l-127 61M6828 3409l-123 58M6848 3418l-123 57M7199 3608l-132 35M8248 4829l-133 -40M8259 4851l-133 -41M8274 4882l-130 -37M8506 5952l-100 -104M8507 5978l-100 -104M5288 5983l-62 104M5312 5977l-62 105M5436 5949l-63 100M5462 5944l-66 101M5529 6641l36 -78M5507 6647l39 -77M5251 6650l64 -59M5230 6646l66 -57M4825 6397l87 0M4812 6378l88 4M4706 6051l74 52M5066 5471l-13 95M6099 5765l-93 -11M6111 5786l-92 -14M6185 5947l-78 -31M6191 5968l-77 -33M6175 6424l-45 -67M6169 6443l-44 -68M6142 6506l-36 -77M6133 6526l-33 -78M5982 6731l-5 -87M5801 6863l15 -84M5783 6872l17 -83M5327 6969l55 -66M5306 6969l56 -65M5089 6933l79 -50M5067 6927l80 -48M4751 6764l88 -18M4734 6750l89 -16M4399 6191l82 49M4388 6123l78 53M4386 6103l77 54M4479 5588l40 90M4543 5480l28 97M4554 5462l26 97M4598 5405l20 97M4748 5260l-1 96M5077 5095l-45 90M5586 5046l-69 62M5610 5049l-70 61M6092 5228l-88 20M6111 5242l-89 18M6277 5400l-89 1M6292 5417l-89 -1M6337 5479l-92 -11M6348 5495l-92 -13M6264 6888l-13 -92M6178 6978l-8 -87M6160 6994l-6 -87M6065 7068l5 -88M6048 7081l6 -88M5832 7195l34 -89M5811 7204l35 -89M5195 7282l72 -65M5173 7280l73 -64M4975 7241l86 -52M4620 7081l91 -28M4602 7069l91 -26M4121 6402l84 34M4114 6379l84 35M4106 6349l85 45M4100 6327l84 47M4094 5670l56 83M4200 5382l38 84M4210 5363l36 85M4752 4857l-30 92M4772 4848l-32 92M5137 4740l-55 81M5158 4737l-56 80M6205 4938l-82 27M6679 5429l-91 -17M6691 5450l-91 -19M6858 5968l-82 -51M6861 5990l-81 -52M6870 6128l-79 -68M6871 6152l-78 -70M6864 6329l-71 -74M6862 6350l-70 -75M6588 7035l-22 -100M6155 7412l17 -98M5589 7606l61 -85M5564 7610l63 -84M5070 7603l72 -63M4717 7504l86 -44M4697 7496l87 -43M4669 7484l87 -41M4647 7474l88 -40M3735 6181l82 60M3733 6159l81 61M3727 6076l78 62M3725 6051l77 64M3724 6017l76 67M3728 5862l70 78M3729 5838l69 79M3952 5149l25 96M4069 4988l12 96M4086 4968l11 96M5475 4392l-71 71M5499 4392l-71 70M5870 4442l-82 58M5889 4446l-83 57M6713 4902l-110 5M7204 5896l-89 -67M7207 5917l-89 -68M7224 6182l-79 -69M7224 6206l-78 -70M7217 6355l-72 -82M7008 7047l-33 -104M6998 7066l-31 -105M6304 7733l27 -105M6275 7748l29 -104M6252 7760l30 -104M5912 7895l40 -93M5622 7956l63 -88M5602 7959l64 -87M5329 7976l66 -79M4612 7848l92 -52M4593 7841l93 -51M4564 7830l94 -50M4540 7820l95 -49M4370 7739l105 -36M3703 7149l110 17M3395 6377l90 60M3391 6354l89 61M3366 6020l77 71M3366 5998l77 71M3520 5241l44 89M4080 4510l-9 103M4097 4496l-10 103M4249 4388l-14 98M4267 4376l-15 98M5345 4044l-66 82M5370 4042l-66 82M6169 4145l-87 57M6193 4153l-88 56M6299 4190l-102 47M7051 4705l-110 6M7565 6451l-70 -80M7559 6504l-69 -75M7450 6934l-50 -93M7124 7508l-12 -111M7005 7644l-7 -108M6982 7667l-6 -107M6871 7772l7 -112M6852 7788l8 -112M6827 7810l9 -112M6807 7826l11 -112M5650 8318l65 -90M5626 8321l66 -89M5595 8324l71 -89M5575 8327l72 -89M4092 8002l103 -33M3739 7739l114 -6M3721 7723l114 -4M3574 7573l113 5M3061 6538l91 53M3019 6208l82 72M3018 6183l81 73M3015 6098l78 70M3015 6073l78 71M3028 5780l68 84M3042 5671l64 87M3195 5132l44 88M3205 5109l43 88M3264 4983l36 94M3275 4962l35 95M3312 4893l31 97M3324 4873l30 97M4277 3973l-27 100M4324 3950l-30 100M4343 3941l-31 100M4552 3851l-38 97M5000 3726l-51 89M5020 3723l-51 88M5440 3682l-76 81M5461 3682l-77 80M5713 3690l-80 74M6082 3746l-87 62M6405 3842l-101 49M6427 3850l-102 48M6821 4041l-105 33M7754 5069l-110 -29M7764 5090l-110 -30M8002 6291l-84 -86M8001 6315l-84 -86M7935 6790l-65 -98M7146 8013l3 -110M7131 8027l4 -110M7077 8073l5 -108M6501 8442l31 -104M6330 8517l41 -103M6307 8527l42 -103M5880 8654l53 -96M5592 8701l70 -92M5465 8711l69 -89M4868 8684l91 -73M4446 8584l105 -57M3806 8276l116 -28M3787 8264l116 -27M3266 7799l112 -1M2949 7331l111 30M2940 7313l111 31M2792 6962l102 43M2785 6939l102 44M2675 6410l86 64M2793 5029l62 97M2799 5008l61 97M2876 4785l53 104M2885 4760l52 104M3303 4031l17 116M3319 4012l15 116M5496 3318l-74 80M5523 3318l-75 80M6005 3325l-86 82M6025 3327l-86 81M6332 3369l-99 69M7193 3736l-116 25M7550 4034l-117 5M7565 4049l-117 4M7930 4499l-115 -18M7943 4519l-115 -19M7960 4545l-120 -27M8010 4626l-117 -26M8023 4648l-117 -27M8183 4945l-115 -41M8395 5745l-86 -84M8401 6428l-86 -89M8401 6450l-86 -89M5921 6445l107 -41M5092 6676l47 100M4899 6566l24 115M4883 6553l20 116M4662 6220l-48 106M4656 6198l-52 105M4673 5816l-108 71M4681 5795l-110 67M5387 5310l-103 -78M5409 5310l-101 -80M6022 5553l-7 -129M6045 5576l-12 -136M6062 5594l-8 -136M5871 6896l109 21M5738 6963l109 37M5685 6983l107 43M5661 6991l106 46M4410 6442l-37 105M4317 6109l-70 91M4334 5790l-98 72M4428 5528l-116 41M4782 5148l-123 -22M5532 4975l-88 -84M5557 4976l-87 -86M5592 4979l-84 -87M5618 4982l-82 -89M6137 5180l-20 -108M6418 5479l20 -115M6600 6052l75 -99M6601 6196l84 -82M6599 6223l85 -80M5285 7358l89 84M4840 7272l54 108M4819 7264l52 109M4483 7070l22 123M4466 7056l20 124M4389 6986l12 127M4189 6729l-24 121M4176 6707l-26 120M3998 6137l-72 93M3996 6114l-73 92M4111 5400l-116 55M5650 4669l-73 -91M5673 4673l-72 -92M6599 5195l10 -111M6613 5212l12 -111M6894 5773l56 -111M6411 7326l128 7M6393 7340l128 9M5755 7650l114 60M5733 7655l113 62M4116 7183l2 123M4097 7163l0 123M3751 6585l-48 120M3743 6564l-49 119M3662 6186l-76 97M3659 6161l-77 96M3662 5779l-94 74M3674 5693l-97 67M3678 5667l-99 66M3711 5526l-105 65M3899 5101l-119 32M3910 5084l-119 30M4027 4930l-115 7M4044 4911l-115 5M4185 4769l-113 -8M4244 4720l-122 -6M4262 4705l-122 -7M5214 4331l-94 -73M5402 4320l-92 -82M5428 4320l-91 -83M5745 4343l-77 -97M6250 4493l-40 -114M7277 5857l74 -110M7280 5877l76 -109M7294 6007l83 -93M6976 7242l128 -26M6961 7263l129 -24M6529 7683l126 20M6507 7699l126 22M5842 7993l105 66M4868 8006l77 110M4845 8000l76 111M4722 7968l73 116M3320 6399l-72 113M3316 6373l-73 113M3311 6340l-75 109M3292 6135l-84 106M3295 5865l-94 86M3320 5657l-102 82M3648 4862l-124 28M4159 4360l-123 -20M4609 4122l-111 -50M5197 3978l-111 -77M5222 3976l-111 -78M5507 3962l-96 -91M6480 4182l-50 -126M6573 4230l-45 -129M7232 4791l12 -141M7426 5100l35 -141M7436 5120l36 -141M7595 5565l66 -120M7650 5925l84 -100M7652 5951l85 -99M7654 5984l85 -109M7622 6602l105 -79M6911 7841l127 10M6895 7855l127 11M6781 7946l134 13M6703 8001l137 15M4362 8228l61 125M4340 8219l60 126M3538 7652l-6 130M3521 7632l-7 130M3184 7140l-39 126M3174 7120l-40 125M3050 6809l-57 120M3043 6787l-58 119M3015 5431l-109 75M3022 5406l-110 74M3119 5121l-114 48M3204 4938l-116 36M3507 4491l-123 12M3636 4351l-129 7M5250 3615l-111 -81M5273 3613l-110 -81M7012 4069l-20 -128M7168 4186l-22 -139M7300 4303l-5 -135M7316 4318l-4 -135M7651 4716l21 -142M7664 4735l22 -142M7682 4763l27 -137M7695 4784l29 -137M7937 5288l59 -126M7963 5364l59 -135M7970 5386l60 -134M8057 5769l82 -113M8061 5794l83 -112M8084 6039l92 -115M8083 6388l104 -103M8082 6411l105 -103M7844 7262l134 -48M7832 7285l134 -47M7506 7765l138 -11M7485 7789l138 -12M7470 7806l138 -11M7192 8079l136 4M7176 8094l136 5M6764 8391l126 31M6742 8403l126 32M6207 8648l115 59M6056 8695l113 65M6033 8701l112 66M5131 8797l104 102M5109 8796l104 103M4462 8678l73 124M4438 8671l72 125M4016 8498l41 131M3650 8271l18 135M3374 8038l6 142M3358 8022l5 142M3085 7708l-19 138M3070 7686l-20 138M2920 7452l-38 128M2729 7032l-57 125M2594 6394l-84 94M2593 6371l-85 93M2585 6125l-91 83M2588 6099l-94 81M2607 5509l-107 80M3084 4184l-133 25M3097 4166l-134 24M3235 3979l-139 15M3250 3961l-139 13M3370 3829l-139 3M3388 3811l-139 1M3492 3714l-139 -7M3511 3698l-139 -9M3575 3646l-138 -15M3592 3632l-138 -17M4718 3238l-116 -88M4739 3236l-116 -88M6756 3405l-58 -128M7313 3717l-23 -139M7332 3731l-22 -139M8218 4822l38 -141M8229 4845l39 -141M8387 5227l64 -122M8482 5860l99 -99M5893 6614l93 -5M5874 6631l93 -2M4858 5398l-111 -4M4881 5381l-111 -8M5890 6988l90 20M5664 7083l87 41M4763 6963l27 92M4744 6951l25 92M4714 6932l27 96M4235 6189l-51 90M4231 6164l-53 89M4323 5521l-102 52M4334 5499l-103 49M4440 5328l-113 32M4454 5310l-113 30M5501 4881l-71 -69M5528 4882l-70 -70M5762 4917l-52 -79M6529 5486l19 -99M6678 6350l78 -69M6301 7082l101 -6M6281 7100l102 -4M6026 7281l95 24M5436 7448l75 63M5409 7449l74 64M4807 7362l51 93M4784 7353l50 94M4706 7320l49 99M4684 7309l48 100M3897 6021l-65 75M4013 5386l-96 46M4028 5354l-97 45M4039 5331l-98 43M4226 5053l-102 14M4799 4662l-89 -39M4822 4653l-88 -40M5029 4594l-96 -48M5508 4562l-69 -71M5536 4564l-68 -72M6951 5636l42 -90M7045 6188l73 -88M6819 7016l111 -36M6806 7037l111 -34M6483 7396l115 0M6463 7412l115 2M6378 7476l114 8M6174 7599l105 28M6020 7669l102 37M5996 7678l101 39M5962 7690l100 41M5936 7699l99 43M4674 7668l51 95M4507 7592l32 95M3555 6055l-69 83M3554 6028l-70 82M3563 5785l-79 77M3578 5679l-83 62M3601 5565l-86 56M3607 5542l-87 54M5510 4225l-77 -73M7348 6663l93 -60M7342 6685l94 -59M6298 7937l103 34M4411 7964l49 108M4268 7893l32 107M3755 4578l-105 7M4593 4023l-96 -42M4615 4014l-95 -43M5147 3883l-89 -64M5225 3874l-91 -67M5247 3872l-90 -68M5389 3862l-91 -73M5414 3861l-91 -74M5663 3866l-80 -83M5690 3868l-79 -83M5865 3888l-65 -88M5887 3891l-64 -89M6947 4351l-23 -120M7742 6488l85 -66M7574 7107l103 -49M7138 7765l111 -5M6635 8167l116 21M6615 8178l115 22M6240 8357l114 40M6219 8365l114 41M5565 8512l100 69M5542 8513l99 70M5089 8513l70 85M4077 8205l31 107M4058 8195l30 108M3972 8144l30 111M3817 8039l27 117M3795 8023l26 117M3233 7430l-18 114M2861 6426l-64 97M2857 6391l-66 89M2840 6173l-73 78M2839 6147l-73 78M2839 5995l-77 83M2854 5760l-83 75M2901 5481l-89 58M2940 5333l-92 53M2948 5308l-93 52M2975 5223l-95 52M2984 5199l-96 51M3099 4929l-103 45M4444 3704l-103 -39M4468 3695l-102 -40M4548 3665l-105 -42M4573 3656l-105 -43M5040 3538l-86 -63M5295 3509l-87 -71M5321 3507l-87 -72M5910 3529l-69 -88M5936 3533l-68 -89M6499 3681l-55 -105M6520 3689l-54 -105M7469 4320l-4 -122M8012 5173l43 -120M8021 5197l45 -120M8197 6111l82 -95M8186 6477l92 -81M8184 6500l93 -80M7961 7274l118 -52M7950 7296l119 -51M7838 7497l118 -32M7826 7516l118 -31M7472 7958l122 -11M7456 7975l122 -10M7142 8255l111 12M6977 8376l110 19M6444 8668l113 37M6117 8786l102 53M5099 8904l84 89M5077 8902l83 89M4823 8874l79 97M4796 8870l78 98M4594 8828l75 105M4571 8823l74 105M3342 8159l8 122M3322 8140l7 122M3019 7800l-11 124M3002 7778l-12 124M2524 5332l-99 82M2528 5306l-100 81M3026 4075l-124 33M3624 3476l-122 -19M3647 3461l-122 -21M3809 3370l-124 -31M4250 3209l-107 -58M4274 3202l-107 -59M4639 3135l-109 -72M4748 3125l-90 -78M6722 3276l-63 -111M6747 3285l-62 -112M7035 3413l-43 -117M7563 3778l-7 -119M7582 3795l-6 -119M7680 3888l-3 -121M7696 3904l-2 -121M8139 4463l28 -114M8342 4826l37 -116M8486 5177l52 -111M8586 5584l65 -113M8594 6152l85 -85M8594 6178l85 -85M8598 6679l85 -88"/>
<path stroke="#8ed6c4" d="M5991 6350l-56 -93M5952 6441l-38 -101M5080 6697l94 -54M4631 6194l99 45M4626 6172l97 48M5739 5344l-114 58M6246 5850l-110 -42M6298 6276l-71 -74M6293 6311l-68 -83M5806 6960l35 -108M5126 7036l92 -65M5102 7030l94 -63M4580 6732l108 -8M4565 6715l108 -5M4333 6308l103 47M4955 5035l-44 113M5121 4984l-53 102M6127 7137l8 -109M4109 6630l115 38M4000 5658l68 96M4100 5369l46 106M4239 5147l21 114M4254 5129l19 114M4778 4744l-42 109M4849 4717l-46 107M4869 4710l-48 106M5486 4629l-87 80M6846 5558l-112 -46M6948 6452l-77 -101M6897 6663l-65 -104M6560 7221l-8 -125M5678 7690l71 -105M3743 6634l112 45M3633 6136l97 84M3634 5813l81 94M3881 5085l28 118M4277 4664l-19 120M4297 4649l-21 120M5931 4356l-99 67M5956 4363l-100 66M6791 4835l-123 11M6863 4910l-128 0M6939 5000l-133 -14M7224 5532l-121 -60M7324 6130l-96 -92M7310 6437l-82 -102M6674 7603l9 -130M6653 7620l11 -130M6625 7642l15 -132M6099 7939l50 -119M5973 7982l57 -115M5408 8076l86 -96M5386 8077l87 -96M5303 8078l96 -93M5278 8077l97 -92M4550 7936l123 -56M4349 7846l117 -47M4326 7834l118 -46M4156 7733l122 -34M3403 6799l121 51M3395 6777l120 52M4437 4170l-36 117M4692 4066l-52 113M4714 4059l-53 112M6416 4127l-116 54M7554 5340l-123 -54M7611 5530l-115 -57M7683 6166l-93 -97M7683 6188l-93 -97M7650 6581l-78 -99M7635 6659l-75 -98M7056 7738l-5 -129M5585 8430l81 -104M4592 8336l116 -65M3770 7903l128 -19M3082 6971l122 50M3003 6738l118 69M2941 6443l104 69M2938 6421l103 69M2915 5994l90 92M2932 5746l80 104M2939 5688l78 96M3026 5308l59 112M3032 5286l58 113M3448 4524l19 117M3995 4027l-28 127M4524 3755l-46 115M5528 3580l-90 93M5554 3580l-91 92M6795 3906l-121 43M7474 4449l-135 -3M7532 4516l-133 -5M7549 4537l-133 -7M8043 5564l-122 -75M8072 6677l-81 -120M8067 6703l-80 -121M8016 6903l-70 -119M7793 7406l-43 -127M5627 8804l74 -107M4830 8789l114 -84M2837 7347l134 45M2681 6964l119 52M2780 4729l59 126M3487 3687l-12 145M3506 3671l-13 145M4970 3206l-100 100M5162 3210l-101 95M5877 3212l-100 98M6162 3231l-107 88M6520 3301l-116 73M6544 3308l-117 72M6777 3388l-128 58M7241 3636l-132 32M7262 3650l-133 31M5511 5935l-62 99M5917 6084l-78 -2M5810 6485l-16 -78M5684 6582l13 -84M5139 6622l73 -48M5033 6575l85 -33M5017 6566l86 -31M4787 6340l87 10M4819 5691l31 93M5006 5507l-4 95M5026 5494l-7 95M5174 5423l-37 93M5195 5416l-40 92M6016 6697l-10 -87M5746 6890l21 -82M5024 6913l82 -44M4700 6722l90 -12M4524 6511l86 8M4629 5369l15 97M4645 5352l12 98M6402 5588l-90 -20M6124 7024l-2 -88M5568 7270l46 -79M4147 6477l87 29M4066 5842l66 65M4232 5326l33 86M4615 4933l-17 94M4634 4921l-19 94M4682 4893l-23 93M6825 5793l-85 -41M6852 5926l-83 -48M6871 6201l-75 -72M6747 6771l-43 -100M6271 7338l15 -104M6193 7390l15 -98M5115 7609l70 -65M4979 7585l77 -58M4422 7348l95 -24M3740 6223l83 58M5370 4392l-61 74M5427 4391l-69 73M5830 4433l-81 60M7129 5572l-98 -41M7221 6300l-75 -77M7082 6896l-47 -92M7070 6925l-45 -91M7061 6945l-44 -92M6695 7447l-7 -103M6656 7483l2 -109M6466 7633l12 -103M6206 7783l33 -103M6055 7847l44 -101M6037 7854l46 -100M5864 7908l42 -92M5840 7914l43 -92M5808 7922l58 -95M4878 7927l85 -63M4493 7800l96 -46M4269 7682l106 -31M3438 5473l55 83M3834 4746l7 105M3968 4607l0 102M5551 4041l-76 77M5574 4042l-77 77M6121 4130l-86 59M7336 5108l-111 -28M7419 5284l-109 -44M7525 5618l-97 -57M7529 5638l-96 -58M7579 6275l-76 -76M7547 6576l-64 -91M7465 6894l-52 -92M7053 7591l-10 -107M7037 7609l-9 -108M6948 7701l-4 -107M6930 7718l-2 -107M6906 7740l4 -113M6664 7933l20 -111M6389 8095l34 -106M3358 7287l110 23M3081 6632l96 56M3016 6133l80 74M3297 4922l33 95M3901 4216l-5 100M4381 3923l-32 99M5059 3716l-53 88M5904 3712l-90 67M5927 3716l-90 66M6264 3794l-98 54M7734 5027l-110 -27M7872 5361l-109 -51M7993 6448l-79 -90M7044 8100l6 -108M7027 8113l7 -108M6568 8409l29 -105M6545 8420l29 -104M6471 8456l39 -107M5962 8636l47 -96M5833 8664l54 -95M5809 8669l55 -95M5419 8714l71 -88M5396 8715l71 -88M5290 8717l75 -85M4250 8512l113 -47M4086 8437l115 -40M3482 8023l121 -7M3008 7437l113 25M2683 5576l76 82M2686 5554l75 82M2781 5072l63 96M2905 4712l50 105M2968 4571l44 110M3384 3939l6 122M3538 3788l0 116M3738 3634l-12 112M5872 3321l-89 85M6285 3360l-98 71M7857 4393l-118 -16M8395 5792l-86 -84M8396 5816l-86 -84M8397 5922l-86 -90M8403 6599l-86 -82M5952 6386l100 -56M5942 6406l103 -52M5892 6487l109 -25M5155 6697l56 96M5134 6690l53 97M4852 6526l14 117M4770 6434l-8 116M4652 5892l-98 81M5094 5375l-121 -40M5971 5506l-18 -128M5989 5521l-14 -128M6094 5632l0 -137M6279 6111l68 -87M5613 7005l104 51M5337 7036l82 78M5262 7032l73 84M4927 6946l42 104M4906 6936l39 105M4440 6500l-31 107M4429 6481l-33 106M4313 6057l-75 88M4345 5743l-102 68M4351 5720l-103 65M4387 5616l-113 63M5481 4973l-91 -81M6077 5141l-27 -106M6097 5154l-25 -107M6318 5344l-1 -118M4882 7287l57 106M4517 7096l27 123M4066 6460l-48 112M4038 6364l-55 110M4135 5353l-118 50M5517 4655l-80 -86M6289 4915l-32 -113M6310 4930l-30 -114M6946 6156l84 -86M6349 7374l123 17M5798 7639l116 57M4033 7090l-5 125M3801 5278l-116 52M3993 4971l-114 11M4209 4749l-122 -2M5151 4338l-96 -70M5172 4336l-95 -71M5293 4324l-94 -77M5351 4322l-94 -80M6155 4453l-57 -115M6207 4474l-43 -113M6547 4663l-19 -122M6816 4895l4 -127M6834 4914l6 -127M7290 6403l99 -87M7147 6942l123 -61M7086 7066l126 -47M7075 7086l127 -45M6573 7652l127 17M4797 7989l73 112M4126 7684l31 133M3291 6091l-86 104M3398 5351l-111 57M4735 4077l-121 -52M5039 4001l-113 -69M5064 3997l-112 -71M6620 4256l-42 -130M6995 4531l-11 -138M7455 5160l39 -140M7605 5607l69 -118M7609 5628l70 -118M7646 5872l82 -102M7656 6299l95 -96M6738 7977l138 13M6445 8155l121 40M6112 8293l115 58M5861 8362l119 68M5836 8367l119 69M5517 8411l101 85M4437 8258l62 122M4406 8246l64 124M3486 7593l-10 129M3155 7079l-43 124M3075 6883l-50 130M3064 6852l-55 121M3002 5482l-107 77M3103 5162l-113 50M3183 4980l-115 38M3251 4853l-118 32M4665 3731l-117 -56M4940 3659l-105 -70M5317 3609l-109 -83M5645 3607l-95 -96M6238 3704l-76 -116M6263 3711l-74 -117M7202 4215l-20 -140M7347 4348l-2 -136M7625 4678l18 -142M7721 4826l31 -137M7899 5187l49 -139M7948 5319l57 -136M8079 6441l105 -87M7943 7040l129 -64M7439 7840l138 -9M7142 8122l136 7M6104 8681l114 63M5066 8793l102 105M4766 8753l75 113M3117 7750l-16 138M2788 7185l-53 121M2745 7075l-55 126M2665 6821l-68 113M2585 6178l-90 85M2584 5811l-94 97M2741 4907l-123 61M3335 3866l-139 5M3549 3666l-139 -12M3629 3605l-138 -20M4795 3232l-109 -92M6178 3257l-95 -111M7024 3531l-37 -132M8481 5827l99 -92M5216 5800l-95 -64M6087 6218l66 -92M6074 6280l76 -62M6069 6302l77 -56M5309 6814l79 68M6141 5531l-9 -119M6225 6667l91 -32M5948 6952l91 14M5929 6964l91 16M4803 6986l30 91M4616 6858l20 101M4595 6839l17 101M4913 4974l-100 -35M6631 5714l37 -103M6685 6299l75 -72M6532 6780l96 -39M6434 6932l96 -18M5700 7407l86 47M4737 7334l46 96M4978 4606l-97 -45M5590 4569l-66 -74M6713 5193l9 -97M6793 5307l18 -96M6806 5328l20 -96M6924 5563l38 -92M6933 5587l39 -92M6982 5736l45 -98M5884 7716l98 46M5395 7793l76 70M4547 7612l34 95M4457 7565l40 102M4433 7551l38 102M3612 6462l-49 97M3557 6107l-67 85M3618 5498l-88 52M3708 5251l-95 39M6382 4446l-41 -105M6922 4857l1 -114M6939 4877l2 -114M7229 5326l36 -109M7401 6088l72 -93M7330 6729l95 -57M4677 8063l65 101M4654 8056l64 101M3213 5697l-85 70M3217 5669l-85 69M3398 5094l-97 33M3410 5070l-97 32M3558 4820l-104 23M3665 4680l-104 13M3794 4538l-106 4M4148 4250l-107 -16M6397 4033l-57 -107M7754 5938l72 -82M7106 7798l111 -3M7089 7815l111 -2M6383 8298l107 37M6350 8313l107 39M6324 8324l106 40M5045 8508l69 86M4990 8502l76 89M4726 8455l69 97M4019 8172l28 108M3932 8119l28 111M3270 7484l-15 114M3258 7466l-16 114M2838 6061l-75 85M2838 6039l-75 84M2886 5550l-87 61M2891 5527l-88 60M3002 5151l-97 49M4625 3639l-104 -45M5375 3504l-85 -73M5484 3501l-76 -77M5751 3511l-70 -84M5856 3522l-70 -87M7091 3995l-27 -117M7571 4432l5 -121M8038 5245l47 -119M8198 6168l83 -88M7548 7878l125 -17M7275 8146l121 -2M6939 8402l110 20M6920 8414l110 21M4470 8795l59 105M3369 8183l8 121M2981 7749l-18 117M2549 6787l-59 98M2544 6765l-60 97M2486 6285l-73 87M2484 6144l-77 84M2483 5970l-74 89M2586 5045l-104 64M6458 3197l-68 -102M7525 3745l-10 -119M7925 4161l15 -117M8591 5840l85 -82M8598 6604l85 -88M8598 6629l85 -88"/>
<path stroke="#a8d65a" d="M6027 6189l-82 -67M6007 6288l-60 -88M6002 6309l-58 -90M5502 6738l54 -94M4642 6236l102 39M4612 6026l88 81M4613 5999l85 85M4651 5806l62 99M4746 5623l34 113M5538 5293l-84 81M5676 5322l-109 66M5697 5329l-111 63M5879 5411l-116 42M6283 6364l-62 -87M6276 6390l-60 -89M6230 6522l-46 -95M6181 6619l-34 -99M6167 6642l-31 -100M6114 6715l-18 -106M6097 6736l-15 -106M5736 6990l37 -102M5716 6998l40 -101M5686 7008l38 -98M5663 7015l40 -97M5488 7052l64 -91M5382 7059l79 -85M4778 6894l102 -34M4612 6763l108 -12M4319 6258l100 52M4314 6233l99 55M4324 5727l65 96M4331 5702l63 98M4582 5276l4 127M4598 5260l1 127M4623 5237l6 117M5162 4975l-56 100M5183 4971l-58 99M5261 4959l-70 96M5284 4957l-72 95M5317 4954l-72 92M5341 4952l-73 91M6028 5085l-110 34M6131 5147l-101 29M6306 5295l-111 3M6324 5315l-111 0M6543 5675l-109 -44M6592 5834l-105 -63M6620 6010l-93 -68M6619 6278l-76 -90M6616 6305l-74 -92M6039 7195l18 -109M6019 7207l20 -108M5756 7320l56 -106M5734 7327l58 -105M5187 7376l94 -78M4602 7183l108 -37M4536 7139l120 -24M4323 6951l125 6M4170 6744l119 26M4157 6722l118 29M4141 6693l117 32M4130 6672l117 34M4052 6493l109 50M4044 6467l108 52M3972 6113l91 74M4009 5617l66 98M4015 5597l64 98M4648 4806l-34 116M4673 4793l-37 115M4729 4765l-37 111M5267 4631l-80 92M5294 4629l-81 90M6018 4744l-102 47M6651 5222l-108 -5M6968 6278l-87 -82M6939 6502l-74 -103M6934 6527l-72 -105M6783 6927l-37 -128M6766 6954l-40 -116M5755 7674l66 -108M5729 7680l67 -107M4739 7615l108 -54M4715 7606l108 -53M4350 7414l121 -23M4330 7400l121 -21M4004 7093l123 11M3989 7074l122 13M3726 6587l111 48M3630 6084l94 87M3628 6057l93 88M3646 5712l75 96M3839 5152l34 117M4840 4381l-51 104M4865 4374l-52 103M6033 4385l-102 63M6055 4392l-103 61M6551 4636l-127 26M6569 4649l-127 25M7127 5296l-122 -30M7137 5316l-121 -32M7237 5573l-120 -63M7243 5593l-119 -64M7322 6305l-88 -90M7321 6328l-87 -91M7203 6869l-57 -112M7194 6891l-56 -113M7142 7011l-45 -122M6884 7396l-11 -130M6587 7671l19 -131M6568 7685l20 -131M6435 7774l26 -125M6160 7914l46 -120M6140 7923l47 -120M5353 8077l94 -95M4708 7989l115 -66M4687 7983l116 -64M4504 7918l124 -53M4482 7908l125 -51M4282 7810l119 -43M3825 7459l134 0M3809 7443l134 2M3683 7297l135 17M3668 7277l135 19M3421 6843l122 48M3369 5364l60 106M3656 4810l21 121M4377 4200l-32 118M4397 4190l-33 117M4650 4081l-50 114M4745 4049l-56 113M4769 4041l-58 112M4891 4008l-59 108M5088 3968l-80 106M5111 3965l-81 105M6176 4039l-106 67M7090 4590l-135 2M7307 4854l-137 -22M7321 4874l-137 -24M7495 5192l-128 -44M7623 5579l-113 -59M7629 5604l-112 -61M7636 5638l-113 -73M7641 5662l-112 -75M7682 6230l-91 -99M7596 6814l-66 -106M7589 6838l-65 -107M7469 7151l-43 -128M6758 7992l22 -132M6732 8010l19 -128M6714 8023l20 -128M6453 8178l33 -123M6363 8221l45 -125M5823 8394l73 -112M5801 8399l74 -111M5657 8421l78 -106M5633 8424l79 -105M4703 8367l118 -69M4677 8360l118 -68M4545 8322l118 -63M4522 8314l118 -61M4307 8231l128 -48M4286 8222l129 -47M3277 7351l129 25M3265 7333l128 26M3063 6921l121 52M3054 6896l120 54M2990 6688l116 71M2933 6376l102 71M2915 6078l92 79M2915 6052l92 80M2925 5815l83 102M2927 5792l82 103M2947 5639l76 98M2962 5557l73 96M2967 5533l72 97M3519 4440l13 120M4032 4002l-30 127M4051 3990l-31 126M4266 3868l-34 119M5475 3580l-88 94M5733 3589l-103 86M5757 3591l-103 85M6731 3872l-120 46M6753 3883l-120 45M7331 4299l-132 9M7582 4580l-133 -9M8054 5615l-120 -78M8059 5640l-119 -79M8081 6624l-84 -118M7768 7448l-40 -128M7756 7468l-39 -128M7698 7556l-27 -141M6771 8414l29 -127M6717 8445l39 -130M6438 8585l44 -123M6414 8595l45 -122M5236 8824l90 -98M5211 8824l91 -97M5008 8812l97 -91M4976 8808l111 -90M4771 8779l111 -82M4746 8774l111 -81M4663 8757l120 -77M4639 8751l120 -76M4311 8653l123 -63M4288 8645l123 -62M3583 8251l143 -18M3564 8236l143 -17M3237 7931l137 1M3221 7914l137 2M3085 7748l136 13M2895 7457l133 34M2818 7310l133 47M2564 6301l99 89M2560 5946l96 90M2570 5631l89 101M2604 5367l82 114M2797 4685l57 127M2807 4663l56 128M2867 4527l47 138M2879 4503l46 138M2948 4368l43 132M3091 4131l31 135M3103 4113l29 135M3544 3639l-17 144M3625 3579l-14 135M3650 3561l-21 138M3669 3548l-23 138M4339 3274l-63 119M4458 3249l-83 119M4482 3244l-84 118M4836 3207l-93 105M4860 3206l-94 104M5210 3211l-101 95M5234 3211l-101 96M5361 3213l-96 94M5388 3213l-96 95M5635 3214l-100 95M5661 3214l-100 95M5808 3213l-100 99M5831 3212l-100 99M6888 3436l-124 54M8360 5080l-129 -52M8369 5103l-128 -54M8426 5273l-126 -69M8432 5295l-125 -70M8507 6012l-100 -99M8507 6038l-100 -99M8513 6629l-100 -90M8513 6652l-100 -90M5240 5995l-60 103M5863 6018l-84 19M5877 6033l-84 15M5930 6115l-76 -11M5935 6130l-75 -15M5930 6236l-53 -60M5778 6515l-9 -80M5762 6529l-7 -80M5738 6547l2 -84M5721 6559l5 -84M5574 6629l29 -81M5410 6658l51 -71M5201 6640l69 -54M5180 6634l70 -52M4722 6183l82 36M4717 6162l81 38M4761 5792l47 81M4841 5660l26 95M4853 5646l23 96M6111 6565l-29 -80M5930 6778l3 -88M5915 6790l6 -88M5396 6969l58 -70M4452 6369l86 27M4405 5797l58 78M4410 5774l56 80M4668 5329l12 94M4686 5313l9 94M4785 5234l-6 96M4830 5204l-19 100M4849 5193l-21 100M5295 5050l-51 77M6243 5360l-85 8M6383 5553l-91 -17M6463 5730l-87 -30M6470 5751l-86 -32M6523 6300l-61 -68M5770 7219l39 -87M5740 7228l33 -84M5718 7235l35 -83M5643 7255l41 -82M5618 7261l43 -81M5465 7284l53 -75M5023 7253l84 -55M4889 7214l87 -47M4699 7129l88 -35M4567 7045l92 -23M4201 6601l95 29M4190 6579l95 32M4136 6446l86 31M4284 5245l22 93M4724 4871l-26 92M4812 4831l-35 91M6060 4860l-82 35M6082 4871l-83 33M6242 4962l-83 24M6500 5183l-90 3M6516 5200l-90 1M6593 5295l-93 -11M6606 5314l-93 -12M6806 5727l-87 -37M6813 5749l-87 -38M6856 6392l-68 -77M6776 6701l-48 -98M6767 6725l-47 -98M6357 7273l0 -99M6337 7289l2 -99M6236 7362l18 -104M6218 7373l19 -103M5638 7599l59 -87M5040 7598l74 -61M5020 7594l75 -60M4755 7519l85 -46M4313 7267l100 -13M4294 7252l100 -12M4136 7099l100 1M4121 7082l100 3M3879 6708l98 34M3869 6686l97 35M3821 6564l91 33M3813 6541l90 34M3744 6254l83 50M3725 5910l72 76M3778 5553l53 87M3784 5533l52 88M3979 5108l21 97M4121 4930l7 97M4334 4737l-8 93M4354 4723l-9 93M5321 4394l-60 75M6270 4586l-91 41M6292 4597l-92 39M6749 4938l-110 2M6788 4981l-107 2M6804 4998l-107 1M6939 5177l-110 -19M7143 5618l-97 -44M7150 5641l-97 -45M7180 5760l-92 -49M7185 5782l-91 -51M7198 5854l-91 -65M7223 6136l-80 -67M7111 6825l-51 -90M7102 6849l-49 -90M7042 6983l-42 -93M6957 7131l-28 -102M6945 7151l-27 -103M6744 7398l-11 -102M6728 7414l-10 -102M6622 7513l5 -109M6523 7592l7 -104M6504 7606l9 -104M6344 7710l25 -106M6093 7833l42 -102M5765 7932l60 -93M5713 7942l55 -90M5693 7945l56 -89M5506 7969l70 -85M5286 7975l67 -78M4942 7940l83 -66M4921 7936l84 -65M4229 7657l106 -28M4202 7639l102 -30M4183 7626l102 -28M4032 7511l111 -13M3403 6423l91 58M3425 5521l57 82M3799 4786l17 96M3813 4769l16 97M3864 4712l5 105M3880 4695l4 105M4003 4575l-2 102M4021 4559l-4 102M4046 4538l-7 103M4867 4116l-42 90M4889 4111l-43 90M5421 4041l-68 80M5619 4044l-78 75M5696 4050l-82 73M5718 4052l-82 72M6660 4374l-106 30M6806 4477l-111 19M6823 4491l-111 18M7355 5144l-110 -30M7364 5162l-110 -31M7436 5327l-108 -46M7444 5349l-107 -47M7579 6058l-82 -73M7580 6216l-78 -76M7580 6242l-77 -77M7576 6322l-74 -77M7575 6345l-74 -78M7570 6402l-72 -79M7539 6618l-62 -92M7535 6639l-61 -93M7383 7096l-44 -92M6766 7859l13 -111M6627 7958l22 -111M6608 7970l23 -110M6343 8117l36 -106M6319 8128l37 -105M5920 8267l59 -98M5751 8303l65 -94M5729 8306l66 -93M5697 8311l64 -91M5534 8330l74 -87M4134 8027l102 -35M4064 7985l110 -27M3858 7840l103 -22M3839 7825l103 -21M3628 7631l110 -2M3610 7612l110 0M3499 7484l110 8M3485 7466l110 9M3401 7352l111 19M3386 7330l111 20M3097 6692l97 53M3091 6672l97 54M3176 5177l46 87M3634 4459l9 100M3704 4388l6 99M3720 4373l5 99M3792 4306l-6 105M3941 4185l-8 100M3962 4170l-9 100M4895 3748l-48 91M4919 3742l-49 90M5222 3695l-72 86M5366 3685l-68 82M5758 3694l-82 72M5973 3724l-92 65M6219 3781l-97 56M7634 4847l-117 -25M7647 4868l-117 -26M7848 5292l-110 -48M7856 5315l-109 -49M7954 5672l-100 -61M7957 5692l-100 -62M8003 6158l-88 -83M7997 6397l-81 -88M7883 6957l-55 -106M7875 6978l-54 -107M7743 7271l-41 -107M7100 8053l6 -110M6428 8476l41 -106M6407 8486l41 -106M6376 8498l39 -104M6082 8603l44 -98M5913 8647l49 -95M5776 8675l62 -96M5752 8679l63 -95M5644 8695l68 -94M5560 8704l62 -91M5538 8706l63 -90M5364 8716l73 -87M5339 8716l74 -86M5038 8705l88 -79M5012 8703l88 -78M4909 8690l90 -75M3450 7992l121 -5M2984 7395l113 27M2808 7009l103 41M2695 6563l92 64M2691 6540l91 65M2666 6055l74 82M2665 6033l76 90M2697 5477l73 93M2843 4874l57 99M2850 4854l56 100M2990 4525l42 110M3138 4258l32 112M3238 4113l19 121M3251 4096l18 121M3271 4071l20 116M3340 3987l10 121M3355 3971l8 122M3483 3838l4 116M3501 3821l3 116M3780 3607l-16 112M3802 3594l-17 111M4068 3471l-47 110M4092 3462l-49 110M4196 3428l-48 106M5014 3315l-84 84M5189 3319l-90 82M5443 3318l-74 80M5557 3318l-88 80M5579 3319l-88 80M5704 3320l-76 82M5729 3319l-76 82M5914 3321l-88 84M5935 3322l-88 84M5964 3323l-86 84M6166 3342l-87 76M6552 3425l-102 60M6691 3472l-100 55M6714 3481l-100 54M6831 3530l-114 44M6850 3539l-114 43M7885 4433l-118 -18M7983 4581l-120 -29M8049 4692l-116 -29M8132 4842l-115 -34M8141 4860l-115 -35M8363 5468l-101 -55M8368 5489l-101 -56M8396 5849l-86 -90M8396 5873l-86 -90M8397 5955l-86 -91M8397 5978l-86 -91M8401 6386l-86 -89M8403 6652l-86 -82M8403 6679l-86 -82M5647 5844l-117 -98M5669 5846l-112 -102M5842 5908l-44 -129M5863 5923l-34 -131M6004 6173l62 -103M5864 6519l110 -15M4923 6585l34 117M4649 6167l-59 99M4645 6145l-62 97M4660 5860l-103 78M5848 5422l-42 -123M5867 5433l-39 -124M6259 6358l90 -63M6254 6379l91 -61M5580 7012l107 54M5379 7036l85 75M5215 7027l70 87M4971 6965l46 102M4735 6836l19 110M4710 6817l14 110M4497 6592l-15 114M4483 6571l-18 114M4361 5688l-108 71M4369 5664l-110 68M4409 5567l-114 46M4645 5250l-123 -4M4807 5133l-118 -28M5137 5005l-105 -61M5670 4990l-79 -93M6026 5111l-37 -106M6048 5124l-34 -107M6349 5382l5 -118M6364 5402l7 -118M6483 5596l33 -115M6493 5619l36 -114M6540 5739l52 -103M6547 5762l54 -101M6595 6276l89 -77M6570 6422l98 -73M6564 6446l99 -71M6502 6631l107 -51M6493 6652l108 -49M6009 7185l121 21M5989 7196l121 23M4152 6663l-31 119M4084 6509l-44 114M4050 6407l-52 111M4051 5558l-104 55M4059 5534l-105 53M4251 5171l-116 17M4266 5152l-116 15M4524 4911l-123 -11M4544 4897l-123 -13M5570 4659l-78 -88M6579 5172l9 -109M6640 5246l15 -110M6942 6081l80 -90M6944 6106l82 -89M6942 6304l93 -92M6940 6331l95 -91M6886 6617l111 -66M6878 6643l112 -64M6658 7071l125 -18M6644 7089l125 -16M6310 7402l122 21M5701 7661l115 63M5675 7666l114 65M4533 7497l34 113M4153 7221l6 122M3655 6111l-79 94M3782 5321l-114 56M3877 5136l-118 35M4153 4799l-113 -5M4288 4685l-122 -9M5245 4328l-95 -75M6090 4429l-61 -113M6112 4437l-60 -113M6383 4560l-47 -127M6406 4573l-46 -127M6483 4619l-24 -121M6504 4633l-23 -121M7271 5815l72 -112M7297 6325l95 -90M7295 6351l96 -89M7260 6593l106 -66M7254 6616l107 -65M7247 6647l111 -77M7242 6667l112 -76M7188 6839l117 -61M7179 6864l118 -59M7130 6981l125 -58M7121 6999l125 -56M7107 7027l125 -50M6941 7289l133 -27M6927 7307l134 -26M6705 7543l126 7M6688 7558l126 9M5969 7958l108 60M5946 7965l108 61M5546 8043l109 79M5525 8045l108 80M5382 8053l89 88M5077 8040l78 100M5055 8037l77 101M4606 7931l67 121M4575 7920l53 118M4552 7911l52 119M4083 7653l27 133M3810 7409l1 135M3292 5914l-92 88M3378 5414l-109 60M3384 5393l-110 59M3560 4998l-119 33M3572 4978l-119 32M4039 4449l-124 -10M4055 4436l-124 -11M4114 4391l-122 -17M4132 4379l-122 -18M4203 4331l-122 -23M4780 4063l-119 -55M4803 4056l-119 -56M7029 4563l-8 -138M7046 4580l-6 -139M7185 4731l7 -140M7529 5343l58 -119M7653 6348l97 -94M7651 6373l97 -93M7297 7405l132 -36M7285 7423l132 -35M6862 7882l126 14M6491 8130l122 38M6062 8309l114 61M6038 8317l114 62M5596 8404l104 81M5570 8407l103 83M5141 8412l99 99M4989 8397l77 103M4966 8394l76 104M4560 8301l69 119M4538 8294l68 119M4507 8284l66 120M4483 8275l65 121M4311 8206l49 123M4021 8052l36 131M3807 7901l14 128M3789 7887l13 129M3683 7796l6 130M3664 7779l5 130M3604 7721l-2 129M3589 7706l-3 128M3282 7314l-31 124M3270 7294l-33 123M3209 7188l-39 121M3199 7168l-40 121M3100 6951l-46 131M3092 6928l-47 131M3033 6756l-62 113M2965 6438l-74 112M2962 6417l-75 112M2961 5704l-100 86M3043 5333l-111 68M3219 4911l-117 35M3229 4891l-117 34M3352 4691l-125 30M3366 4672l-125 29M3987 4061l-119 -24M4009 4046l-118 -26M4400 3831l-123 -42M4420 3822l-123 -43M4449 3810l-123 -44M4470 3802l-122 -45M4707 3718l-116 -58M4990 3650l-104 -72M5015 3645l-103 -73M5518 3604l-95 -91M5695 3610l-93 -97M5720 3612l-93 -98M7497 4512l14 -133M7876 5129l46 -140M7884 5148l47 -140M8004 5507l70 -119M8010 5532l72 -118M8049 5717l80 -115M8086 6091l94 -113M8085 6344l102 -105M8075 6484l107 -85M8073 6505l107 -85M7981 6935l126 -72M7970 6968l127 -69M7961 6992l127 -67M7638 7599l136 -21M7314 7967l133 2M7298 7983l133 3M7077 8175l136 9M7057 8191l136 11M6700 8427l126 34M5395 8799l106 92M5370 8800l105 93M4818 8763l77 112M4244 8602l56 128M3613 8243l16 135M3512 8163l22 145M2686 6896l-65 115M2679 6871l-66 114M2583 5855l-92 98M2716 4987l-120 61M2724 4961l-121 60M2756 4863l-124 59M3031 4270l-132 29M3043 4250l-132 28M3122 4128l-134 22M3171 4061l-140 24M3186 4041l-140 22M3654 3587l-146 -16M3672 3575l-146 -17M4674 3242l-118 -86M4843 3230l-107 -94M5588 3238l-102 -95M5688 3238l-86 -95M5740 3237l-99 -96M6024 3241l-96 -104M6045 3243l-95 -105M6116 3250l-98 -109M6137 3252l-97 -110M6254 3268l-79 -112M6276 3272l-78 -113M6593 3348l-69 -124M6710 3388l-60 -126M6960 3497l-41 -130M6981 3508l-40 -131M7197 3635l-33 -139M7371 3761l-19 -139M8372 5182l61 -123M8481 5750l99 -92M8481 5776l99 -92M8482 5908l99 -99M8485 6204l99 -105M8485 6225l99 -105M5507 5738l-103 -69M6091 6154l44 -105M6058 6346l77 -50M5928 6579l93 -14M5753 6718l94 18M5730 6730l93 21M5258 6809l75 72M5232 6806l73 74M5167 6793l59 79M4979 6725l41 92M4954 6712l38 93M4709 6504l1 103M4570 5824l-90 72M4577 5801l-92 69M4692 5569l-107 25M4710 5545l-107 21M4927 5350l-110 -15M5583 5225l-79 -84M5612 5230l-77 -87M5708 5253l-70 -96M5736 5262l-67 -98M6041 5432l-25 -117M6260 6606l88 -39M6249 6627l89 -37M5611 7097l85 45M4858 7014l45 93M4834 7002l43 94M4554 6800l12 102M4435 6661l-6 101M4310 6442l-31 92M4302 6422l-33 92M4225 6114l-57 87M4737 5061l-111 -14M4760 5047l-111 -17M5332 4883l-75 -63M5358 4882l-74 -64M6666 5843l51 -89M6644 6506l85 -58M6607 6618l87 -43M6598 6640l88 -42M6566 6713l94 -45M6555 6736l95 -43M6406 6968l97 -14M6058 7263l105 15M5782 7384l95 40M5760 7390l94 41M5646 7419l85 50M5490 7444l77 60M5112 7438l61 78M4037 6644l-32 95M3939 6350l-46 97M3934 6327l-48 96M4696 4705l-104 -25M4720 4694l-103 -27M4752 4680l-90 -36M5229 4564l-81 -61M5256 4562l-80 -63M5947 4649l-53 -85M5972 4657l-52 -86M6746 5237l12 -96M6962 5669l41 -99M6969 5691l42 -99M7009 5847l54 -88M7044 6242l75 -86M6967 6696l100 -65M6896 6876l109 -54M6886 6897l110 -53M6632 7256l115 -14M6350 7494l107 15M6331 7508l107 17M6224 7572l104 25M6205 7583l104 27M5345 7794l74 72M5320 7794l73 73M4727 7687l54 94M4113 7314l12 107M4094 7297l10 107M3599 6408l-52 95M3594 6382l-54 94M3554 5943l-73 73M3554 5918l-74 72M3588 5625l-85 60M3732 5201l-96 36M3745 5176l-97 34M4675 4365l-97 -35M5330 4228l-77 -66M5356 4227l-76 -67M6426 4469l-38 -106M6722 4668l-23 -117M6740 4682l-21 -117M7124 5127l16 -122M7137 5148l18 -122M7208 5281l33 -110M7289 5478l45 -106M7389 5928l67 -87M7396 6011l69 -95M7398 6036l70 -94M7382 6482l86 -68M7378 6510l87 -67M6937 7454l118 -19M6921 7471l118 -18M6754 7636l112 3M6736 7652l112 5M6424 7870l112 23M6404 7882l112 24M6349 7912l104 31M5868 8091l102 53M4198 7854l33 110M4175 7839l31 111M4044 7753l28 116M3471 7126l-20 119M3458 7102l-22 118M3309 6770l-45 104M3302 6749l-46 104M3272 6652l-51 100M3192 6136l-71 92M3375 5143l-96 36M3531 4860l-104 26M3696 4643l-105 10M3713 4625l-105 9M4102 4280l-107 -14M4335 4139l-99 -30M4547 4040l-96 -40M4708 3982l-99 -45M4794 3956l-97 -49M4821 3948l-97 -50M5464 3861l-89 -76M5767 3875l-82 -86M5789 3877l-81 -87M5820 3881l-67 -87M6328 4006l-60 -105M6351 4015l-59 -106M6626 4140l-39 -111M7742 5797l68 -95M7750 5879l71 -84M7752 5903l72 -83M7493 7276l104 -33M7480 7300l104 -32M7425 7395l107 -27M7179 7721l109 -6M7161 7740l109 -4M6941 7950l115 4M6920 7967l115 6M6272 8345l105 42M5245 8521l86 81M5221 8521l85 82M4938 8495l74 90M4912 8491l73 91M4771 8465l71 95M3752 7990l23 118M2838 6094l-75 76M3055 5023l-97 40M3064 5002l-98 39M3119 4890l-104 43M3683 4173l-104 -5M3702 4156l-104 -7M5191 3518l-96 -67M5214 3516l-95 -68M5519 3501l-84 -78M5546 3502l-83 -78M5799 3516l-69 -85M5822 3518l-68 -86M6090 3561l-61 -93M6115 3567l-60 -93M6279 3608l-66 -100M6563 3706l-52 -106M6700 3767l-36 -105M7136 4028l-25 -118M7436 4286l-7 -122M7601 4468l7 -121M7616 4487l8 -121M7841 4815l27 -121M7853 4835l29 -121M8198 6214l85 -87M7861 7459l118 -34M7514 7916l125 -15M7497 7935l125 -14M7315 8110l121 -4M7102 8286l110 14M6485 8650l113 35M6014 8815l96 58M5991 8820l95 59M4744 8861l76 100M4527 8811l73 106M4422 8781l57 106M4080 8650l44 113M3428 8235l12 121M3408 8218l11 121M3282 8101l4 122M3209 8027l5 127M3053 7845l-8 124M2954 7710l-20 117M2940 7691l-21 117M2587 6935l-53 106M2580 6913l-54 106M2535 6721l-62 96M2518 6626l-63 104M2484 6232l-75 85M2484 6206l-75 85M2488 6085l-81 89M2482 5923l-75 88M2482 5899l-76 87M2566 5123l-103 67M2573 5097l-103 66M2750 4580l-111 42M2759 4559l-111 42M2773 4528l-112 42M2784 4503l-113 41M2867 4338l-115 36M2877 4319l-115 35M2939 4210l-123 42M2952 4188l-123 41M3578 3507l-122 -16M3679 3441l-130 -17M4203 3222l-107 -57M4358 3182l-112 -61M4383 3176l-112 -62M5079 3123l-89 -87M5105 3124l-89 -87M5798 3129l-76 -83M5825 3129l-77 -83M5914 3128l-82 -85M6148 3143l-87 -95M6507 3210l-66 -104M6532 3216l-65 -104M6671 3258l-65 -110M7728 3937l0 -121M7884 4110l12 -117M7898 4127l13 -117M8166 4507l30 -114M8502 5230l55 -110M8576 5532l64 -110M8590 5782l85 -84M8591 5807l85 -84M8591 5888l85 -82M8591 5912l85 -82M8594 6231l85 -85M8596 6426l85 -90M8596 6452l85 -90M8597 6488l85 -94"/>
<path stroke="#dadd70" d="M5858 6560l-9 -105M5842 6575l-5 -106M5782 6623l8 -106M5764 6636l12 -106M4618 5946l78 91M4773 5586l27 115M4788 5568l23 116M5285 5296l-59 101M6227 5805l-112 -36M5777 6973l32 -104M5617 7028l45 -95M5440 7057l68 -88M5174 7045l89 -70M4901 6961l98 -46M4288 6033l88 76M4312 5778l70 93M5214 4966l-66 98M5388 4950l-76 89M6602 5879l-103 -67M6608 6359l-70 -95M6450 6786l-36 -104M6436 6808l-34 -105M5799 7306l53 -108M4573 7165l119 -28M4291 6915l125 10M4276 6896l125 13M4197 6787l120 22M3979 6178l94 70M3976 6156l93 71M3973 5817l78 91M3976 5796l76 92M4554 4862l-21 115M4601 4833l-30 117M5215 4635l-77 94M5651 4645l-87 71M6146 4803l-105 37M5111 7706l99 -77M4036 7131l123 7M3692 5504l61 110M3722 5410l55 110M4231 4699l-13 120M4250 4685l-15 120M4466 4540l-22 110M4916 4360l-55 102M5881 4344l-97 70M6714 4763l-133 9M7324 6260l-90 -88M7215 6837l-59 -112M6918 7356l-15 -130M6715 7567l5 -130M6257 7871l46 -126M4748 8001l114 -68M3639 7238l135 23M3384 6746l118 51M3351 5420l61 112M3545 4976l35 116M4816 4028l-60 111M6124 4024l-105 69M7465 5126l-129 -40M7476 5148l-129 -41M7548 6964l-58 -114M7540 6985l-57 -115M6677 8048l22 -127M6413 8198l35 -122M6081 8328l50 -115M4246 8203l129 -45M4153 8156l128 -40M4123 8140l127 -39M4102 8128l127 -38M3610 7760l136 0M3592 7743l137 1M3402 7528l132 14M2916 6132l94 77M2952 5605l75 94M3047 5244l56 114M3553 4403l10 120M4997 3624l-78 108M5023 3619l-79 108M6682 3847l-122 47M6703 3857l-123 45M7659 4686l-133 -15M8023 5484l-124 -72M8106 6008l-108 -97M8108 6030l-107 -98M7738 7496l-31 -140M7725 7516l-30 -141M6929 8314l21 -129M6907 8328l23 -129M6591 8513l40 -126M6567 8525l41 -125M6365 8615l48 -121M5056 8816l95 -93M4696 8764l113 -79M4593 8740l122 -74M3902 8463l136 -39M3880 8450l136 -38M2872 7415l133 36M2861 7394l132 37M2562 6220l95 87M2561 6196l94 88M2559 5896l94 92M2559 5871l93 92M2597 5409l84 113M2660 5099l75 115M2666 5079l74 115M2903 4454l44 139M3588 3605l-10 135M4908 3205l-96 102M5526 3213l-87 94M5550 3214l-87 94M8504 5664l-105 -74M5920 6277l-48 -71M4984 6546l87 -26M4735 6224l85 30M4743 5836l53 77M5238 5405l-45 90M5736 5452l-93 47M5960 6752l-1 -88M4436 6327l85 31M4381 5989l70 57M4382 5967l69 59M4396 5844l62 75M4723 5280l4 95M4887 5172l-25 98M6212 5328l-84 12M6517 6343l-59 -70M6513 6364l-57 -71M4166 6525l88 26M4178 5428l39 91M4474 5037l3 90M4578 4957l-14 95M6016 4840l-81 37M6870 6232l-75 -73M6869 6255l-74 -74M6806 6613l-56 -88M6800 6633l-55 -89M6297 7320l5 -99M5193 7618l66 -68M4510 7403l91 -31M4462 7374l95 -26M4168 7134l100 -2M3849 6639l96 38M3837 6609l91 30M3752 6299l84 48M5556 4395l-76 69M5969 4468l-91 52M5994 4475l-92 51M6127 4522l-87 48M6150 4532l-88 47M6227 4566l-90 43M6592 4793l-107 16M6612 4809l-107 14M6853 5058l-108 -6M6868 5076l-108 -7M6913 5139l-111 -16M6968 5222l-105 -16M7193 5824l-90 -53M7221 6084l-82 -70M7222 6105l-81 -71M7223 6258l-76 -76M6871 7252l-23 -99M6857 7270l-22 -99M5943 7885l46 -96M5651 7952l58 -88M5456 7972l72 -83M4076 7547l111 -15M4056 7531l112 -14M4001 7484l111 -11M3964 7450l103 -14M3523 6820l104 40M3515 6801l104 41M3489 6735l101 43M3441 6588l96 46M3379 5779l69 77M3382 5754l68 78M4680 4175l-37 94M4702 4167l-38 94M6461 4262l-106 39M6482 4273l-106 37M7290 5025l-109 -18M7301 5044l-109 -19M7516 5579l-98 -55M7404 7049l-46 -91M5795 8294l63 -95M4552 8215l96 -53M4026 7961l110 -25M3663 7667l110 -4M3526 7517l110 6M3215 7019l106 39M3218 5079l38 98M3228 5056l37 98M3603 4493l11 99M3672 4420l7 99M3742 4351l-3 105M3759 4336l-4 105M3874 4237l-10 105M5265 3691l-73 85M5296 3689l-66 84M5319 3687l-67 83M5543 3682l-82 78M5568 3682l-83 78M6589 3918l-105 41M6611 3928l-105 40M7923 5534l-102 -49M7928 5554l-101 -50M7999 6046l-91 -82M8001 6106l-89 -81M8003 6191l-87 -79M7897 6915l-57 -105M7331 7835l-8 -111M7313 7853l-7 -111M4766 8667l94 -70M4043 8415l116 -38M2664 6110l75 62M2691 5509l74 83M2864 4815l55 100M3104 4315l35 111M3115 4296l34 111M3213 4148l21 120M4021 3489l-44 111M4124 3451l-44 107M4148 3443l-46 106M4555 3343l-67 98M5139 3318l-90 82M5623 3319l-88 81M5655 3320l-76 82M6889 3557l-115 41M7809 4329l-114 -7M7823 4347l-114 -8M5798 5881l-62 -121M6002 6133l45 -111M5607 6686l99 44M4962 6611l41 115M4639 6099l-69 93M5143 5356l-110 -50M6243 6420l94 -56M5536 7021l104 59M4673 6786l9 111M4598 6716l4 116M4582 6699l1 116M4456 6528l-24 113M4683 5218l-122 -10M4843 5112l-116 -32M4861 5103l-116 -35M5074 5021l-108 -55M5095 5015l-107 -57M5980 5088l-42 -105M6513 5664l41 -112M6551 6495l102 -67M6047 7162l122 17M5878 7250l109 40M4037 5605l-102 58M4361 5046l-125 11M4586 4870l-122 -18M6353 4960l-26 -115M6551 5140l6 -109M6658 5271l16 -113M6934 6384l98 -88M6912 6516l106 -69M6906 6539l107 -68M6615 7125l126 -12M4571 7517l37 112M4061 7123l-2 125M4329 4656l-122 -13M6705 4788l-10 -129M6724 4805l-9 -129M6869 4953l10 -127M7154 5415l45 -129M7163 5435l46 -128M7269 6546l104 -69M7231 6707l113 -73M7160 6912l120 -55M6805 7446l128 -4M6601 7630l137 7M5587 8039l110 77M5133 8045l91 98M5109 8043l90 99M5011 8031l75 102M4670 7952l70 118M4648 7945l69 119M4507 7893l49 120M4210 7739l41 133M4191 7727l39 133M3907 7506l13 137M3776 7371l-3 135M3522 5065l-121 46M3538 5037l-118 36M4079 4418l-123 -15M4480 4177l-121 -39M4503 4166l-121 -40M5113 3989l-110 -73M6790 4365l-31 -135M6808 4377l-30 -136M7515 5303l56 -120M7624 5708l75 -110M7628 5733l77 -109M7416 7204l124 -46M6678 8018l136 18M6659 8031l136 19M6353 8199l131 40M6333 8208l130 41M6305 8220l123 46M6284 8229l123 47M5912 8351l121 65M4824 8370l74 109M4798 8364l73 110M4270 8187l47 124M4249 8178l46 124M4072 8083l41 131M4050 8070l40 131M3842 7929l16 128M3627 7743l2 130M3246 7255l-35 122M3231 7227l-37 122M3020 6706l-64 111M2957 6374l-77 110M2969 5653l-102 84M3031 5374l-110 70M4053 4017l-118 -28M4083 3998l-125 -25M4104 3985l-125 -26M6314 3727l-72 -118M6920 4007l-37 -133M6942 4022l-36 -134M7278 4281l-16 -142M8022 5581l74 -117M8038 5660l76 -121M8043 5684l77 -120M8059 6611l112 -89M7346 7936l133 0M7116 8143l136 7M5735 8765l115 77M5709 8769l114 78M5261 8801l95 97M4960 8783l83 107M3550 8194l24 145M2772 7145l-55 120M2695 6929l-60 126M2615 5451l-111 89M2701 5039l-119 63M3708 3551l-146 -21M3829 3482l-139 -37M5507 3237l-102 -95M5534 3237l-102 -95M5783 3237l-100 -96M6635 3361l-67 -125M7160 3611l-36 -138M8484 6162l99 -105M5683 6752l92 27M5111 6778l54 83M4907 6683l32 96M4676 6460l-7 102M4661 6437l-11 102M4558 5871l-85 78M5305 5220l-96 -58M5525 5217l-84 -79M6071 6855l92 -3M4907 7037l49 90M4403 6615l-11 101M4329 6483l-28 94M5409 4880l-71 -66M6182 5103l-29 -96M6676 5890l54 -87M6627 6559l87 -54M6155 7201l99 12M5918 7333l102 28M5898 7342l101 29M5060 7430l58 80M4649 4728l-104 -21M5174 4570l-84 -59M6022 4676l-49 -87M6766 5266l15 -97M6983 6646l98 -68M6670 7214l115 -18M6290 7533l107 20M4903 7740l56 87M4386 7523l35 104M3786 6900l-20 110M3573 6262l-60 88M5182 4239l-83 -60M5203 4237l-83 -61M5280 4230l-78 -65M6215 4370l-47 -98M6774 4712l-18 -118M6820 4754l-13 -117M6886 4819l-2 -114M7097 5084l12 -123M7278 5446l44 -105M7304 5524l47 -104M7312 5547l49 -104M7394 5976l69 -85M7389 6428l84 -70M6889 7506l118 -15M6791 7603l112 0M6464 7847l113 20M5825 8101l101 55M5803 8106l101 56M5596 8140l86 67M5323 8156l89 76M5301 8155l88 77M4609 8042l62 103M4128 7810l28 112M4081 7779l30 115M3845 7590l4 110M3825 7571l2 110M3500 7173l-17 119M3392 6973l-32 114M3381 6950l-33 113M3288 6707l-48 103M3258 6604l-53 99M3190 6087l-73 91M3190 6063l-74 90M3227 5614l-87 67M3276 5412l-94 64M3283 5386l-95 63M4273 4173l-100 -27M4293 4162l-100 -28M4740 3972l-98 -47M4854 3939l-102 -50M5919 3896l-70 -91M5941 3900l-69 -92M6203 3964l-52 -97M6492 4074l-42 -106M6667 4163l-37 -112M6688 4175l-36 -112M7736 5750l66 -96M7745 5830l69 -86M7450 7352l106 -30M7212 7683l109 -8M6983 7914l115 1M6684 8137l109 23M6664 8149l108 24M6432 8276l108 35M6089 8409l106 49M6062 8417l106 50M5870 8466l105 57M5843 8471l105 58M5463 8519l82 75M5439 8520l81 75M5292 8522l87 79M4877 8485l78 93M3478 7739l-3 112M3290 7511l-8 121M3107 7215l-27 115M3095 7192l-29 115M3041 5054l-100 49M3455 4402l-107 12M3645 4208l-104 -3M5260 3512l-94 -69M6227 3594l-68 -99M7395 4246l-7 -119M6831 8470l106 27M6697 8547l109 30M6673 8559l108 31M6272 8735l114 43M6247 8744l113 44M3835 8523l34 117M3813 8510l33 118M3600 8371l21 119M3514 8306l16 119M3090 7891l-6 124M3075 7872l-7 124M2600 6979l-51 107M2488 6065l-81 74M2808 4453l-113 40M2898 4281l-115 33M2914 4253l-122 43M3728 3412l-130 -21M4308 3194l-113 -58M5158 3125l-88 -87M5878 3128l-78 -83M6195 3149l-85 -96M6219 3152l-84 -97M7186 3498l-40 -123M7751 3960l1 -121M8590 5733l85 -84"/>
<path stroke="#f2e6d2" d="M4890 5469l1 120M4908 5455l-3 120M4971 5412l-18 121M5331 5290l-65 98M5491 5288l-80 85M6136 6686l-25 -102M6060 6777l-8 -107M4975 6992l95 -54M4950 6982l96 -51M4297 5863l76 93M4551 5309l10 127M4878 5068l-35 117M5422 4949l-84 87M5937 5042l-103 46M5958 5051l-103 44M6267 5256l-110 9M6408 6852l-29 -106M6079 7170l14 -109M4027 6416l107 56M4517 4887l-17 116M5592 4637l-93 74M5617 4640l-95 73M5699 4653l-90 68M5723 4657l-90 67M5886 4698l-95 56M6074 4768l-103 42M6098 4779l-104 41M6305 4897l-102 28M6326 4911l-102 27M6753 5372l-108 -19M6765 5393l-108 -21M5789 7666l57 -108M5064 7699l101 -74M4666 7587l110 -49M4293 7373l122 -18M3739 5362l52 111M3749 5338l50 112M3816 5194l38 116M4095 4821l9 112M4194 4730l-10 120M5405 4296l-88 88M5988 4372l-100 65M6605 4675l-128 22M6670 4726l-122 21M6689 4741l-122 19M7107 5257l-122 -27M7264 5668l-112 -56M7319 6018l-101 -90M7240 6760l-64 -110M7232 6786l-62 -111M7177 6934l-53 -114M6358 7819l38 -128M6334 7832l40 -128M6212 7892l49 -125M6190 7902l51 -124M3903 7535l126 -14M3777 7409l134 5M3368 6698l117 54M3302 6435l108 69M3299 5638l75 100M3303 5616l73 101M3568 4938l32 117M4004 4446l-10 123M4097 4375l-22 127M5042 3976l-78 107M5946 3982l-103 76M7059 4559l-135 5M7348 4915l-136 -27M7649 5712l-111 -77M7609 6766l-69 -105M7483 7121l-48 -121M7448 7195l-40 -129M7214 7559l-17 -129M7165 7619l-10 -133M7150 7636l-9 -133M6900 7882l10 -132M6030 8344l53 -114M5867 8385l71 -113M4626 8346l120 -65M4491 8304l120 -60M4217 8189l126 -44M4195 8178l127 -43M3558 7708l136 4M3505 7651l135 7M3490 7634l135 9M3373 7491l132 17M3359 7472l132 18M3243 7296l128 28M3390 4599l17 127M3829 4148l-11 123M5653 3583l-96 89M5685 3585l-101 88M5922 3611l-111 79M7109 4109l-128 25M7128 4123l-128 23M7686 4726l-132 -18M7699 4746l-132 -19M8035 5531l-123 -74M8075 5726l-114 -71M8079 5752l-113 -72M8110 6073l-106 -100M8101 6465l-92 -111M8093 6542l-89 -109M6814 8388l27 -127M5287 8825l88 -100M4933 8804l112 -88M4358 8670l121 -65M3948 8489l135 -42M3721 8351l134 -31M3702 8338l134 -30M3527 8207l143 -14M3269 7965l137 -1M3041 7688l139 22M2571 6399l101 74M2590 5461l86 100M2638 5194l78 114M2650 5140l76 114M2758 4785l59 132M2767 4761l58 132M3067 4166l33 135M3706 3524l-26 137M4266 3293l-73 125M4288 3287l-74 125M4412 3258l-80 121M5443 3213l-96 95M5584 3214l-100 94M6387 3269l-110 80M8386 5149l-127 -56M8444 5338l-124 -72M8508 6088l-100 -99M8513 6697l-100 -90M5823 5990l-92 30M5839 6003l-95 24M5900 6064l-83 7M5454 6654l45 -74M5853 5515l-96 33M5484 6962l43 -73M5436 6967l55 -72M4382 6033l73 54M4384 5937l68 67M4914 5158l-26 96M5336 5046l-53 75M5784 5083l-71 49M6483 5792l-85 -35M6532 6207l-67 -65M5674 7248l38 -82M5512 7278l50 -77M4926 7226l86 -50M4862 7204l85 -46M4663 7108l89 -32M4224 6647l97 25M4070 6159l77 52M4160 5468l42 90M4259 5281l26 92M4429 5077l8 89M4444 5063l6 90M6178 4922l-81 29M6545 5234l-90 -2M6565 5259l-94 -8M6832 5824l-85 -40M6867 6299l-72 -76M5669 7593l46 -85M5242 7621l65 -70M4574 7438l89 -35M4553 7427l90 -34M4258 7221l101 -9M3925 6800l94 17M3783 6440l89 42M3768 5594l55 86M3820 5420l48 83M3828 5399l47 83M4294 4767l-5 93M4703 4528l-35 90M5604 4399l-78 67M5920 4455l-90 55M6834 5033l-107 -2M7219 6042l-83 -68M6982 7092l-31 -102M6828 7306l-19 -100M5987 7871l43 -97M5360 7976l78 -80M4144 7599l103 -26M4117 7579l111 -18M3933 7421l104 -12M3798 7275l104 -1M3473 6691l100 46M3466 6668l100 47M3456 6637l97 44M3467 5381l49 91M3473 5362l48 92M3771 4820l19 96M4345 4330l-16 96M4500 4249l-32 98M4521 4239l-33 98M4823 4129l-40 91M5651 4046l-80 74M6419 4242l-105 41M6619 4349l-105 32M6771 4451l-111 21M7322 5082l-109 -21M7580 6106l-80 -74M7581 6164l-79 -75M7346 7171l-37 -99M6706 7903l8 -104M6689 7915l9 -104M5970 8254l57 -99M4612 8234l95 -56M4592 8228l95 -55M3896 7869l102 -24M3780 7776l112 -11M3763 7761l112 -9M3241 7077l107 35M3232 7058l106 37M3023 5834l70 80M3025 5812l70 80M3250 5012l35 99M3541 4564l10 105M3816 4285l-7 105M3835 4269l-8 105M4021 4128l-15 102M4038 4116l-16 102M4629 3823l-40 95M4969 3732l-50 89M5143 3704l-60 87M5169 3701l-61 86M5680 3687l-83 74M6653 3949l-106 38M6737 3993l-102 37M7255 4373l-109 11M7269 4388l-109 11M7320 4439l-116 2M7547 4715l-114 -12M7577 4758l-118 -20M7590 4778l-118 -21M7672 4911l-117 -29M7814 5203l-109 -38M7822 5223l-109 -39M7965 5733l-99 -63M7989 5913l-95 -75M7996 5996l-93 -81M7765 7229l-43 -106M7718 7317l-36 -114M6039 8615l46 -98M5704 8687l64 -94M5495 8710l64 -89M4961 8697l90 -76M4837 8679l92 -72M4813 8675l93 -72M4475 8593l106 -58M3093 7572l115 17M2702 6608l93 62M2663 6199l79 74M2663 6177l79 74M2704 5427l72 94M3053 4404l37 113M3064 4383l36 113M3710 3653l-18 119M4514 3350l-65 99M4807 3317l-67 90M5059 3316l-86 83M5270 3319l-93 81M5293 3319l-93 81M6209 3348l-88 74M6450 3396l-101 64M6595 3438l-103 58M6646 3456l-99 57M6743 3492l-113 49M6763 3500l-113 47M6980 3604l-104 42M7780 4292l-114 -5M8113 4806l-116 -33M8377 5530l-100 -57M8398 6024l-86 -91M8402 6564l-86 -83M5603 5842l-122 -90M5997 6224l83 -80M5676 6658l103 32M5653 6669l102 36M5421 6723l99 68M5394 6725l96 71M5810 5401l-48 -121M5410 7034l82 73M4770 6860l23 109M4631 6748l9 116M4516 6619l-11 116M4378 6366l-40 114M4369 6342l-43 113M4312 5996l-80 94M4568 5326l-127 16M6295 5320l1 -112M6525 5695l48 -105M6473 6695l110 -44M5925 7229l115 33M5905 7238l115 35M5644 7325l102 59M5618 7331l101 61M5566 7340l98 65M4116 6588l-39 114M4106 6565l-41 114M4222 5211l-115 22M4397 5012l-125 6M6008 4766l-53 -104M6682 5305l19 -113M6930 6417l101 -86M6861 6694l115 -60M6815 6811l124 -60M6805 6831l125 -58M6594 7148l132 -18M6580 7164l132 -16M5624 7675l112 68M3651 5965l-86 91M3702 5559l-105 72M6281 4507l-41 -117M6453 4601l-42 -129M6667 4754l-14 -129M6996 5119l24 -127M7178 5476l49 -127M6898 7343l134 -22M6776 7476l128 -1M6761 7491l128 0M6739 7512l126 4M6663 7580l137 1M6642 7597l137 3M6457 7732l132 21M6016 7943l110 58M5334 8054l88 90M5181 8049l93 96M4388 7839l50 127M4154 7703l36 134M3956 7551l18 137M3940 7536l16 137M3531 7021l-34 129M3499 5110l-120 49M4006 4476l-125 -8M4290 4277l-124 -27M4308 4266l-123 -28M7151 4691l4 -140M7292 4874l19 -141M7616 5659l73 -112M7659 6193l92 -97M7535 6928l114 -54M7395 7243l125 -43M7322 7367l131 -39M6621 8055l136 22M5092 8409l97 101M5035 8403l79 102M4746 8353l71 111M4604 8315l71 117M3980 8026l34 132M3745 7851l17 135M3560 7675l-5 128M3142 7050l-48 117M3132 7027l-49 117M3327 4730l-124 33M3384 4646l-126 28M3398 4627l-127 27M4147 3960l-125 -28M4176 3943l-126 -29M4197 3931l-125 -30M4360 3849l-124 -40M4512 3785l-121 -48M4828 3685l-120 -62M4854 3678l-120 -63M5149 3625l-96 -79M5471 3604l-97 -90M6050 3658l-77 -109M6163 3684l-77 -113M6875 3980l-40 -132M7243 4251l-19 -142M7530 4552l17 -133M8088 6249l99 -105M8088 6270l100 -105M8066 6561l110 -92M7996 6885l124 -75M7665 7561l136 -24M5785 8757l116 75M5534 8790l110 86M5445 8796l107 90M5311 8801l97 96M5009 8788l85 106M4286 8618l58 127M3288 7950l1 143M2711 6977l-58 128M2592 5661l-101 86M2622 5404l-112 88M2626 5380l-112 87M2667 5174l-118 75M2680 5119l-118 67M3067 4211l-132 26M3141 4102l-139 27M3735 3534l-135 -31M3868 3462l-137 -41M3888 3453l-137 -43M4504 3265l-109 -81M4528 3261l-108 -82M4641 3245l-104 -87M5643 3238l-86 -96M6086 3247l-92 -107M6209 3262l-81 -111M7729 4099l5 -141M8305 5007l50 -131M8314 5028l51 -131M8396 5259l65 -121M8403 5282l67 -120M5452 5747l-99 -67M5540 6798l84 46M4543 5986l-72 82M4747 5501l-109 14M5354 5215l-93 -63M5378 5214l-91 -65M5651 5237l-75 -92M5997 5397l-32 -116M6128 6797l92 -11M6109 6817l92 -8M5999 6915l100 0M5976 6932l100 3M5721 7065l89 35M5264 7123l77 70M4242 5765l-84 67M4690 5092l-112 -8M6038 5018l-32 -87M6118 5062l-35 -94M6139 5075l-33 -95M6210 5124l-21 -94M6231 5139l-19 -95M6580 6683l89 -39M6213 7158l99 6M6194 7173l99 8M6104 7235l105 11M5856 7358l100 33M5826 7369l96 37M4195 6909l-9 104M4061 6694l-29 97M3950 6394l-43 98M4410 4879l-101 -6M4432 4863l-101 -8M4854 4642l-93 -40M4876 4635l-92 -41M6823 5357l22 -97M6835 5378l23 -96M6874 5452l27 -100M6998 5795l51 -90M7036 6373l82 -68M7003 6567l92 -63M6916 6834l107 -58M6262 7550l105 23M5741 7753l97 52M5716 7758l97 54M4955 7752l58 85M4059 7262l7 107M3822 6961l-15 111M3809 6941l-17 110M3586 6345l-56 91M3582 6318l-58 90M3554 5993l-71 74M4128 4696l-107 5M4249 4599l-98 -12M4724 4347l-96 -37M5751 4246l-67 -82M6173 4353l-49 -97M6860 4793l-9 -118M7251 5379l40 -107M7260 5401l41 -107M7004 7374l108 -14M6989 7392l108 -12M5648 8133l88 65M4017 7733l16 110M3786 7533l0 110M3329 6825l-43 105M3320 6801l-44 104M3295 5352l-96 60M4666 3996l-100 -44M4898 3928l-101 -52M5724 3870l-83 -85M6151 3949l-54 -96M6428 4045l-46 -104M6450 4054l-45 -105M7707 6693l94 -73M7543 7178l102 -38M7533 7198l103 -37M7518 7228l103 -35M6527 8228l108 31M5663 8501l100 66M5641 8504l99 67M5510 8516l83 73M5405 8521l79 76M5379 8522l79 77M4224 8281l43 107M4203 8271l42 107M3441 7699l-5 111M3423 7678l-7 111M3336 7573l-4 121M3320 7552l-6 121M2930 6766l-53 96M2922 6740l-54 95M3023 5097l-99 51M3085 4958l-98 37M3401 4466l-107 16M3419 4444l-107 14M4352 3743l-97 -39M4372 3734l-97 -39M5600 3503l-82 -80M6166 3579l-58 -94M6749 3791l-34 -106M7252 4118l-20 -121M7818 4775l25 -121M7691 7711l116 -15M6892 8432l107 24M6872 8445l107 25M6626 8583l108 33M6353 8705l103 44M5946 8831l94 61M4320 8747l59 110M4034 8629l41 113M3878 8548l36 117M3561 8342l18 119M3542 8327l17 119M3474 8274l13 120M3455 8258l12 120M3241 8060l7 127M2525 6668l-61 105M2485 6023l-76 60M2732 4621l-111 44M5968 3129l-82 -87M7226 3524l-37 -123M8540 5370l62 -101M8596 6374l85 -90M8597 6542l85 -94"/>
<path stroke="#f0a6c0" d="M5541 5820l-86 115M5574 5818l-82 110M5807 6605l2 -106M5726 6659l20 -105M4891 6591l104 -26M4703 6376l111 22M4653 6268l102 33M4944 5429l-10 119M6252 6469l-50 -99M6243 6492l-47 -101M4525 6670l113 5M4428 6528l114 29M4383 6441l105 29M4296 6132l93 59M4291 6078l91 72M4305 5813l71 97M4376 5581l50 111M4386 5558l48 112M4808 5104l-26 119M4831 5092l-29 118M5474 4949l-87 84M5501 4949l-88 82M5610 4957l-86 75M5643 4962l-82 72M5555 7366l62 -95M5530 7370l64 -94M4229 6833l119 14M4215 6815l119 16M4018 6383l103 52M4013 6362l102 54M3969 6080l89 67M3969 5861l80 89M4192 5212l31 109M4427 4954l-3 113M4448 4938l-6 113M5936 4714l-97 53M6728 5332l-109 -15M6969 6125l-93 -76M6969 6149l-92 -77M6261 7463l25 -123M5865 7644l52 -110M5840 7652l54 -109M5496 7715l75 -96M5472 7716l76 -95M3670 5588l68 98M3704 5462l58 111M3979 4950l17 115M3995 4930l15 116M4050 4868l13 111M4065 4853l12 111M4508 4517l-25 109M5184 4310l-67 94M5360 4297l-86 90M6749 4795l-133 6M6987 5064l-134 -22M7002 5085l-134 -24M7064 5181l-131 -32M7252 5623l-113 -53M7312 5938l-104 -86M7315 5965l-103 -87M7325 6207l-92 -83M7325 6229l-91 -83M6998 7253l-24 -129M6861 7422l-8 -130M6288 7856l43 -127M6004 7972l50 -114M5611 8060l73 -103M5181 8073l97 -88M4582 7948l112 -61M4380 7861l131 -43M4207 7766l132 -32M4185 7752l132 -30M3866 7500l126 -10M3848 7483l127 -9M3721 7344l133 10M3483 6980l125 37M3472 6958l124 38M3293 6382l106 72M3289 6356l105 73M3338 5467l64 110M4047 4412l-13 123M4069 4395l-14 123M4136 4346l-25 126M4185 4313l-20 120M4284 4252l-32 122M5489 3938l-83 93M5903 3974l-102 78M6511 4171l-116 49M6532 4182l-117 48M6604 4220l-118 44M6842 4372l-134 22M7159 4664l-136 -5M7679 6002l-98 -84M7680 6027l-98 -85M7661 6506l-81 -101M7658 6527l-80 -101M7524 7027l-54 -116M7512 7056l-52 -119M7502 7078l-50 -120M7343 7378l-29 -129M7331 7397l-27 -129M7277 7476l-25 -126M7258 7502l-21 -129M7243 7521l-20 -129M7194 7584l-13 -132M6945 7843l2 -127M6860 7915l13 -132M6839 7931l15 -132M5447 8440l87 -99M5423 8441l88 -99M5295 8443l84 -94M5272 8442l84 -94M4847 8399l98 -78M4448 8288l121 -57M4426 8280l121 -56M4397 8269l121 -55M4060 8104l128 -36M4031 8087l128 -34M3797 7924l127 -21M2970 6605l109 62M2965 6581l109 63M3057 5215l56 110M3130 5036l45 117M3224 4851l36 117M3415 4565l14 127M3428 4549l13 127M4946 3634l-76 110M5313 3586l-84 99M5340 3584l-85 98M5587 3581l-94 91M5609 3581l-95 90M5976 3620l-113 76M6228 3676l-117 66M6641 3827l-121 49M7388 4355l-136 2M7628 4642l-139 -21M7641 4659l-139 -22M8087 5812l-112 -75M8104 5976l-108 -86M8111 6316l-98 -100M8105 6421l-94 -110M8086 6590l-87 -111M7205 8100l4 -130M7186 8117l5 -130M7089 8196l18 -135M6865 8356l25 -128M6638 8489l38 -126M6491 8561l37 -121M5759 8785l78 -112M5735 8789l79 -111M5519 8815l78 -105M5443 8820l98 -105M5390 8823l99 -103M5367 8824l100 -103M3979 8505l127 -47M3808 8407l130 -38M3787 8394l131 -37M3631 8287l139 -24M3610 8272l139 -22M3066 7722l139 20M2912 7487l131 28M2629 6774l116 71M2623 6748l115 72M2580 6495l106 80M2575 6442l102 72M2563 6268l96 86M2564 6093l88 99M2580 5534l88 98M2583 5510l87 99M2628 5241l80 112M3122 4087l30 132M3377 3788l7 135M3461 3710l-2 138M4568 3231l-80 114M4595 3227l-82 113M4674 3218l-80 110M4696 3215l-81 109M4803 3208l-94 106M5477 3213l-87 94M6323 3256l-108 83M6344 3260l-109 82M7060 3523l-141 38M7613 3942l-134 10M7675 4005l-139 1M8503 5614l-113 -71M8510 6374l-100 -106M8512 6598l-100 -95M4926 6502l85 -19M4910 6488l86 -16M4716 5935l63 72M4870 5625l17 100M5337 5387l-54 82M5775 5470l-95 42M5819 5494l-94 38M6217 6196l-63 -51M5890 6808l8 -87M5870 6822l11 -87M5542 6953l38 -76M5523 6956l40 -75M5118 6941l73 -53M4910 6864l85 -34M4892 6855l85 -33M4388 5895l65 70M4390 5874l63 72M4526 5504l32 91M4955 5139l-31 94M4976 5130l-33 94M5177 5069l-44 83M5822 5095l-73 47M5840 5101l-73 46M5960 5150l-81 34M6533 6127l-71 -57M6529 6249l-64 -67M6526 6271l-63 -68M6379 6725l-32 -82M5930 7151l22 -90M4825 7189l87 -43M4806 7182l87 -42M4473 6966l92 -15M4291 6755l100 16M4065 6108l75 55M4063 6082l74 56M4135 5533l49 81M4331 5183l15 95M4346 5165l13 96M4841 4819l-35 89M4993 4770l-42 84M5108 4745l-51 82M5320 4722l-61 73M5345 4721l-62 72M5593 4730l-65 62M5962 4819l-85 39M6327 5022l-84 19M6347 5038l-85 17M6739 5546l-88 -22M6843 5871l-83 -43M6847 5895l-83 -44M6787 6672l-52 -90M6470 7170l-9 -100M6454 7186l-8 -101M5865 7541l35 -91M5735 7578l43 -87M5713 7583l44 -87M4220 7185l95 -10M4041 6982l94 3M4026 6962l94 5M3796 6487l90 40M3746 5701l62 78M3884 5271l36 93M5093 4418l-55 81M5711 4411l-82 63M5742 4416l-77 63M5762 4420l-78 62M6197 4552l-89 44M6552 4762l-107 19M6895 5113l-108 -10M6990 5259l-104 -19M7211 5947l-86 -57M7208 6435l-69 -85M6903 7211l-19 -109M6407 7672l16 -103M6390 7683l17 -103M5424 7974l75 -82M5402 7975l76 -82M5071 7960l88 -70M3825 7306l104 -3M3736 7195l110 13M3500 6763l103 43M3379 6263l86 67M3371 5861l72 79M3374 5829l70 76M3454 5419l51 90M3483 5333l48 87M3491 5312l47 88M3576 5121l38 90M3586 5102l37 90M3901 4673l4 103M3916 4658l3 103M4310 4350l-15 96M4371 4315l-24 99M4459 4269l-29 99M4608 4202l-36 96M4637 4191l-35 95M5020 4082l-61 91M5748 4055l-80 71M6687 4392l-105 29M6707 4405l-106 28M7185 4868l-119 -17M7197 4885l-119 -18M7551 5756l-90 -56M7555 5781l-90 -58M7517 6716l-59 -87M7417 7020l-43 -101M7323 7214l-35 -100M6559 8001l24 -109M5825 8288l54 -94M5301 8339l73 -80M5201 8336l86 -77M5005 8319l81 -71M4858 8295l85 -66M3922 7889l110 -20M3128 6795l99 46M3043 6437l89 60M3022 6241l82 61M3020 5878l72 79M3393 4762l22 102M3407 4742l20 103M3569 4532l8 105M4211 4009l-28 103M4675 3808l-41 94M4771 3779l-47 94M4863 3755l-49 92M5493 3682l-81 80M5602 3684l-81 77M5628 3685l-82 76M5811 3699l-80 71M6116 3754l-87 61M6541 3896l-97 46M6681 3963l-101 39M6700 3973l-102 38M7018 4172l-115 19M7234 4353l-118 4M7299 4417l-109 9M7352 4473l-115 0M7368 4490l-115 -1M7504 4656l-114 -9M7523 4681l-114 -10M7837 5262l-108 -41M7912 5492l-103 -48M7983 5863l-96 -73M8003 6236l-86 -80M7987 6506l-78 -84M7984 6528l-77 -85M7697 7353l-34 -114M7644 7440l-27 -119M7387 7773l-8 -116M7365 7798l-10 -111M6596 8394l27 -105M4544 8614l104 -61M4521 8607l105 -60M3671 8180l116 -21M3564 8095l117 -15M3411 7955l120 -3M3117 7607l115 15M2755 6839l98 44M2767 5124l64 101M2773 5102l63 102M3563 3766l1 114M3582 3749l-1 114M3668 3682l-15 120M3924 3531l-31 111M4465 3359l-54 99M4851 3316l-70 89M4873 3315l-71 88M5222 3318l-93 81M6057 3330l-78 80M6082 3332l-80 79M6498 3409l-103 62M6521 3416l-103 61M6803 3518l-114 45M6938 3582l-103 44M7283 3801l-114 22M7406 3900l-112 18M7425 3916l-112 17M7648 4137l-123 -6M8098 4779l-112 -26M8329 5333l-107 -60M8338 5366l-106 -60M8400 6333l-86 -89M8402 6483l-86 -83M8402 6510l-86 -83M5573 5842l-124 -84M5988 6267l91 -66M5980 6297l92 -56M5975 6318l92 -54M4698 6314l-30 115M4739 5677l-123 44M4753 5655l-125 39M5184 5343l-107 -56M5581 5324l-74 -99M5602 5328l-71 -101M5482 7029l86 68M5458 7031l85 70M4561 6675l-3 116M4546 6656l-5 116M4313 5945l-84 91M4315 5920l-86 89M4602 5290l-128 10M4620 5273l-128 6M5044 5030l-104 -55M5725 5001l-62 -93M6601 6085l77 -97M6602 6110l79 -95M6578 6388l95 -74M6383 6845l114 -26M6308 6942l118 -16M6092 7132l114 18M6074 7145l113 21M5962 7210l116 29M5839 7266l107 44M5727 7304l102 54M5524 7346l96 68M4579 7140l27 117M4137 6633l-35 116M4031 6333l-59 104M4702 4805l-118 -30M4725 4794l-118 -33M5063 4682l-107 -60M5094 4676l-100 -65M5116 4673l-99 -66M5815 4703l-62 -97M6056 4787l-49 -106M6080 4797l-47 -106M6515 5102l-3 -113M6797 5507l39 -107M6861 5664l50 -107M6867 5684l52 -106M6910 5844l62 -108M6922 6462l103 -83M6918 6484l105 -81M6895 6584l109 -64M6785 6872l127 -54M6720 6984l128 -36M6706 7004l129 -34M6038 7554l121 41M6007 7568l113 46M5984 7577l112 48M5255 7695l79 89M5146 7686l76 94M4758 7597l53 108M4738 7590l52 108M4335 7374l27 122M4012 7064l-12 120M3995 7043l-14 120M3944 6971l-14 129M3761 6615l-50 110M3698 6402l-60 116M3677 6298l-68 110M3673 6272l-69 109M3652 5916l-88 89M3653 5891l-89 88M3685 5633l-102 77M3690 5608l-103 75M3769 5352l-113 57M3826 5227l-112 36M4457 4573l-120 -23M4721 4447l-103 -48M4840 4406l-113 -50M5623 4328l-83 -92M5650 4331l-82 -93M5950 4386l-64 -106M6328 4531l-38 -118M6952 5056l18 -128M6967 5077l20 -128M7284 5908l76 -110M7287 5930l78 -110M6414 7759l132 24M6093 7915l124 48M5278 8053l103 92M4350 7819l47 128M4331 7809l46 128M4259 7769l29 124M3557 7066l-30 130M3354 6563l-64 115M3347 6537l-65 114M3296 6190l-82 100M3304 5763l-97 75M3343 5545l-107 75M3434 5254l-116 58M3776 4700l-130 19M4433 4199l-122 -36M5008 4007l-106 -69M6328 4117l-50 -118M6349 4125l-48 -118M6755 4340l-34 -135M6870 4424l-23 -136M6888 4439l-21 -136M7068 4602l-3 -138M7264 4835l15 -142M7588 5535l66 -117M7658 6085l89 -88M7658 6241l93 -95M7657 6265l94 -95M7521 6967l115 -52M7128 7624l126 -6M6392 8181l132 38M6242 8246l122 50M4933 8389l76 105M4908 8385l75 106M4117 8109l44 130M3708 7819l15 135M3300 7343l-27 127M2941 6182l-85 103M2940 6157l-86 102M2942 5914l-93 86M3426 4590l-127 25M3661 4327l-128 4M3679 4309l-128 3M3908 4117l-119 -20M3926 4104l-119 -21M4906 3666l-119 -65M5195 3620l-94 -81M5219 3617l-93 -82M5921 3635l-73 -104M6091 3667l-75 -110M6112 3672l-74 -111M6206 3695l-75 -115M6791 3931l-44 -130M6810 3941l-43 -130M7762 4897l33 -142M7774 4918l34 -141M7979 5416l65 -125M7985 5436l66 -124M8029 5613l74 -122M7931 7070l132 -67M7894 7158l130 -51M7791 7360l137 -45M7589 7665l136 -16M7573 7685l136 -14M7030 8211l124 21M7010 8226l124 22M6919 8291l130 21M6616 8473l123 39M6434 8560l122 47M5897 8734l118 70M5871 8740l117 71M5675 8774l117 79M5648 8778l116 81M5480 8794l108 88M5228 8800l103 98M3336 8000l5 143M3320 7984l3 143M3265 7926l-3 141M2950 7504l-33 132M2602 6469l-80 110M2588 6291l-86 99M2596 5615l-102 84M2598 5592l-103 83M2632 5348l-114 83M2636 5323l-114 82M2652 5242l-116 77M2657 5219l-117 76M2692 5072l-119 66M3779 3509l-134 -35M4455 3274l-110 -79M4562 3256l-106 -83M4588 3252l-106 -85M4876 3230l-108 -96M4981 3230l-107 -99M5005 3230l-106 -100M5268 3236l-93 -100M5348 3237l-97 -97M5372 3237l-97 -97M6407 3298l-88 -119M6429 3303l-87 -120M7417 3797l-15 -138M7637 4001l-6 -146M7763 4137l7 -141M7853 4246l20 -134M8264 4916l42 -139M8326 5058l50 -137M8335 5081l51 -137M8417 5328l69 -119M8484 6131l99 -96M8486 6355l99 -105M8488 6565l99 -106M5869 5800l-67 -118M6080 6078l25 -107M6088 6108l33 -106M6047 6382l81 -57M5847 6655l97 0M5485 6807l81 52M5457 6810l79 55M4835 6632l16 95M4815 6615l13 96M4549 5933l-77 77M4671 5600l-105 32M5244 5229l-91 -54M5270 5224l-89 -57M5413 5212l-86 -69M5838 5303l-55 -106M6277 5746l20 -109M6310 5831l29 -102M6319 5854l31 -102M6357 6014l49 -81M6205 6698l91 -26M6188 6722l91 -23M5861 7004l89 24M5840 7015l89 26M5766 7048l91 31M5339 7126l81 65M5314 7125l80 66M4274 6345l-41 87M4252 6267l-46 89M4230 5833l-80 73M4234 5810l-81 71M4592 5166l-113 4M4614 5148l-113 1M6087 5043l-27 -88M6271 5172l-15 -95M6354 5251l-3 -96M6582 5589l31 -95M6592 5612l33 -95M6384 6995l104 -20M6365 7016l104 -18M5527 7439l91 56M4469 7179l27 106M4161 6862l-13 104M4145 6839l-15 103M3896 5988l-67 72M3904 5809l-76 69M3928 5651l-84 59M3949 5567l-88 55M5138 4574l-84 -57M5625 4574l-67 -75M5649 4577l-66 -76M6554 5015l-7 -96M6858 5420l26 -96M7031 5979l62 -86M7034 6002l63 -85M7042 6304l79 -71M7040 6327l80 -70M7013 6524l90 -65M6837 6988l109 -37M6758 7106l112 -27M6743 7126l113 -25M5630 7773l89 59M4275 7448l23 103M4192 7384l16 104M3738 6808l-32 98M3762 5144l-102 42M4161 4668l-107 2M4207 4630l-98 -9M4477 4456l-96 -25M4500 4444l-96 -26M4874 4299l-96 -44M5247 4233l-81 -63M5804 4255l-65 -84M6963 4904l5 -114M7036 4995l14 -112M6959 7429l109 -10M6815 7580l116 -6M6596 7760l119 8M6193 7984l103 39M5969 8064l101 49M5946 8070l101 50M5476 8150l82 71M5357 8155l80 75M5256 8155l87 79M3976 7702l14 110M3956 7686l12 110M3687 7427l-2 117M3673 7410l-3 117M3360 6903l-36 112M3347 6871l-40 106M3198 6239l-69 83M3261 5464l-93 66M3312 5300l-97 58M3950 4396l-113 0M3972 4378l-113 -2M5985 3909l-67 -93M6017 3916l-73 -95M6857 4284l-23 -114M7290 4690l10 -118M7306 4711l12 -118M7425 4880l23 -118M7541 5091l37 -111M7728 5694l63 -100M7756 6325l81 -81M7694 6748l95 -70M7687 6775l96 -69M7561 7138l101 -40M7065 7839l112 -1M6725 8110l109 21M6486 8249l107 33M6143 8392l107 47M5923 8454l107 55M5709 8495l101 64M4828 8477l76 94M4265 8300l45 106M3179 7343l-21 116M3073 7147l-31 114M3336 4548l-109 25M3748 4117l-107 -6M3966 3956l-112 -13M3994 3938l-111 -16M4414 3717l-96 -41M5637 3504l-87 -81M7295 4154l-17 -121M7316 4173l-15 -121M7360 4213l-9 -119M7530 4386l-1 -124M7548 4406l1 -124M7707 4606l18 -118M7902 4926l32 -123M8145 5632l64 -108M8057 7049l112 -63M7661 7748l117 -12M7647 7767l117 -11M7379 8050l119 -4M6415 8681l104 42M6395 8689l104 43M6322 8717l114 41M6215 8755l105 49M5470 8903l98 76M5204 8908l88 85M5178 8907l88 86M4858 8879l77 96M4389 8770l62 108M4366 8763l61 109M3696 8437l36 124M3121 7927l-4 124M2657 7146l-42 116M2648 7121l-43 116M2482 5783l-81 86M2614 4947l-105 55M2664 4794l-110 58M2701 4694l-114 59M3087 3990l-127 30M3104 3968l-127 28M3524 3546l-121 -13M3547 3529l-121 -14M3957 3305l-123 -41M4930 3120l-87 -84M5571 3133l-73 -81M6890 3343l-57 -116M6915 3354l-55 -117M7782 3995l3 -121M8106 4412l21 -122M8357 4857l39 -114M8367 4878l40 -113M8465 5116l45 -123M8474 5142l47 -122M8527 5318l60 -103"/>
<path stroke="#f4af8b" d="M5300 5866l-71 122M5596 5818l-85 107M5987 6027l-107 -8M5918 6493l-30 -96M5679 6683l24 -102M5134 6716l99 -59M4873 6577l105 -23M4663 6294l103 29M4846 5507l6 123M4990 5400l-21 120M5620 5308l-96 73M5808 5373l-109 52M6193 5736l-119 -26M5250 7055l78 -76M5028 7010l99 -57M4653 6801l114 -12M4442 6552l115 26M4392 6460l106 26M4299 6155l94 57M4500 5371l23 120M5585 4955l-84 76M5666 4965l-83 70M6626 6099l-88 -74M6570 6515l-59 -93M6489 6717l-43 -100M6376 6896l-20 -114M6313 6972l-8 -119M5469 7376l72 -92M5356 7382l85 -87M5015 7349l98 -68M4807 7285l102 -54M4450 7074l119 -16M3968 6056l88 69M3966 5946l84 78M4307 5068l8 119M4942 4687l-54 104M5803 4675l-97 61M6376 4948l-115 15M6913 5751l-106 -56M6476 7302l5 -129M6238 7477l27 -123M5419 7719l75 -92M4400 7448l112 -32M3937 7003l118 14M3786 6738l112 32M3658 6327l102 62M3928 5017l20 120M4786 4398l-44 104M4970 4346l-54 100M5073 4326l-68 99M5309 4299l-72 90M5594 4302l-96 81M5698 4312l-94 77M6314 4496l-125 41M7031 7205l-30 -125M6984 7272l-22 -129M6846 7439l-7 -131M6026 7965l49 -115M5750 8038l67 -108M4903 8037l99 -77M4606 7956l112 -62M4403 7873l130 -45M4028 7641l134 -18M3343 6616l115 61M3317 6512l110 61M3271 6188l98 81M3273 5842l84 97M3456 5143l46 112M3791 4648l7 125M3875 4561l5 119M3956 4487l-9 127M4208 4299l-22 120M4305 4240l-33 122M5515 3938l-84 92M5726 3950l-102 85M6043 4003l-110 71M6261 4066l-119 60M6364 4105l-126 53M6627 4233l-119 43M6822 4358l-134 23M7143 4647l-137 -3M7439 5072l-129 -33M7289 7459l-26 -126M6154 8305l52 -118M5212 8440l93 -92M4869 8403l98 -79M4763 8381l104 -74M4376 8260l122 -54M4011 8074l128 -33M3816 7939l127 -23M3650 7798l126 -13M3324 7423l133 24M2950 6499l106 65M2919 6220l98 90M3004 5380l66 99M3065 5194l55 110M3109 5084l47 119M3139 5016l44 117M3196 4902l36 123M3236 4831l35 117M3291 4741l30 118M3630 4324l-3 129M3846 4134l-12 123M5076 3611l-68 104M5175 3598l-84 103M6254 3684l-117 65M6358 3715l-124 59M6561 3792l-125 51M6923 3981l-124 36M7271 4243l-136 9M7404 4372l-136 1M7741 4812l-135 -29M7888 5097l-132 -47M8102 5950l-108 -85M8112 6131l-103 -88M8110 6340l-97 -101M7960 7063l-62 -119M7820 7359l-40 -137M7647 7628l-20 -144M7583 7710l-21 -134M7377 7939l-5 -132M7300 8014l-1 -131M7073 8209l19 -135M6093 8709l59 -117M4125 8577l135 -50M4000 8517l126 -49M3166 7849l134 4M2788 7244l130 49M2756 7169l126 46M2706 7040l123 54M2583 6518l106 79M2562 6116l91 98M2562 6007l92 105M2560 5818l93 97M2681 5022l73 114M2984 4303l41 132M3136 4067l29 132M3284 3886l16 133M3358 3807l9 135M3441 3727l-1 138M3779 3481l-34 136M4778 3209l-93 108M6267 3246l-113 84M7405 3758l-134 22M7462 3804l-145 10M7693 4024l-139 0M7912 4284l-133 -9M8329 5003l-129 -46M8508 6146l-100 -99M8509 6276l-100 -104M8511 6475l-100 -101M5561 5929l-56 94M5748 5949l-72 64M4873 6452l83 -13M5314 5390l-52 84M5511 5388l-70 69M5693 5433l-89 52M6158 5876l-88 -31M5231 6962l64 -61M5138 6946l72 -54M4651 6674l93 -3M4484 6441l90 23M5154 5074l-42 84M5247 5056l-53 80M5982 5162l-82 32M6173 5291l-89 11M6444 5678l-88 -27M6497 5844l-84 -39M6496 6439l-52 -74M6433 6621l-37 -88M6341 6786l-22 -93M5907 7162l24 -90M5410 7287l61 -74M5121 7273l70 -62M4305 6776l101 14M4250 6692l96 18M4077 6212l79 49M4515 5003l-8 95M5088 4748l-50 82M5570 4727l-64 63M5749 4755l-73 53M6156 4909l-81 30M6386 5071l-87 13M6843 6470l-64 -80M6826 6544l-59 -87M6724 6821l-42 -95M5890 7533l34 -91M5486 7618l66 -80M3914 6779l94 19M3735 5781l66 78M3751 5676l61 79M3875 5290l37 92M4037 5029l20 90M4175 4874l7 92M4250 4804l-2 95M4505 4625l-24 94M4683 4537l-34 91M5148 4409l-54 79M5248 4399l-59 77M5687 4408l-81 64M6509 4730l-104 23M7076 5434l-102 -33M7213 5968l-85 -58M7205 6458l-68 -86M7137 6749l-54 -91M6158 7805l31 -100M5192 7972l81 -75M5094 7963l87 -71M4804 7909l95 -59M4441 7775l98 -43M3879 7366l114 2M3627 7031l104 18M3382 6283l87 66M3372 6181l83 65M3368 6099l80 68M3370 5881l72 78M3613 5053l34 90M3669 4961l23 102M4391 4304l-25 99M4588 4210l-35 96M4942 4098l-47 90M5045 4077l-62 90M5769 4057l-80 71M6370 4220l-97 46M6550 4309l-105 35M6947 4598l-109 12M7000 4650l-109 9M7262 4981l-114 -21M7397 5233l-110 -40M7542 5705l-93 -59M7577 6006l-83 -71M7425 7000l-44 -101M7282 7285l-28 -107M7238 7354l-25 -106M5846 8284l53 -94M5457 8335l75 -85M5279 8339l74 -80M5178 8335l86 -76M4983 8316l82 -70M4761 8274l85 -63M4404 8159l102 -46M3941 7903l110 -21M3435 7401l111 15M3316 7217l108 25M3120 6771l98 47M3047 6460l89 59M3036 6386l87 60M3024 6266l83 60M3147 5255l47 93M3437 4699l24 94M4191 4021l-27 103M4431 3900l-36 100M4749 3785l-46 94M4843 3760l-48 92M5832 3702l-81 70M6951 4124l-107 27M7143 4271l-115 11M7218 4338l-118 5M7489 4636l-114 -7M7709 4979l-112 -27M7786 5137l-108 -31M7973 5786l-98 -70M7657 7420l-28 -119M7556 7567l-22 -115M7492 7650l-14 -118M7404 7755l-9 -116M7202 7963l-3 -107M6800 8275l24 -110M6616 8384l27 -105M6227 8556l37 -99M5124 8712l92 -81M4154 8470l105 -47M3854 8307l109 -33M3689 8194l116 -22M3544 8078l117 -14M3394 7938l120 -2M2914 7262l112 38M2761 6862l98 44M2666 6283l82 67M2816 4952l60 96M2926 4663l44 116M3168 4212l32 108M3873 3556l-28 112M3945 3521l-33 110M4749 3321l-68 92M5789 3320l-85 84M6381 3380l-90 69M7303 3816l-114 21M7663 4153l-123 -7M8087 4760l-113 -25M8205 4992l-112 -38M8322 5308l-108 -59M8344 5389l-106 -61M8388 5586l-100 -63M5259 5902l-118 -73M5551 5844l-125 -81M5921 5976l-7 -124M5978 6061l25 -112M5808 6573l116 -5M5026 6647l48 109M4712 5726l-120 58M5763 5379l-65 -120M6130 5680l12 -130M6231 5878l44 -108M6187 6558l104 -44M5994 6807l112 -1M4855 6911l41 110M4321 5865l-92 76M4470 5456l-119 30M4928 5072l-123 -37M5022 5037l-105 -53M5911 5057l-46 -101M6279 5303l-2 -112M6457 5546l28 -114M6563 5815l54 -115M6583 6362l94 -76M6447 6743l108 -31M6322 6925l118 -19M6188 7059l119 3M5748 7298l103 52M5465 7353l99 72M5338 7359l81 81M4742 7231l51 115M4025 6309l-60 103M3991 5895l-85 78M4938 4714l-105 -53M5039 4688l-108 -59M5837 4709l-60 -98M6132 4823l-42 -107M6498 5085l-5 -113M6734 5387l21 -120M6786 5483l37 -107M6936 6008l75 -101M6060 7545l121 39M5854 7622l114 55M5564 7684l105 73M5230 7693l78 90M5125 7684l75 94M4935 7649l66 102M4352 7386l28 121M4193 7258l15 126M3929 6949l-16 129M3770 6638l-49 111M3692 6379l-62 115M3760 5375l-112 59M3837 5205l-113 34M4394 4612l-119 -19M4602 4497l-112 -37M4699 4456l-104 -46M4862 4400l-113 -51M5094 4347l-103 -66M5926 4380l-66 -105M6597 4699l-24 -130M6778 4856l1 -127M7205 5551l53 -128M7300 6239l92 -98M7279 6487l102 -80M7208 6784l112 -54M6256 7845l117 43M5672 8027l103 74M5257 8053l102 93M4927 8018l86 108M4436 7862l44 122M4016 7601l12 128M3867 7467l-1 129M3398 6713l-54 122M3290 5993l-90 85M3302 5786l-97 76M3337 5571l-106 76M3362 5467l-110 73M3425 5276l-115 59M3790 4684l-130 17M4662 4102l-113 -52M4861 4040l-106 -63M4986 4011l-107 -68M5280 3970l-98 -82M5381 3964l-102 -86M6033 4025l-76 -112M6111 4045l-75 -115M7083 4617l-2 -138M7547 5395l58 -124M7659 6110l90 -87M7644 6445l100 -92M7252 7470l130 -26M7110 7644l126 -5M7035 7724l127 0M6950 7806l126 7M6569 8087l121 34M6166 8275l122 53M5776 8379l109 74M5651 8398l100 80M4662 8331l75 116M2977 6515l-72 110M2943 5894l-93 85M2954 5766l-97 79M2984 5567l-103 73M5371 3607l-107 -85M5570 3604l-84 -93M5898 3631l-74 -103M6483 3786l-57 -121M7383 4385l-5 -142M7810 4987l42 -133M7923 7090l132 -66M7883 7183l131 -50M7780 7380l138 -44M6635 8463l123 38M6568 8498l131 37M6455 8551l122 46M6358 8592l132 46M6283 8621l129 50M5977 8715l122 66M5206 8800l102 99M4658 8731l78 118M4189 8579l47 126M4066 8523l55 135M3811 8381l40 140M3247 7906l-4 141M3035 7637l-21 140M2962 7525l-32 132M2819 7255l-42 137M2611 6546l-78 108M2587 6265l-87 98M2584 5929l-89 91M2775 4808l-126 60M2898 4520l-130 44M4258 3320l-129 -65M4370 3291l-126 -71M4900 3229l-107 -97M5241 3236l-93 -100M5835 3236l-102 -97M5938 3237l-98 -100M6543 3333l-65 -120M7655 4018l-5 -146M7942 4365l23 -136M8056 4537l34 -131M8436 5404l70 -125M8458 5501l73 -128M8477 5597l80 -109M8480 5694l97 -105M8484 6109l99 -96M8486 6380l99 -105M8487 6509l99 -102M8488 6591l99 -106M5365 5765l-111 -63M5599 5732l-103 -79M5841 5785l-75 -112M6037 6408l85 -59M5981 6512l94 -36M5826 6670l97 3M4631 6384l-18 102M4579 6259l-34 101M4543 6046l-65 78M4658 5622l-104 35M4810 5438l-111 4M5015 5302l-106 -28M5104 5266l-105 -37M5438 5212l-84 -71M5816 5293l-58 -105M5919 5345l-43 -112M6352 5988l47 -82M6366 6220l64 -68M5503 7116l83 53M4525 5229l-115 17M6647 5767l45 -92M6693 6209l71 -80M5554 7435l92 54M5202 7448l72 74M4383 7111l19 108M4322 7054l8 106M4014 6587l-36 92M3975 6481l-41 93M3923 6274l-54 81M3896 5963l-68 71M3956 5542l-89 54M4320 4956l-101 2M4568 4772l-101 -18M5113 4578l-85 -55M5760 4597l-60 -79M6203 4760l-32 -89M6487 4954l-15 -96M6886 5478l29 -99M7042 6106l69 -78M6849 6967l108 -39M6588 7301l107 -1M5800 7739l92 51M5603 7777l88 61M5040 7769l70 83M4256 7434l22 104M3922 7105l-9 104M3854 7011l-18 101M3748 6829l-31 98M3713 6755l-30 107M3664 6631l-38 105M3636 6548l-44 102M3684 5306l-95 48M3774 5123l-103 41M3899 4939l-98 14M4598 4397l-98 -30M4896 4293l-95 -45M5022 4264l-82 -54M5889 4271l-66 -88M6094 4326l-54 -95M6308 4410l-44 -102M6981 4925l6 -114M7335 5630l54 -98M7397 6349l82 -81M7362 6602l92 -69M7267 6919l104 -58M7177 7112l105 -34M7107 7230l106 -24M7058 7302l109 -21M6832 7563l116 -7M6217 7974l103 38M6022 8048l99 48M5504 8148l83 70M5384 8155l81 74M5169 8151l78 82M4983 8131l78 90M3909 7648l12 113M3240 6524l-57 98M3196 6215l-70 82M3190 6005l-75 79M3205 5756l-82 65M3246 5525l-88 55M3351 5198l-95 39M3488 4928l-103 31M5523 3860l-75 -78M6041 3921l-72 -96M6256 3981l-58 -101M7013 4404l-19 -122M7108 4491l-12 -124M7162 4546l-5 -122M7233 4623l7 -117M7440 4904l24 -117M7551 5113l38 -111M7594 5213l44 -108M7703 5565l59 -97M7724 5672l62 -100M7761 6105l76 -91M7719 6636l91 -72M7671 6837l95 -55M7392 7446l107 -23M7331 7534l115 -28M6005 8433l99 54M5786 8482l96 63M4625 8429l60 98M4523 8398l64 103M3191 7364l-20 116M2996 6966l-45 100M2882 6560l-61 93M3159 4817l-100 29M3220 4715l-99 21M3350 4529l-110 24M3946 3969l-112 -12M4014 3925l-111 -17M4125 3858l-102 -27M4215 3809l-102 -31M4284 3775l-103 -33M5663 3505l-86 -82M6000 3544l-62 -90M7720 4624l19 -118M7891 4905l30 -123M7978 5090l39 -122M8064 5321l50 -118M8065 7027l112 -65M8038 7099l110 -49M7987 7219l114 -46M7889 7410l122 -46M7723 7668l121 -23M7590 7833l121 -14M7038 8333l113 15M6193 8763l104 50M5858 8850l98 63M5559 8895l97 73M5446 8904l97 77M4885 8883l78 95M4262 8726l52 109M3955 8590l41 116M3674 8422l35 125M2700 7251l-42 108M2495 6445l-70 89M2481 5810l-80 87M2515 5389l-96 74M2982 4141l-117 27M3247 3800l-123 9M3934 3314l-124 -40M4440 3165l-113 -64M4549 3147l-102 -70M4903 3120l-88 -84M5218 3128l-88 -86M5355 3131l-80 -83M5550 3133l-73 -81M5647 3133l-84 -82M6060 3134l-89 -91M7834 4052l3 -124M8268 4683l29 -123M8560 5451l62 -109M8593 6094l85 -89"/>
<path stroke="#ef9bba" d="M5516 5823l-85 116M5916 5938l-115 22M6020 6107l-97 -32M5366 6749l80 -84M5234 6739l80 -71M4784 6490l116 3M4717 6399l112 18M4635 5862l68 95M5086 5352l-43 119M5988 5489l-119 25M6049 5545l-133 4M4849 6935l112 -36M4352 6365l102 36M4288 5974l84 74M4356 5631l57 103M4438 5462l32 124M5062 4999l-56 108M6208 5204l-106 19M6381 5384l-107 -5M6498 5572l-109 -29M6236 7050l1 -116M5682 7341l62 -103M4897 7317l103 -60M4074 6551l113 47M3987 6236l96 62M4030 5546l61 101M4075 5424l48 115M4178 5233l33 108M4364 5009l5 114M6802 5462l-113 -35M6961 6364l-83 -89M6328 7419l16 -123M6118 7543l41 -122M5324 7721l78 -88M4898 7665l97 -66M4499 7506l114 -37M4248 7338l124 -12M4169 7269l119 -9M3874 6906l115 19M3822 6813l119 35M3674 6408l106 61M3627 5996l90 78M3630 5867l84 91M3781 5265l46 109M4135 4783l-4 121M4391 4585l-21 113M4600 4472l-35 109M4692 4433l-36 105M5826 4333l-92 72M6132 4418l-110 56M7199 5463l-120 -49M7282 5745l-110 -66M7280 6611l-71 -113M7256 6708l-68 -103M7089 7111l-39 -121M5831 8021l65 -111M5530 8069l88 -102M5202 8074l96 -89M5126 8069l96 -86M5024 8057l102 -81M4802 8015l110 -71M3603 7187l125 16M3544 7092l129 31M3505 5046l42 110M3609 4876l31 113M4484 4148l-44 119M4597 4101l-45 114M4966 3991l-59 106M5171 3957l-85 103M5649 3943l-103 88M6890 4410l-133 19M7272 4805l-138 -18M7669 5867l-104 -85M7566 6912l-59 -120M7095 7696l-11 -126M6605 8093l27 -127M6247 8270l52 -123M5742 8409l71 -108M5101 8433l97 -88M3922 8016l130 -27M3453 7591l135 11M3162 7149l128 44M2984 5455l68 102M3688 4268l-2 124M3765 4200l-13 129M3928 4073l-12 119M4103 3958l-24 120M4199 3903l-31 120M4398 3806l-39 116M4800 3667l-65 112M4872 3649l-65 110M6170 3661l-102 72M6455 3750l-111 60M6859 3942l-128 37M7172 4158l-131 19M7793 4903l-138 -40M8112 6238l-100 -101M8055 6758l-77 -122M7923 7152l-55 -126M7868 7269l-48 -129M6976 8281l18 -128M6284 8646l60 -124M5863 8766l79 -116M5544 8813l77 -106M5135 8821l92 -95M4409 8687l129 -65M4207 8612l129 -56M3468 8157l132 -20M3410 8105l136 -12M2998 7625l140 29M2926 7510l132 27M2721 4891l68 117M3202 3982l24 131M3870 3435l-46 135M4166 3322l-56 123M5286 3212l-101 95M5722 3214l-90 96M6035 3218l-108 94M6942 3461l-127 51M7130 3564l-142 33M7552 3884l-140 9M7832 4182l-134 -5M8076 4524l-140 -34M8131 4615l-131 -25M8186 4712l-138 -42M8410 5222l-126 -61M8464 5418l-121 -72M8504 5722l-100 -96M8512 6576l-100 -95M5939 6187l-62 -31M5859 6426l-30 -73M5621 6612l18 -80M5361 6659l50 -68M5076 6597l82 -39M4753 6273l85 19M4708 6097l78 49M4883 5611l14 100M4963 5538l-2 101M5110 5449l-18 92M5391 5383l-52 77M5607 5406l-76 61M5930 5574l-101 20M6218 6173l-64 -49M6213 6252l-59 -61M6196 6353l-51 -68M6067 6633l-19 -85M5679 6916l32 -83M4976 6895l78 -42M4794 6795l84 -25M4420 6279l83 34M4515 5523l34 91M5425 5042l-60 71M5889 5119l-80 40M6528 6031l-76 -57M6390 6706l-34 -81M6215 6942l-6 -93M6001 7111l11 -88M5311 7289l67 -70M4743 7152l84 -39M4456 6951l92 -13M4371 6860l96 0M4060 6026l73 62M4864 4810l-37 89M5269 4725l-61 76M5863 4785l-76 47M6554 7078l-18 -100M6398 7238l3 -106M6070 7458l24 -96M5414 7622l67 -77M5320 7624l63 -73M4926 7573l85 -54M4806 7537l80 -50M4357 7302l93 -21M3965 6871l96 14M3770 6391l89 53M3798 5486l49 90M3910 5221l32 92M4422 4676l-20 96M4572 4589l-26 92M4856 4474l-41 86M4975 4441l-46 84M5070 4422l-53 82M6354 4631l-96 35M7164 5691l-94 -44M7184 6574l-62 -90M7160 6671l-57 -92M6565 7560l11 -110M5017 7953l79 -69M4727 7887l100 -55M3412 5577l59 85M4752 4150l-39 93M5286 4047l-66 83M5861 4071l-92 66M5976 4093l-96 61M6069 4116l-92 59M7152 4825l-117 -11M7494 5500l-98 -43M7568 5888l-86 -63M7496 6796l-55 -93M6465 8055l30 -108M6048 8231l48 -99M5379 8338l73 -82M5079 8327l87 -73M4310 8118l98 -44M4221 8074l97 -41M3146 6849l98 37M3017 5936l74 82M3070 5520l58 87M3123 5327l50 91M4104 4073l-23 105M6140 3760l-88 61M7037 4187l-115 17M7890 5416l-108 -56M7969 6631l-72 -99M7913 6864l-62 -94M7855 7031l-51 -106M7614 7485l-26 -117M6981 8149l13 -111M6700 8337l18 -102M5233 8716l83 -84M4691 8651l102 -66M4618 8633l95 -65M3322 7862l120 3M2834 7077l105 38M2735 6765l97 52M2713 6664l96 64M2681 6464l88 65M2662 5951l81 72M2662 5840l78 70M2666 5761l78 81M2674 5661l77 79M3026 4453l42 106M3441 3879l2 121M4275 3404l-62 108M4645 3331l-68 95M4956 3315l-81 86M5381 3319l-92 81M7050 3644l-108 37M7143 3702l-116 28M7614 4100l-119 0M7728 4228l-117 -5M8243 5080l-109 -38M5334 5883l-118 -72M5744 6620l114 12M5312 6724l85 81M5232 6714l69 89M4802 6474l3 118M5001 5421l-129 -21M5463 5310l-96 -87M5929 5474l-26 -127M6188 5778l31 -118M6281 6166l73 -89M6218 6489l100 -53M6061 6741l113 -17M5918 6866l112 12M5024 6984l57 100M4352 6286l-50 109M4531 5370l-120 15M5307 4979l-87 -75M5392 4974l-88 -78M5841 5032l-52 -98M6183 5215l-22 -114M6587 5936l68 -95M6533 6552l103 -56M6267 6986l120 -10M5134 7346l81 93M5030 7328l77 100M4647 7181l40 118M4279 6861l-16 116M4220 6778l-23 116M4004 6188l-70 90M4019 5683l-98 65M4304 5107l-118 12M4478 4945l-119 -10M4824 4752l-109 -45M5340 4652l-88 -79M5435 4651l-77 -83M5757 4689l-66 -95M5933 4739l-45 -98M6223 4874l-33 -109M6819 5557l37 -120M6946 6217l88 -98M6843 6744l117 -57M6748 6938l123 -33M6509 7239l128 -3M6248 7444l124 24M6179 7484l116 34M5314 7697l90 86M5032 7669l67 98M4646 7552l47 112M4288 7339l20 121M3870 6851l-31 117M3957 5018l-115 16M4098 4852l-116 2M4480 4560l-119 -25M4791 4422l-103 -51M5486 4321l-81 -86M6034 4410l-63 -110M6918 5012l11 -132M7026 5165l29 -126M7076 5251l32 -132M7133 5365l45 -121M7236 5654l65 -108M7260 5760l68 -116M7301 6157l88 -100M6364 7788l122 33M5783 8007l116 66M3722 7308l-13 130M3656 7221l-20 128M3596 7131l-22 135M3480 6919l-42 125M3435 6813l-52 115M3374 6639l-62 110M3455 5203l-114 46M3602 4930l-123 33M3740 4743l-127 19M3878 4592l-123 2M3941 4532l-130 3M4380 4226l-127 -30M5709 3972l-88 -99M5794 3981l-84 -102M5927 4002l-70 -106M6209 4074l-67 -117M6402 4147l-50 -122M6710 4311l-26 -127M6933 4476l-9 -131M7391 5033l29 -143M7582 5514l65 -118M7640 5814l79 -111M7631 6545l104 -85M7593 6732l111 -74M7559 6854l114 -64M7501 7020l116 -47M7450 7136l123 -52M7367 7295l125 -37M7168 7577l128 -13M5985 8332l122 61M5430 8416l98 88M5342 8419l103 91M3376 7455l-15 134M3314 7365l-26 127M2993 6597l-69 111M2948 6292l-81 105M2939 6100l-87 98M2939 5996l-90 95M3067 5259l-114 65M3140 5071l-115 46M3281 4802l-124 39M3473 4532l-119 9M3861 4153l-127 -10M4776 3698l-111 -62M5094 3633l-104 -76M5775 3616l-91 -100M5997 3648l-85 -108M6387 3750l-61 -118M6555 3816l-52 -122M6642 3854l-45 -123M6746 3906l-36 -124M7104 4135l-24 -136M7580 4616l16 -139M7844 5058l47 -130M8070 5870l86 -111M8078 5951l89 -107M8088 6173l97 -103M8049 6671l115 -89M8025 6780l119 -81M7725 7471l133 -28M7401 7880l137 -6M7236 8040l130 8M4901 8775l93 111M4561 8707l70 120M4361 8645l63 125M3467 8125l11 140M3155 7798l-13 138M2854 7329l-41 133M2588 6036l-93 80M2956 4403l-132 40M3005 4315l-140 48M3285 3921l-139 10M3448 3753l-141 -2M4072 3379l-138 -54M4153 3352l-127 -62M5110 3233l-106 -101M6807 3426l-59 -131M6913 3474l-60 -136M7094 3570l-32 -132M7266 3682l-33 -142M7801 4182l6 -146M7866 4263l21 -133M8002 4452l30 -132M8109 4625l35 -134M8152 4699l34 -140M8485 6278l99 -101M5713 5742l-87 -93M5625 6774l97 32M5032 6750l47 88M6226 5649l12 -111M6363 6076l52 -85M6357 6311l71 -67M5423 7124l72 60M5208 7117l70 73M4289 5602l-94 50M5172 4901l-97 -52M5616 4890l-66 -73M5955 4979l-50 -88M6336 5232l-6 -96M6392 5292l-4 -102M6467 5389l10 -99M6689 5992l61 -78M6660 6442l82 -65M4114 6789l-16 107M3908 6171l-58 85M3901 5833l-75 70M4104 5216l-102 34M4171 5121l-103 24M4478 4830l-99 -13M5338 4558l-72 -66M5892 4631l-47 -81M6298 4815l-30 -93M6394 4880l-21 -94M6638 5102l-4 -102M7023 5924l59 -87M7028 6435l85 -67M6948 6754l99 -48M5165 7785l71 78M4815 7716l51 89M4338 7492l20 97M4174 7369l15 104M3847 5009l-103 28M3986 4834l-102 10M4401 4499l-100 -19M4822 4314l-89 -44M5126 4247l-91 -57M5418 4225l-76 -70M5686 4238l-65 -79M7050 5015l15 -112M7379 5847l62 -102M7402 6166l75 -82M7401 6270l79 -81M7306 6810l98 -56M7230 7004l107 -52M6693 7687l109 10M6511 7817l118 14M6139 8006l100 43M5729 8120l89 62M5065 8142l69 85M4756 8085l64 97M4554 8023l51 102M4359 7940l52 112M3727 7471l-1 114M3610 7332l-14 110M3219 6413l-60 103M3204 6298l-66 92M3193 5894l-79 82M3437 5018l-103 41M3626 4729l-108 21M4034 4330l-111 -7M4383 4114l-110 -26M5006 3906l-90 -59M5305 3867l-94 -70M6572 4112l-34 -106M6739 4205l-34 -114M7761 6193l78 -87M7635 6950l100 -59M7252 7636l109 -12M7047 7856l112 0M6856 8017l109 14M6772 8078l112 16M5143 8517l77 84M4442 8371l46 100M4339 8331l57 108M4128 8233l40 109M3885 8087l34 117M3616 7875l16 120M2962 6872l-45 109M2908 6683l-54 100M2841 5941l-78 77M2849 5817l-81 76M2876 5607l-87 74M3858 4032l-104 -15M4818 3583l-105 -52M4919 3560l-91 -59M6333 3624l-61 -100M6643 3741l-49 -108M6931 3891l-27 -109M7204 4080l-23 -120M7789 4728l23 -120M8096 5428l57 -109M8159 5715l67 -109M8197 6275l86 -82M8193 6391l89 -80M8170 6606l97 -82M8129 6816l103 -68M7208 8202l110 11M6576 8608l113 32M5770 8867l100 65M5642 8886l94 71M5020 8898l85 91M4134 8674l43 110M3157 7969l-5 120M2895 7622l-21 121M2842 7534l-30 113M2794 7447l-35 110M2756 7374l-35 114M2618 7037l-46 117M2561 6839l-55 110M2510 6570l-67 89M2492 5591l-89 75M2608 4968l-104 56M2638 4871l-109 62M2842 4384l-114 36M3431 3622l-120 -7M4121 3247l-109 -54M5744 3131l-75 -82M6274 3161l-77 -98M6806 3308l-56 -113M7379 3629l-18 -118M7963 4209l7 -129M8224 4606l33 -113M8412 4980l45 -111M8589 5676l79 -115M8595 6315l85 -91"/>
<path stroke="#c290d0" d="M5415 5842l-83 119M5695 5825l-103 92M5802 5857l-105 65M4714 5672l40 114M6122 5628l-127 -10M6274 5934l-98 -44M6296 6043l-91 -64M4756 5136l-13 116M5790 4992l-99 59M6442 5473l-114 -23M6570 5755l-106 -50M5967 7235l34 -113M4718 7246l115 -43M5356 4627l-76 87M6196 4830l-99 36M6483 5038l-106 13M6543 5097l-114 0M6698 5286l-112 -15M6838 6818l-49 -123M6678 7085l-25 -122M6027 7585l37 -114M5220 7717l93 -83M4991 7686l97 -71M4796 7635l102 -59M4594 7555l108 -46M4076 7175l125 5M3708 6533l113 61M3641 6219l100 78M6411 4548l-114 41M6504 4604l-116 35M7303 6490l-80 -97M3266 5973l90 84M3318 5543l70 102M3405 5263l52 115M3740 4705l13 122M6738 4300l-127 33M6999 4502l-134 11M7387 4979l-130 -24M7674 6383l-86 -99M6506 8150l41 -130M5528 8435l90 -103M4994 8422l97 -84M3347 4657l26 118M4678 3702l-51 112M5837 3599l-98 83M6036 3631l-106 75M7514 7793l-8 -142M5967 8743l61 -114M2651 6861l120 68M2602 6641l110 68M2564 5716l91 88M2617 5293l80 118M2831 4608l50 138M3943 3403l-52 133M4067 3355l-54 126M6465 3287l-120 75M7309 3684l-133 28M7780 4120l-143 -10M8022 4439l-137 -24M8505 5825l-100 -98M5360 5965l-57 103M5670 5931l-76 81M5901 6343l-47 -61M4706 6030l72 55M4784 5748l41 88M6004 5645l-101 8M6067 5722l-101 -9M6210 6057l-73 -48M5611 6938l41 -81M4592 6607l90 3M5528 5043l-63 66M5733 5071l-77 52M6517 5939l-81 -52M6475 6512l-48 -75M4527 7014l90 -21M4061 5899l68 64M4089 5694l57 81M4108 5620l55 76M4394 5112l7 95M5449 4720l-69 68M6466 5146l-88 6M6651 5381l-92 -15M6789 5671l-89 -35M6866 6045l-81 -60M6674 6911l-35 -95M6602 7017l-23 -100M6004 7488l36 -99M5811 7558l45 -91M3724 5992l75 68M6414 4667l-99 31M6654 4847l-103 15M7025 5325l-102 -21M7104 5503l-101 -40M4352 7730l106 -35M3593 6968l105 26M3415 6480l92 52M3389 5699l65 77M4144 4461l-15 104M5179 4057l-62 86M5475 4040l-74 79M6274 4181l-101 49M6861 4522l-106 20M7462 5400l-103 -44M7108 7528l-11 -111M6243 8161l32 -100M6168 8190l39 -100M4687 8255l87 -60M3266 7126l108 33M3192 6968l102 37M3065 6560l91 52M3096 5419l55 87M6057 3740l-86 63M6885 4081l-106 30M7939 5603l-101 -54M7802 7154l-48 -101M7274 7893l0 -115M6131 8588l45 -100M4426 8577l105 -57M4340 8547l103 -54M3970 8376l107 -39M3250 7780l112 0M3164 7672l115 11M2673 6387l85 64M2738 5247l68 98M7481 3968l-112 14M8288 5202l-106 -42M8394 5693l-86 -70M8398 6112l-86 -84M8399 6203l-86 -89M5430 5863l-113 -78M5723 5855l-83 -109M5530 6708l105 52M4636 6023l-80 81M4833 5554l-130 17M4890 5500l-133 5M5262 5324l-101 -66M5674 5347l-60 -107M6271 6299l85 -66M6136 6645l111 -35M5851 6909l108 24M5155 7017l63 91M6407 5461l18 -115M5260 7357l88 85M4406 7003l14 127M4353 6948l0 122M3990 6008l-79 91M4001 5785l-92 72M4088 5455l-108 45M4177 5279l-117 35M4653 4831l-113 -30M5241 4657l-89 -75M6400 4997l-20 -115M6888 5753l55 -112M6927 5936l71 -95M5424 7695l92 81M4462 7457l27 113M3716 6473l-56 115M3651 6025l-83 95M3659 5805l-93 76M4961 4373l-100 -60M5800 4352l-76 -100M7296 6032l84 -92M7048 7133l127 -38M6860 7387l126 -7M6167 7885l114 49M5866 7987l106 65M5442 8051l95 85M3308 6316l-76 108M4584 4132l-112 -49M5587 3964l-99 -94M7338 4943l30 -133M7486 5232l48 -131M7655 6007l86 -109M6800 7931l134 12M5227 8417l102 95M4195 8151l39 124M3436 7532l-7 138M3617 4370l-129 9M4567 3764l-118 -52M7462 4471l5 -139M7929 5264l58 -127M7522 7747l137 -13M6828 8351l131 25M6183 8656l115 60M3997 8488l40 132M3885 8426l31 132M3717 8319l30 139M2628 6649l-75 107M2588 5715l-98 84M2813 4711l-126 50M3966 3419l-138 -48M5450 3237l-88 -95M6353 3286l-83 -116M7522 3889l-16 -147M7599 3962l-5 -142M8483 6010l99 -94M5370 6815l77 63M4557 6177l-45 100M6084 5471l-21 -121M6334 6418l79 -60M6299 6523l84 -48M4990 7068l46 83M4691 6916l24 97M4509 6754l3 100M4219 6022l-65 73M4221 5926l-72 73M4389 5401l-102 28M5055 4927l-93 -46M5254 4890l-91 -58M5734 4910l-54 -78M5822 4933l-48 -80M6695 6095l65 -84M6483 6861l95 -26M5346 7452l76 67M4980 7414l60 85M4869 7383l52 90M4563 7243l38 104M3913 5731l-80 65M4003 5410l-95 48M6078 4699l-42 -87M5485 7789l90 65M5242 7791l74 75M3998 7197l2 108M3565 6198l-63 90M3557 5862l-76 72M3645 5411l-94 59M4066 4752l-98 0M4302 4562l-97 -16M5537 4227l-76 -74M5992 4296l-52 -90M6494 4508l-33 -107M6565 4552l-25 -107M7168 5202l25 -116M4841 8105l61 93M4432 7974l50 107M3548 7247l-11 121M3429 7049l-30 110M4200 4216l-109 -17M4495 4062l-96 -38M5121 3887l-90 -63M7500 5009l25 -125M7667 5424l53 -104M7748 6431l84 -69M7739 6512l86 -65M7584 7084l103 -50M3682 7933l16 116M3537 7800l2 113M3371 7617l-3 120M3148 7291l-22 118M3036 7065l-41 102M2854 6365l-67 89M2857 5736l-83 74M2923 5395l-93 63M3285 4617l-108 28M5018 3542l-87 -63M5102 3529l-87 -65M6447 3662l-54 -102M6844 3841l-37 -111M6999 3934l-34 -116M7654 4535l7 -127M7941 5007l38 -117M8118 5510l59 -113M8179 5854l72 -108M8187 5941l76 -105M8196 6084l81 -95M8097 6932l108 -65M7782 7585l117 -24M6753 8516l107 29M5339 8908l87 81M4654 8842l70 102M3745 8469l26 116M2483 5726l-84 87M2502 5488l-93 78M3176 3880l-122 13M3346 3699l-127 6M4014 3283l-111 -49M4664 3133l-108 -73M4769 3124l-89 -79M5435 3132l-84 -81M6400 3184l-68 -100M7110 3453l-38 -118M7623 3834l-11 -126M8031 4302l12 -128M8332 4805l36 -117M8592 5968l85 -84"/>
<path stroke="#a7acde" d="M5962 6421l-43 -99M4614 6088l93 70M5189 5317l-50 109M5410 5286l-79 92M6303 6121l-84 -66M5828 6949l32 -109M5564 7040l53 -94M5886 5022l-93 53M5870 7279l42 -109M5126 7369l89 -75M4384 7015l114 -12M3984 5739l73 90M5047 4661l-58 100M6882 5654l-106 -44M6963 6037l-97 -77M6920 6583l-70 -103M5924 7625l56 -115M5623 7700l68 -101M3636 5790l80 95M6223 4454l-109 52M7160 5368l-127 -49M7304 5875l-104 -67M6758 7528l3 -133M6523 7717l22 -128M3962 7588l132 -14M3450 6910l126 47M3278 6271l102 78M3266 6080l94 81M3281 5758l81 91M5399 3940l-93 96M5849 3965l-107 80M7595 5471l-121 -66M7683 6110l-95 -97M5947 8367l68 -115M3200 7222l123 27M2927 6323l100 71M4500 3764l-45 115M7832 4978l-135 -42M7920 5174l-133 -58M7129 8164l14 -134M6201 8675l57 -120M3023 4236l33 140M6650 3341l-125 65M7961 4350l-138 -20M8285 4905l-129 -38M8488 5528l-120 -84M4536 6530l86 6M4425 5722l52 84M4469 5609l42 89M5053 5102l-42 91M6281 6869l-15 -92M4068 5819l65 66M5650 4737l-73 58M4073 7025l97 3M4778 4500l-40 89M6049 4494l-94 49M6794 7345l-8 -110M3690 7130l110 18M3543 6866l103 32M3528 5222l43 89M3740 4861l21 95M7069 4724l-110 4M7161 7461l-21 -103M4500 8196l97 -51M3031 5755l67 85M3046 5648l63 88M3494 4623l15 102M6336 3817l-92 54M6801 4029l-104 34M7422 4552l-115 -4M7941 6765l-66 -97M6868 8230l21 -111M3608 8131l118 -17M3062 7526l115 22M2870 7166l110 41M2722 5326l69 103M4351 3384l-58 104M7214 3751l-117 24M8174 4926l-116 -40M4757 6417l-12 116M4647 5917l-95 84M6259 5974l53 -102M6277 6089l66 -89M4325 6164l-65 94M4764 5160l-124 -19M5187 4995l-111 -62M6598 6031l73 -100M4953 7309l64 103M4813 7615l62 108M3810 6733l-36 124M3717 5502l-106 64M5724 4340l-78 -97M3316 5681l-101 83M3661 4843l-125 26M6501 4193l-48 -126M7617 6627l106 -78M3889 7964l24 130M3523 4472l-123 10M3759 4237l-119 -11M4290 3883l-123 -36M2647 6746l-67 125M2852 4618l-129 48M5235 5795l-94 -64M5926 5846l-44 -118M6011 5940l-4 -105M4751 6553l6 99M4597 5745l-98 60M6160 5553l-5 -119M5103 7099l63 80M4370 6561l-19 97M4255 5708l-89 65M4813 5019l-110 -22M6623 5690l35 -103M6001 7294l95 26M4248 6975l5 112M3898 6043l-64 76M5446 4559l-80 -69M6397 7462l115 7M6150 7611l104 29M4598 7636l37 93M3566 5761l-80 76M6658 4617l-24 -113M7361 5740l57 -102M3839 4493l-105 0M7391 4828l20 -118M7641 5342l45 -117M7756 5964l73 -81M2864 6452l-63 98M2844 6255l-70 82M3517 4334l-105 5M3600 4250l-104 -1M4685 3620l-92 -51M5459 3502l-76 -76M8147 6740l100 -68M6093 8793l101 54M2488 6343l-72 94M2549 5198l-103 77M3039 4056l-125 32M5018 3121l-82 -86M6590 3232l-65 -107M7293 3568l-35 -126M7463 3694l-13 -119"/>
<path stroke="#9ed9e8" d="M5225 5886l-79 122M6024 6212l-75 -74M5584 6719l40 -98M5477 6742l57 -92M5055 6687l95 -51M4936 6623l113 -28M4659 5786l59 101M6301 6250l-73 -72M6220 6545l-43 -96M6005 6829l0 -106M5921 6893l15 -108M5356 7060l81 -83M4757 6880l103 -31M4643 5220l2 118M6047 5096l-110 32M6618 5985l-95 -66M6624 6215l-81 -82M6596 6416l-66 -92M6524 6641l-48 -101M5214 7378l92 -80M4624 7196l107 -39M4111 5347l44 107M5156 4642l-70 96M6635 5201l-108 -3M6937 5854l-102 -61M6954 5955l-99 -66M6889 6688l-63 -105M6793 6908l-39 -127M6753 6976l-38 -116M6627 7147l-18 -122M6414 7354l3 -120M3650 5690l74 97M5513 4297l-94 84M6808 4852l-124 9M6877 4926l-128 -1M7324 6104l-97 -91M7313 6411l-83 -101M5950 7989l59 -115M4137 7720l122 -33M5284 3946l-79 99M6438 4137l-116 53M7193 4704l-139 -10M7525 5264l-129 -56M7660 5787l-106 -73M7679 6304l-89 -88M7630 6684l-74 -99M7397 7290l-40 -118M7039 7754l-4 -129M6776 7979l20 -132M6342 8230l46 -124M3749 7886l128 -18M3106 7028l125 50M3028 6819l120 63M2919 5893l86 100M3464 4504l18 118M4285 3858l-35 118M4600 3727l-56 116M5396 3581l-91 97M7025 4048l-133 25M7966 5297l-128 -61M8000 5402l-125 -65M8023 6880l-71 -118M7988 6987l-63 -127M7437 7877l-8 -134M5652 8801l73 -108M4508 8717l127 -69M3330 8029l143 0M3099 7766l136 12M2566 6323l99 88M2572 5610l88 102M2938 4386l44 132M5082 3208l-105 97M5956 3214l-102 98M6868 3427l-124 56M8236 4806l-133 -39M8506 5927l-100 -104M5264 5990l-61 103M5487 5939l-64 100M5552 6635l33 -80M5272 6653l63 -61M4799 6359l88 7M6122 5807l-92 -17M6196 5989l-76 -35M6162 6461l-42 -69M6122 6546l-31 -79M5765 6881l19 -83M5347 6970l54 -67M5046 6920l81 -46M4717 6736l89 -14M4395 6172l81 50M4384 6083l76 56M4567 5445l23 98M5634 5052l-71 59M6073 5215l-88 22M6307 5436l-89 -3M6359 5512l-92 -15M6142 7009l-4 -87M6083 7056l3 -88M5791 7211l37 -88M5217 7284l71 -66M4585 7057l92 -25M4128 6424l85 33M4095 6305l83 49M4221 5344l35 85M4792 4839l-33 91M5179 4734l-57 79M6703 5471l-90 -20M6855 5947l-82 -49M6871 6176l-77 -71M6859 6371l-69 -76M6174 7401l16 -98M5613 7603l60 -86M4736 7512l85 -45M4625 7464l88 -38M3737 6202l82 59M3728 6102l79 61M3726 5886l71 77M4103 4949l9 97M5451 4391l-70 72M5850 4437l-81 59M7201 5875l-90 -66M7224 6159l-79 -68M7215 6379l-71 -82M7019 7028l-34 -104M6229 7772l32 -103M5583 7961l64 -87M4631 7855l92 -53M4516 7810l95 -47M3399 6400l90 59M3366 5975l76 72M4063 4524l-8 103M4230 4400l-13 98M5395 4041l-67 81M6145 4137l-87 58M7556 6525l-68 -76M6889 7756l5 -112M6786 7842l12 -112M5674 8315l64 -91M5555 8328l73 -88M3704 7706l115 -3M3560 7557l113 6M3017 6158l80 74M3015 6047l77 72M3186 5154l45 87M3286 4942l34 95M3336 4852l29 97M4258 3984l-26 101M4362 3932l-31 100M4529 3860l-37 97M5040 3719l-52 88M5418 3683l-76 81M6449 3858l-102 47M7744 5048l-110 -28M8000 6340l-83 -87M7115 8040l5 -110M6353 8508l40 -104M3769 8251l116 -26M2959 7350l112 29M2800 6985l103 42M2787 5051l63 96M2895 4736l51 105M3287 4051l18 116M5470 3318l-74 80M5985 3324l-86 83M7535 4019l-117 6M7917 4479l-116 -17M8036 4670l-116 -28M8401 6407l-86 -89M4867 6540l17 116M4669 6242l-45 108M4666 5838l-106 74M5366 5311l-105 -75M6078 5613l-4 -136M5759 6955l110 34M5637 6998l105 49M5506 4973l-90 -83M5644 4986l-80 -91M6597 6249l87 -78M4861 7280l56 107M4500 7083l25 123M4164 6685l-29 120M3994 6090l-74 91M5627 4666l-74 -90M6626 5229l14 -110M6428 7312l128 5M5776 7644l115 59M4134 7202l4 123M3737 6543l-51 119M3657 6136l-78 95M3670 5719l-96 69M3888 5119l-118 33M4010 4951l-115 9M4226 4734l-122 -4M5376 4321l-93 -81M7274 5836l73 -111M6990 7221l128 -28M6551 7668l127 19M4821 7995l74 111M4744 7975l74 115M3324 6425l-71 114M5171 3981l-112 -75M5481 3962l-97 -90M7219 4774l10 -141M7445 5140l38 -140M7648 5898l83 -101M6879 7868l126 12M4384 8237l63 124M3503 7613l-9 129M3165 7100l-42 125M3057 6831l-56 120M3009 5456l-108 76M5295 3611l-109 -82M6992 4055l-22 -128M7185 4200l-21 -139M7331 4333l-3 -135M7638 4697l20 -142M7708 4805l30 -137M7956 5342l58 -135M8053 5743l81 -114M8084 6366l103 -104M7820 7308l135 -45M7454 7823l138 -10M7159 8108l136 6M6721 8415l126 33M6080 8688l114 64M5088 8794l103 104M4485 8685l74 124M3390 8053l8 142M3101 7729l-17 138M2907 7429l-40 127M2591 6348l-86 92M2585 6151l-90 84M2604 5534l-106 80M3109 4147l-134 23M3221 3997l-138 16M3353 3847l-139 4M3530 3682l-139 -11M3611 3618l-138 -18M4696 3240l-117 -87M7352 3746l-20 -139M8206 4799l37 -141M5911 6597l93 -9M4904 5365l-110 -12M4783 6975l29 91M4228 6139l-55 88M4345 5476l-104 47M4468 5292l-114 27M5473 4880l-72 -68M6515 5461l17 -100M6261 7118l102 -1M5463 7446l76 61M4760 7344l48 95M4662 7298l46 101M4050 5309l-99 41M4242 5036l-102 13M4776 4671l-90 -37M5563 4566l-67 -73M6792 7058l112 -32M6503 7379l115 -2M6043 7659l103 36M5910 7708l98 44M4527 7602l33 95M3556 6081l-68 84M3612 5520l-88 53M7336 6707l94 -58M4248 7882l31 107M3774 4558l-106 5M4570 4031l-96 -41M5203 3876l-91 -66M5439 3861l-90 -75M5636 3864l-80 -82M5843 3884l-66 -88M6928 4336l-24 -119M6595 8190l115 23M6197 8373l113 42M5587 8509l100 69M4038 8184l29 108M3952 8131l29 111M3773 8007l25 117M2839 6121l-74 77M2956 5282l-93 51M2993 5175l-96 50M4491 3686l-102 -41M4599 3647l-104 -44M5348 3506l-86 -72M5883 3526l-69 -88M6542 3698l-53 -106M8030 5221l46 -119M8181 6523l93 -80M7939 7318l119 -49M7850 7478l118 -33M7439 7992l122 -9M5122 8905l84 88M4770 8865l77 99M4549 8817l74 106M3302 8120l6 122M3036 7822l-10 124M2533 5279l-101 81M3601 3491l-122 -17M3833 3358l-124 -33M4226 3215l-107 -57M6697 3267l-64 -111M7015 3402l-44 -117M7544 3762l-9 -119M7712 3921l-1 -121M8594 6205l85 -85"/>
<path stroke="#bbe6dc" d="M4636 6215l100 42M5150 7041l91 -68M4596 6748l108 -10M4932 5044l-42 114M6147 7123l6 -109M4225 5166l23 114M4829 4724l-45 107M5465 4628l-86 81M6836 5535l-113 -44M6545 7236l-6 -125M3734 6610l112 47M3868 5104l30 117M4318 4634l-22 120M5906 4350l-98 68M6954 5018l-133 -15M6694 7585l7 -130M5430 8075l85 -97M5328 8078l95 -94M4304 7822l118 -44M3412 6821l122 49M4671 4073l-51 113M7562 5364l-123 -55M7683 6209l-92 -98M7646 6604l-77 -100M2996 6713l117 70M2935 6398l103 70M2916 5971l89 93M2943 5663l77 97M3039 5265l57 114M5502 3579l-89 94M7492 4469l-135 -5M7566 4558l-133 -8M8077 6651l-83 -119M4855 8793l113 -85M2827 7329l133 46M2674 6942l118 53M3525 3655l-15 144M4997 3206l-101 99M6138 3228l-106 89M6567 3315l-118 71M6755 3379l-128 59M7220 3622l-132 34M5000 6556l86 -28M5046 5482l-10 95M5217 5410l-42 91M5999 6714l-7 -87M4613 5387l17 97M6393 5570l-90 -18M4597 4945l-16 94M4703 4882l-25 93M5092 7606l71 -64M5345 4393l-61 74M7052 6964l-43 -92M6639 7498l4 -109M6074 7840l43 -101M5888 7901l41 -93M4249 7669l106 -30M3432 5497l56 82M5597 4043l-78 76M7520 5599l-98 -56M7458 6914l-51 -92M7021 7626l-8 -108M6965 7684l-5 -107M5950 3720l-91 66M6242 3787l-98 55M7995 6423l-80 -89M7061 8086l5 -108M6523 8431l30 -104M5938 8642l48 -96M5857 8660l54 -96M5442 8713l70 -89M4227 8502l114 -46M2996 7416l113 26M2689 5531l75 83M2979 4548l43 110M6308 3365l-99 70M7871 4413l-118 -17M8395 5769l-86 -84M5932 6426l105 -46M5878 6503l110 -19M5113 6683l50 99M5073 5384l-122 -36M6006 5537l-11 -129M5358 7036l83 77M5238 7030l71 86M4949 6956l44 103M4420 6461l-35 105M4315 6083l-73 90M4339 5766l-100 70M6117 5167l-23 -107M4123 5377l-117 52M5543 4657l-79 -87M6332 4945l-28 -114M6330 7388l122 19M3791 5300l-115 54M5193 4333l-94 -72M5269 4326l-94 -76M6229 4483l-42 -114M6852 4933l8 -127M7097 7047l126 -48M3291 6113l-85 105M5088 3993l-111 -72M6597 4243l-43 -129M7600 5586l68 -119M6721 7989l138 14M6468 8143l122 39M5886 8356l120 66M3111 5141l-113 49M3193 4959l-115 37M4686 3724l-117 -57M6289 3719l-73 -118M4792 8758l76 113M2737 7054l-56 125M2584 5833l-93 98M2748 4885l-124 60M4819 3231l-108 -93M6090 6188l55 -102M6064 6323l77 -51M5910 6976l90 18M4574 6820l14 102M4939 4964l-99 -37M6682 6325l76 -70M6420 6950l96 -16M5673 7413l86 49M5003 4600l-96 -47M6730 5215l11 -97M6780 5286l17 -96M6942 5612l40 -91M4410 7537l37 103M6404 4457l-39 -105M6904 4838l-1 -114M7218 5303l35 -110M4632 8049l63 102M3222 5641l-86 68M3386 5119l-96 35M3544 4840l-104 25M7122 7781l111 -4M6298 8335l106 41M5067 8511l69 86M4749 8460l70 96M3246 7448l-17 114M2839 6017l-76 83M2896 5504l-88 59M7113 4011l-26 -117M8198 6191l84 -87M7295 8128l121 -3M6958 8389l110 20M4446 8788l58 105M2539 6743l-61 97M2485 6113l-78 88M8598 6654l85 -88"/>
<path stroke="#cbe69c" d="M5997 6329l-57 -92M4615 5972l81 88M5718 5336l-113 60M5900 5425l-117 38M6288 6338l-65 -85M6152 6664l-28 -101M6079 6757l-12 -107M5757 6982l35 -103M5640 7022l43 -96M4326 6283l102 50M4318 5753l68 95M4567 5292l7 127M5141 4979l-54 101M5238 4962l-68 97M5364 4951l-75 90M6148 5159l-102 27M6287 5276l-111 6M6534 5652l-110 -41M6612 6332l-72 -93M6059 7183l16 -109M5778 7313l55 -107M4554 7152l119 -26M4183 6766l119 24M4120 6651l116 36M4035 6441l108 54M4004 5638l67 97M4625 4819l-32 116M4754 4754l-39 110M5241 4633l-78 93M5994 4735l-101 48M6969 6254l-88 -80M6944 6477l-76 -102M5704 7685l69 -106M4690 7597l109 -51M4312 7387l122 -20M4020 7112l123 9M3631 6110l95 86M4890 4367l-53 103M6011 4378l-101 64M6587 4662l-127 23M7117 5277l-122 -28M7231 5553l-120 -62M7323 6283l-89 -89M7186 6912l-55 -114M7153 6988l-47 -122M6606 7656l17 -131M6412 7788l27 -125M6120 7931l49 -119M4728 7995l114 -67M4527 7927l124 -54M3793 7426l134 3M3653 7258l135 21M3377 5340l59 107M3672 4789l19 122M4417 4180l-35 117M4792 4034l-59 112M4870 4013l-58 109M5065 3972l-79 106M7335 4895l-137 -25M7618 5555l-114 -58M7645 5687l-111 -76M7603 6790l-68 -106M6696 8035l21 -127M5845 8390l72 -112M5609 8427l80 -105M4651 8353l119 -67M4569 8329l117 -64M4266 8212l129 -46M3254 7315l128 27M3073 6946l121 51M2915 6105l93 78M2929 5769l81 104M2957 5581l74 95M4013 4014l-29 127M5709 3587l-102 87M6774 3894l-121 44M7348 4316l-132 8M8048 5589l-121 -77M7780 7427l-42 -128M6693 8459l40 -130M6389 8605l47 -122M5262 8825l89 -99M4721 8769l112 -80M4616 8746l121 -75M4335 8662l122 -64M3546 8222l143 -15M3253 7948l137 0M2788 4707l58 127M2891 4478l45 138M3079 4149l32 135M3687 3536l-25 138M4360 3269l-64 119M4435 3253l-81 120M4884 3206l-95 103M5186 3210l-101 95M5415 3213l-96 95M5610 3214l-100 95M5854 3212l-100 99M8378 5126l-128 -55M8438 5316l-125 -71M8507 6063l-100 -99M8513 6674l-100 -90M5889 6048l-83 11M5924 6099l-77 -7M5794 6500l-12 -79M5703 6571l9 -84M5159 6629l72 -50M4728 6203l84 33M4830 5676l28 94M5945 6765l1 -88M4444 6348l85 29M4400 5820l60 77M4704 5296l6 95M4767 5247l-4 96M4868 5182l-23 99M6228 5344l-84 10M6477 5771l-86 -34M5696 7242l36 -82M5593 7266l45 -80M4999 7247l85 -54M4212 6624l96 27M6039 4850l-82 36M6224 4950l-83 26M6531 5217l-90 0M6579 5277l-94 -9M6819 5771l-86 -39M6757 6748l-45 -99M6317 7304l3 -99M6254 7350l16 -104M4999 7590l76 -59M4276 7236l100 -10M4152 7117l101 0M3859 6663l97 37M3829 6586l91 32M3773 5574l54 86M3966 5128l23 97M4314 4752l-6 93M6249 4576l-91 42M6731 4920l-110 4M6819 5016l-107 -1M6926 5158l-111 -18M7136 5595l-98 -43M7189 5803l-91 -52M7092 6873l-48 -91M6970 7112l-30 -102M6711 7431l-8 -102M6485 7619l10 -104M6324 7722l26 -105M5787 7927l59 -94M5672 7949l57 -89M5481 7971l71 -84M5308 7976l66 -78M4899 7931l85 -64M4163 7612l102 -27M3785 4803l18 96M3849 4729l6 105M3986 4591l-1 102M4845 4122l-41 91M5673 4048l-81 74M6788 4464l-111 20M7346 5126l-110 -29M7427 5306l-108 -45M7581 6190l-78 -75M7578 6299l-75 -77M7568 6427l-71 -79M7544 6597l-63 -92M7394 7073l-45 -92M6646 7945l21 -111M6366 8106l35 -106M5773 8299l64 -94M4113 8014l102 -34M3877 7855l103 -23M3645 7649l110 -3M3512 7501l110 7M3372 7309l110 22M3086 6652l96 55M3619 4476l10 100M3688 4404l6 99M3921 4200l-7 100M4944 3737l-50 90M5244 3693l-73 86M5736 3692l-81 73M7660 4890l-117 -27M7864 5338l-109 -50M7961 5713l-99 -63M7890 6936l-56 -105M6450 8466l40 -107M5728 8683l64 -95M5618 8698l69 -93M5517 8708l64 -90M5315 8717l75 -86M4986 8700l89 -77M4888 8687l91 -74M3466 8008l121 -6M2698 6585l93 63M2667 6083l73 68M2857 4834l55 100M3226 4130l20 120M3369 3955l7 122M3519 3804l2 116M3759 3620l-14 112M4044 3480l-45 111M5601 3319l-88 80M5680 3320l-76 82M5894 3321l-88 85M6669 3464l-99 56M6869 3548l-115 42M7972 4563l-120 -28M8122 4824l-116 -34M8373 5509l-101 -56M8396 5898l-86 -90M8397 6001l-86 -91M8403 6626l-86 -82M5626 5843l-120 -94M5820 5894l-54 -125M4642 6122l-65 95M5829 5411l-45 -122M6249 6399l93 -58M4469 6550l-21 113M4378 5640l-112 65M4418 5547l-115 44M6003 5100l-39 -106M6334 5363l2 -118M6503 5641l38 -113M6533 5717l50 -104M6558 6471l100 -69M6483 6674l109 -47M6028 7174l122 19M4075 6484l-46 113M4044 6386l-53 110M4044 5581l-103 56M4236 5191l-116 19M4565 4883l-123 -16M6945 6131l83 -87M6937 6358l96 -89M6870 6668l114 -62M6629 7107l126 -14M5650 7671l113 67M4552 7507l36 112M4169 4784l-113 -7M6133 4444l-58 -114M6430 4587l-44 -128M6526 4648l-21 -122M7293 6377l98 -88M7265 6569l105 -68M7237 6687l112 -74M7170 6888l119 -57M7138 6962l124 -59M6912 7325l134 -24M6722 7528l126 6M5992 7951l109 59M5567 8041l109 78M5033 8034l76 102M4529 7902l50 119M4104 7668l29 133M3293 5890l-93 87M3391 5372l-110 58M3549 5017l-118 35M4022 4462l-124 -9M4097 4404l-122 -16M4181 4345l-122 -21M4758 4070l-120 -54M7012 4547l-10 -138M7654 6323l96 -95M7310 7386l131 -38M6087 8301l115 59M5543 8409l102 84M5012 8400l78 102M4582 8308l70 118M4460 8267l64 121M3824 7915l15 128M3646 7761l3 130M3575 7690l-4 128M3258 7275l-34 123M3220 7208l-38 122M3083 6906l-49 130M2959 6396l-76 111M3037 5353l-111 69M3240 4872l-117 33M3339 4710l-125 32M4031 4031l-118 -27M4380 3840l-123 -41M4491 3793l-122 -47M4965 3654l-104 -71M5670 3608l-94 -96M7892 5167l48 -139M8016 5556l73 -118M8085 6065l93 -114M8077 6462l106 -86M7952 7016l128 -66M7330 7952l133 1M7097 8159l136 8M5420 8798l107 91M3631 8257l17 135M2672 6846l-67 113M2709 5013l-120 62M3055 4231l-132 27M3156 4081l-139 25M3690 3563l-146 -19M5762 3237l-99 -96M6065 3245l-94 -106M6157 3255l-96 -110M6231 3265l-80 -111M6733 3396l-59 -127M7003 3519l-39 -131M8379 5205l63 -122M8481 5801l99 -92M8482 5884l99 -99M8484 6183l99 -105M5707 6741l92 24M5283 6812l77 70M5139 6786l56 81M4930 6698l35 95M4564 5847l-88 75M4728 5523l-108 18M5554 5220l-82 -82M5680 5245l-72 -94M6237 6647l90 -35M5638 7090l86 43M4883 7026l47 92M4418 6638l-9 101M4319 6463l-30 93M4713 5076l-112 -11M5384 4881l-72 -65M6589 6661l89 -40M6543 6758l95 -41M5804 7377l95 38M5086 7434l59 79M3944 6372l-45 98M4673 4716l-104 -23M5201 4567l-83 -60M5997 4666l-51 -87M6976 5713l44 -98M7044 6215l74 -87M6906 6855l108 -56M6310 7521l107 19M6243 7561l104 24M5370 7794l75 71M4700 7678l53 94M4076 7280l8 107M3605 6435l-51 96M3554 5968l-72 73M3583 5652l-84 61M3720 5226l-95 37M5305 4229l-77 -65M6757 4697l-20 -118M7111 5105l14 -122M7392 5952l68 -86M7400 6062l71 -94M7386 6455l85 -69M6905 7489l118 -16M6773 7619l112 2M6444 7859l113 22M6324 7924l104 33M4151 7825l30 111M3485 7149l-19 119M3295 6728l-47 103M3265 6628l-52 100M3681 4661l-105 12M4125 4265l-107 -15M4767 3964l-98 -48M5746 3872l-83 -86M6374 4023l-58 -106M7748 5855l70 -85M7506 7252l104 -34M7196 7702l109 -7M6962 7932l115 3M5268 8522l87 80M4964 8499l75 89M3074 4980l-98 38M3109 4909l-103 44M3664 4190l-104 -4M5237 3514l-95 -68M5573 3502l-82 -79M5775 3514l-69 -84M6140 3573l-59 -94M7452 4303l-5 -122M7586 4450l6 -121M7830 4795l26 -121M7531 7897l125 -16M7122 8271l110 13M6465 8659l113 36M5969 8826l95 60M3388 8201l10 121M2968 7730l-19 117M2593 6957l-52 106M2485 6259l-74 86M2482 5946l-75 88M2579 5071l-104 65M2741 4600l-111 43M2796 4478l-113 40M2887 4300l-115 34M2927 4231l-122 42M4333 3188l-113 -59M5132 3124l-88 -87M5851 3129l-78 -83M6483 3203l-67 -103M7912 4144l14 -117M8153 4485l29 -114M8494 5204l54 -110M8581 5556l65 -109M8590 5758l85 -84M8591 5864l85 -82M8596 6400l85 -90"/>
<path stroke="#e9eba9" d="M5825 6590l-1 -106M5745 6648l16 -106M4759 5605l30 114M5308 5293l-62 99M6237 5827l-111 -39M5464 7055l66 -89M6597 5856l-104 -65M6422 6830l-31 -105M4307 6933l125 8M3974 6134l92 73M3971 5839l79 90M4535 4874l-19 115M5087 7703l100 -75M4212 4714l-11 120M6901 7376l-13 -130M3556 4957l34 116M6150 4031l-105 68M7486 5170l-128 -43M7532 7006l-55 -116M6433 8188l34 -122M4081 8116l128 -37M3575 7725l136 2M3536 4422l11 120M4971 3629l-77 109M6661 3837l-122 48M8029 5507l-123 -73M8109 6051l-106 -99M7712 7536l-28 -141M6886 8342l24 -128M6614 8501l39 -126M5032 8814l96 -92M3925 8476l136 -41M2883 7436l133 35M2562 6244l96 87M2560 5921l95 91M2601 5388l83 113M2655 5119l76 114M3606 3592l-12 135M5502 3213l-87 94M5925 6256l-50 -66M4752 5814l50 79M4381 6011l72 56M6520 6322l-60 -69M4156 6501l88 27M4169 5448l41 90M6868 6277l-73 -75M6794 6653l-54 -89M5217 7620l65 -69M4442 7361l95 -25M3748 6276l84 49M5580 4397l-77 68M5944 4461l-90 54M6174 4541l-89 45M6572 4777l-107 17M6882 5095l-108 -9M7220 6063l-83 -69M7222 6279l-75 -77M6842 7288l-20 -100M4097 7563l111 -17M4017 7498l111 -12M3507 6782l103 42M3448 6613l96 45M3376 5804l69 76M4658 4183l-36 94M6440 4252l-105 40M7311 5063l-109 -20M4045 7973l110 -26M3239 5034l36 99M3775 4321l-5 105M5343 3686l-68 83M5518 3682l-81 79M6632 3938l-105 39M7917 5513l-102 -48M8002 6132l-89 -82M7348 7817l-9 -111M4064 8426l116 -39M3127 4277l33 112M4172 3436l-47 106M4535 3347l-66 99M5164 3318l-90 82M7795 4310l-114 -6M6004 6153l53 -107M4942 6598l38 116M5558 7017l105 56M4691 6802l12 110M4614 6732l7 116M4664 5234l-122 -7M4825 5122l-117 -30M5116 5010l-106 -59M6565 5156l8 -109M6901 6561l108 -66M4046 7106l-3 125M4309 4670l-122 -11M6686 4771l-12 -129M7171 5455l48 -128M5157 8047l92 97M4627 7938l68 120M4172 7715l38 134M3793 7390l-1 135M4456 4188l-122 -37M6773 4352l-33 -135M7522 5323l57 -120M7620 5684l74 -111M7406 7224l125 -45M6640 8043l136 21M6373 8190l131 39M6263 8238l123 49M4772 8359l72 111M4290 8197l48 123M4094 8096l43 130M3026 6731l-63 112M2965 5678l-101 85M4126 3972l-125 -27M6898 3993l-39 -133M8034 5637l75 -122M5760 8761l115 76M3531 8179l23 145M2780 7165l-54 120M5561 3238l-102 -95M6614 3354l-68 -124M7179 3623l-35 -139M4692 6482l-3 103M6671 5867l52 -88M6636 6532l86 -56M5877 7350l101 31M6975 6671l99 -67M6651 7235l115 -16M5225 4235l-82 -62M6194 4362l-48 -98M6840 4773l-11 -118M7297 5501l46 -105M5847 8096l102 54M5279 8155l88 78M4062 7766l29 116M3805 7553l1 110M3370 6927l-34 113M3191 6111l-72 91M3268 5438l-94 65M4314 4150l-99 -29M5963 3905l-68 -92M6647 4152l-38 -111M7739 5774l67 -95M7438 7374l106 -29M6704 8124l109 22M6407 8287l108 36M6116 8401l107 48M5896 8460l106 56M5487 8517l82 74M3084 7170l-30 115M6253 3601l-67 -99M6650 8571l108 32M6297 8726l114 42M3856 8536l35 117M3105 7909l-5 124M3703 3426l-130 -19M6172 3146l-86 -95"/>
<path stroke="#f7f0e4" d="M4926 5442l-6 120M5515 5290l-82 83M4925 6972l97 -49M4301 5838l74 95M5979 5061l-104 41M5566 4635l-92 76M5675 4649l-88 70M5911 4706l-96 55M6122 4791l-104 39M6285 4884l-101 30M6741 5352l-109 -17M3730 5386l54 111M3827 5173l36 117M5383 4297l-87 89M6651 4710l-122 23M7258 5646l-113 -54M7224 6812l-61 -111M6311 7844l41 -127M6234 7882l47 -125M3376 6722l118 52M3295 5659l76 99M5925 3978l-103 77M7075 4574l-135 4M7459 7173l-42 -128M7179 7601l-12 -133M6056 8336l51 -114M4174 8167l127 -42M3520 7668l135 6M3387 7509l132 16M5949 3615l-112 78M7089 4094l-128 26M7673 4706l-132 -17M8070 5700l-115 -70M8103 6443l-93 -111M8090 6566l-88 -110M6793 8401l28 -127M4955 8806l111 -89M3740 8363l134 -33M3054 7705l139 21M2633 5217l79 113M2749 4810l60 131M4243 3300l-72 126M5807 5977l-88 37M5432 6657l48 -73M5836 5505l-95 36M5416 6968l56 -71M5315 5048l-52 76M5489 7281l52 -76M4907 7220l86 -49M4681 7119l89 -33M4271 5263l24 93M4458 5050l5 90M4531 7415l90 -33M3836 5377l45 84M5965 7878l45 -97M3949 7436l104 -13M3811 7291l104 -2M3481 6713l101 45M3460 5400l50 91M4480 4259l-31 98M6639 4362l-105 31M7580 6082l-81 -74M7335 7192l-36 -100M6723 7891l7 -104M5945 8260l58 -99M4572 8221l96 -54M3797 7791l112 -12M3223 7039l106 38M3022 5856l71 79M3854 4253l-9 105M4004 4139l-14 102M4652 3815l-41 95M5117 3708l-59 87M7284 4402l-109 10M7535 4698l-114 -11M7604 4799l-118 -22M7830 5243l-109 -40M7986 5888l-95 -74M7997 6021l-92 -82M7754 7250l-42 -106M7708 7335l-35 -114M6061 8609l45 -98M4789 8671l94 -71M2663 6155l78 75M2700 5452l73 93M3076 4363l35 113M5036 3316l-85 84M5246 3319l-93 81M6188 3345l-88 75M6573 3431l-103 59M6783 3509l-114 46M5993 6246l88 -72M5630 6678l101 40M5448 6721l101 64M4753 6848l21 110M4387 6389l-37 115M5944 7220l116 31M5669 7319l103 57M5545 7343l97 67M4126 6610l-37 115M4379 5029l-125 9M6670 5288l17 -113M6795 6852l126 -56M6565 7180l132 -14M6791 7461l128 -3M6622 7614l137 5M6435 7745l132 23M5358 8053l88 89M3923 7521l15 137M3544 7044l-32 129M3510 5087l-120 47M4271 4288l-124 -26M7168 4711l6 -140M7278 4854l17 -141M7528 6948l114 -53M5117 8411l98 100M4000 8039l35 131M3727 7835l16 135M3122 7005l-50 116M3412 4609l-127 26M4219 3920l-125 -32M4880 3672l-119 -64M5494 3603l-96 -90M6184 3689l-76 -114M7261 4266l-17 -142M7514 4532l15 -133M8087 6292l101 -104M8063 6586l111 -91M7989 6910l125 -74M7652 7580l136 -23M5507 8792l109 87M5286 8801l96 96M4984 8785l84 107M4265 8610l57 127M2703 6953l-59 127M2619 5428l-111 89M2686 5095l-119 66M3849 3472l-138 -39M4480 3269l-109 -80M5666 3238l-86 -95M7746 4118l6 -141M8296 4987l49 -131M8410 5305l68 -120M5479 5742l-101 -68M5329 5217l-94 -61M6019 5414l-29 -116M6091 6836l92 -6M6022 6898l100 -3M5743 7057l90 33M6062 5030l-29 -87M6161 5089l-31 -96M6251 5156l-17 -95M6175 7187l99 10M6081 7249l105 13M4049 6669l-31 96M4389 4896l-102 -3M4898 4628l-92 -43M6847 5399l25 -96M7003 5821l53 -89M7008 6546l91 -64M5691 7763l96 55M4929 7747l57 86M3798 6920l-18 110M3577 6290l-59 89M4144 4682l-107 3M4699 4356l-96 -36M7269 5424l42 -106M6974 7410l108 -11M5622 8137l87 66M3338 6848l-42 105M4687 3989l-99 -45M4876 3934l-102 -51M6177 3957l-53 -97M6471 4064l-44 -105M7552 7158l102 -39M6507 8239l107 32M5686 8498l100 65M5353 8522l78 78M4244 8290l44 107M3459 7719l-4 112M3305 7532l-7 121M2937 6792l-52 96M3032 5076l-100 50M3437 4423l-107 13M4393 3726l-96 -40M6725 3779l-35 -105M6852 8457l107 26M4057 8640l43 113M3581 8356l19 119M3494 8290l14 119M3225 8044l6 127M2521 6647l-62 105M2487 6045l-79 65M5941 3128l-82 -86M7206 3511l-39 -123M8597 6515l85 -94"/>
<path stroke="#f6cad9" d="M6260 6447l-52 -98M4509 6649l112 8M4289 6056l90 74M4397 5536l45 113M4855 5079l-32 117M5448 4948l-86 85M5581 7362l60 -96M4242 6852l119 12M4008 6340l101 56M4469 4922l-8 113M6970 6173l-91 -78M5815 7659l55 -108M5520 7713l73 -97M3676 5562l67 99M3698 5483l60 110M4012 4911l14 116M4080 4837l10 112M4487 4529l-24 109M5209 4307l-68 93M6732 4779l-133 7M7017 5106l-134 -26M7077 5204l-131 -34M7317 5991l-102 -88M7325 6185l-93 -82M5637 8057l72 -104M4229 7779l131 -33M3884 7518l126 -12M3738 7364l134 9M3494 7002l125 35M3297 6409l107 71M3344 5443l63 111M4025 4429l-11 123M4116 4360l-23 126M6553 4192l-117 47M7678 5977l-99 -83M7664 6485l-82 -100M7493 7100l-49 -121M7356 7359l-30 -129M7229 7540l-18 -129M6963 7827l0 -127M6880 7899l12 -132M5399 8442l89 -98M5319 8443l83 -95M4469 8296l120 -59M2976 6630l110 61M3402 4582l15 127M5287 3587l-83 100M5631 3582l-96 90M7615 4624l-139 -19M8091 5838l-111 -76M7224 8083l3 -130M6514 8550l36 -121M5782 8781l78 -113M5465 8819l97 -106M5344 8824l100 -102M3829 8420l130 -39M3653 8303l139 -25M2617 6722l115 74M2573 6420l102 73M2586 5486l86 99M4542 3235l-79 115M4651 3220l-79 110M6366 3264l-109 81M7039 3512l-141 39M7632 3961l-134 8M8504 5639l-109 -73M8510 6353l-100 -106M4943 6516l85 -22M4720 5912l60 75M5756 5460l-94 45M5849 6835l13 -86M5503 6960l41 -74M4874 6845l86 -31M4385 5916l66 69M4935 5148l-28 95M5803 5089l-72 48M6533 6151l-70 -58M6530 6228l-65 -66M4843 7197l86 -45M4067 6133l76 53M4142 5514l48 81M4316 5201l17 95M4968 4777l-41 85M5370 4720l-64 71M5939 4810l-84 41M6307 5007l-84 20M6749 5569l-87 -23M6838 5848l-84 -41M6486 7154l-11 -100M5691 7588l45 -86M4205 7171l96 -9M4011 6941l94 7M3789 6464l89 41M5782 4423l-79 61M6979 5241l-105 -18M6915 7193l-20 -108M6424 7661l15 -103M5381 7975l77 -81M3751 7215l111 12M3500 5290l46 88M3566 5140l39 90M3931 4643l2 103M4327 4340l-16 96M6726 4419l-106 27M7209 4902l-118 -19M7558 5807l-89 -59M7523 6693l-60 -86M6538 8013l25 -108M4883 8300l84 -67M3380 4783l23 102M3555 4548l9 105M5654 3686l-82 75M6521 3887l-97 47M6718 3983l-102 38M7336 4456l-115 1M8003 6214l-86 -80M7981 6551l-76 -85M4498 8600l105 -59M3105 7590l115 16M2762 5146l64 101M3601 3734l-2 114M3689 3667l-17 119M4445 3363l-53 99M4829 3316l-68 89M6108 3335l-82 78M6474 3402l-102 63M6959 3593l-104 43M7387 3884l-112 19M8400 6312l-86 -89M8402 6537l-86 -83M5970 6338l92 -52M4708 6334l-26 116M4768 5633l-126 35M5163 5349l-109 -53M5561 5321l-76 -97M5434 7033l83 72M4531 6638l-8 116M4312 5971l-82 93M4585 5308l-127 13M5747 5006l-60 -94M6602 6136l80 -94M6396 6827l114 -28M6111 7119l114 16M5859 7258l108 42M4560 7127l25 117M4748 4783l-117 -35M5137 4669l-98 -67M6032 4776l-51 -105M6854 5645l49 -108M6906 5823l61 -109M6926 6440l102 -84M6692 7025l130 -31M5960 7586l111 50M4718 7582l50 109M3979 7021l-16 120M3669 6246l-71 108M3651 5940l-87 90M3696 5584l-104 74M5596 4326l-84 -91M6305 4519l-40 -118M6982 5098l22 -128M7289 5953l79 -109M6070 7924l124 49M4369 7829l49 127M4281 7781l31 124M3341 6511l-67 114M3297 6214l-81 101M6308 4109l-51 -117M6852 4410l-25 -136M7658 6217l92 -96M4883 8381l74 107M2943 6208l-84 103M3698 4292l-128 1M3943 4092l-119 -22M5172 3622l-95 -80M6071 3663l-76 -110M6828 3952l-41 -131M7750 4876l31 -142M7991 5456l67 -123M7604 7645l135 -17M6990 8241l124 23M6897 8306l130 23M5845 8745l116 72M5622 8781l115 82M3303 7967l2 143M2599 6447l-81 110M2594 5638l-102 85M2641 5299l-115 81M2662 5197l-117 75M3757 3522l-135 -33M4615 3249l-105 -86M5030 3231l-105 -101M5325 3237l-97 -98M6451 3308l-86 -121M7436 3814l-13 -139M8254 4896l41 -139M8344 5105l52 -136M6070 6049l18 -107M5512 6803l83 49M4855 6647l19 95M4546 5959l-75 79M5218 5234l-92 -52M6289 5771l23 -109M6326 5878l34 -101M6171 6745l92 -20M5818 7025l88 28M5289 7124l79 68M4281 6368l-39 88M4246 6245l-48 88M4238 5788l-83 69M4636 5130l-112 -2M6572 5566l29 -96M6347 7036l105 -16M4489 7194l29 105M4178 6886l-11 104M3934 5626l-85 58M5673 4580l-65 -77M6574 5035l-6 -96M7036 6026l64 -84M7038 6350l81 -69M6728 7146l113 -23M4228 4614l-98 -10M4522 4433l-96 -28M5778 4250l-66 -83M6615 7747l119 7M5923 8077l100 51M3997 7718l15 110M3658 7393l-4 117M3303 5326l-97 59M3928 4414l-113 2M6835 4268l-24 -114M7323 4733l13 -118M7757 6301l81 -82M7701 6720l95 -72M4852 8481l77 93M3768 4101l-107 -7M7273 4136l-18 -121M7378 4229l-8 -119M7511 4365l-2 -124M8140 5610l64 -108M7676 7729l117 -14M7360 8068l119 -3M6374 8697l104 44M5230 8909l89 85M4343 8755l60 109M2667 7172l-41 117M2672 4771l-111 57M2710 4672l-114 58M3121 3946l-128 27M3502 3564l-122 -11M6939 3365l-54 -118M7767 3977l2 -121M8093 4391l20 -123M8377 4900l41 -113M8456 5091l44 -123M8534 5344l61 -102"/>
<path stroke="#c96835" d="M5373 5850l-80 121M5281 6745l76 -76M6153 5672l-126 -18M6258 5882l-101 -38M4543 6690l113 2M4341 5671l61 101M6416 5433l-115 -19M5639 7351l65 -101M3996 6286l98 58M6671 5249l-112 -12M5168 7712l95 -80M4111 7213l125 1M3844 6853l120 32M3636 6170l98 81M3664 5614l70 96M5159 4313l-66 95M7050 5158l-132 -30M7214 5503l-119 -51M7290 5789l-109 -68M5586 8063l75 -102M3704 7324l133 12M3268 5929l88 85M5603 3941l-101 90M6926 7859l3 -127M5480 8438l92 -101M3372 4623l24 118M3722 4238l-5 124M3803 4168l-15 128M4726 3687l-53 111M4757 3678l-63 113M6822 3921l-127 39M8084 5787l-112 -74M6469 8571l38 -120M5422 8822l98 -104M4451 8700l128 -67M4021 3372l-51 127M7081 3535l-141 36M7594 3924l-134 11M7750 4086l-143 -8M7865 4222l-134 -7M8101 4564l-140 -36M8510 6395l-100 -106M5403 5956l-57 100M4713 6134l81 44M4712 5959l66 69M5563 5397l-72 65M5893 5544l-99 26M5972 5611l-100 14M4936 6877l79 -38M6533 6103l-72 -55M6460 6553l-45 -77M4128 5552l51 80M5017 4764l-44 84M5986 4828l-85 38M6624 5340l-92 -12M6728 5523l-88 -20M6647 6954l-31 -97M5373 7623l69 -76M4235 7200l95 -11M3762 6351l88 55M3935 5178l29 93M4904 4460l-43 85M7174 5731l-93 -47M6890 7228l-18 -109M6599 7533l8 -110M3721 7175l110 14M3574 6931l104 28M5129 4064l-60 87M6892 4548l-106 18M7511 6740l-58 -88M6580 7988l23 -109M6289 8141l30 -101M4833 8290l85 -65M4183 8054l98 -39M3288 7168l109 31M3084 5464l57 85M6561 3905l-97 45M6847 4057l-105 32M7903 5462l-107 -58M7823 7108l-50 -100M7588 7523l-23 -118M6736 8315l16 -103M4302 8533l104 -53M2819 7038l104 40M2662 5892l80 69M2669 5718l77 83M4485 3355l-55 98M4605 3336l-66 96M8401 6355l-86 -89M4688 6293l-34 114M4804 5586l-129 24M4929 5469l-133 -4M6109 6682l112 -29M5070 6997l61 97M5703 4996l-64 -92M6370 6864l115 -23M4598 7152l29 116M4010 6229l-67 92M3990 5957l-81 89M4203 5238l-119 30M4867 4736l-108 -48M5299 4653l-90 -77M6915 5865l64 -107M6470 7275l128 2M7023 7173l128 -34M6208 7867l115 46M6116 7906l125 46M4238 7756l28 124M3294 6167l-83 99M5847 3989l-82 -104M6257 4091l-64 -119M7412 5072l32 -143M7582 6775l112 -71M2941 5946l-92 94M4614 3748l-117 -54M4736 3709l-112 -61M7434 4439l3 -139M7607 4653l19 -139M8082 6004l91 -105M8038 6723l117 -86M6941 8276l130 20M6791 8374l131 27M3929 8451l34 131M2878 7376l-38 134M2636 6694l-73 108M2604 6490l-79 111M6307 3278l-85 -115M7397 3781l-16 -138M7567 3930l-7 -142M7833 4221l8 -146M7976 4414l28 -133M8274 4937l43 -139M6117 5504l-15 -122M6265 5722l17 -110M6276 6575l87 -43M4474 6713l-1 100M4267 6321l-43 86M4257 6289l-44 90M4222 6078l-62 77M4226 5868l-76 70M6441 5352l6 -99M6672 6387l79 -68M5293 7452l74 69M5027 7424l63 83M4610 7270l41 102M4449 7164l25 106M3923 5676l-83 61M4515 4805l-98 -16M5291 4560l-74 -64M5848 4619l-49 -80M6534 4996l-9 -96M7019 6490l88 -64M5287 7793l75 74M4028 4791l-98 3M4349 4531l-96 -19M5079 4254l-92 -54M6038 4309l-50 -91M7193 5250l29 -115M6659 7714l108 13M6578 7773l119 9M5772 8112l90 60M4894 8116l63 91M4508 8005l49 103M3407 7004l-32 109M3228 6466l-57 105M3197 5839l-81 81M6880 4300l-22 -114M7755 6349l82 -81M4295 8313l55 109M3400 7652l0 120M3123 7246l-25 117M3316 4575l-109 26M3729 4134l-107 -5M5156 3522l-85 -67M8149 5655l65 -107M8191 5995l77 -103M8196 6329l88 -81M8118 6859l104 -65M7809 7544l116 -25M7398 8032l119 -5M6801 8488l108 27M5687 8880l95 69M4972 8893l84 93M4708 8854l72 100M2865 7573l-28 114M2623 4916l-108 63M2656 4817l-110 59M2693 4716l-113 59M3309 3736l-127 9M8059 4342l14 -128M8120 4433l22 -122M8592 6015l85 -84"/>
<path stroke="#c24b77" d="M5232 5306l-56 106M5768 5355l-107 57M6288 5994l-95 -59M6305 6164l-80 -70M5520 7048l57 -92M6556 6560l-56 -95M5303 7382l88 -84M5073 7361l92 -72M4968 7338l100 -64M4848 7301l100 -57M4758 7265l113 -47M3967 5894l82 81M4996 4673l-55 102M6578 5134l-114 -4M6907 6629l-66 -105M6508 7273l2 -129M6068 7568l34 -115M5033 7694l95 -73M3958 4976l16 121M5125 4318l-71 97M6184 4438l-108 55M6365 4523l-113 44M6463 4579l-115 38M7179 5413l-125 -52M7296 6532l-78 -98M7057 7163l-33 -124M3308 6468l108 64M3287 5712l79 92M3309 5586l72 100M3436 5187l49 111M3916 4522l-6 127M5453 3938l-95 95M5802 3958l-105 82M6210 4049l-118 62M7581 5421l-122 -63M3226 7268l123 24M2923 6279l99 73M3092 5123l49 118M3594 4360l0 129M7679 7584l-23 -143M7267 8045l0 -131M3199 7888l134 1M2594 6596l108 70M3989 3384l-55 131M6701 3359l-127 62M7347 3712l-134 26M7990 4392l-138 -22M8348 5049l-128 -48M8506 5869l-100 -98M8509 6195l-100 -99M8509 6228l-100 -104M5885 6381l-40 -66M6214 6096l-71 -52M4618 6638l91 -1M5207 5063l-50 82M5689 5061l-74 55M6522 5981l-80 -55M6450 6581l-40 -87M6364 6751l-25 -92M5363 7289l63 -72M5078 7265l72 -60M4059 5949l70 62M4366 5142l10 95M5698 4745l-75 56M5765 7571l47 -90M4732 4517l-38 90M5289 4395l-61 76M6450 4690l-100 29M6475 4706l-103 26M6765 7375l-6 -110M3648 7066l104 16M4185 4431l-18 104M5519 4040l-75 78M7192 7420l-24 -102M4642 8243l88 -59M4455 8180l98 -49M4361 8141l103 -44M3461 4666l22 95M3522 4588l13 102M6376 3831l-93 53M6991 4153l-107 24M7102 4238l-115 14M7389 4515l-115 -1M7459 7691l-12 -119M6910 8201l19 -112M4114 8451l106 -45M3646 8161l117 -19M3037 7485l115 24M2853 7124l109 43M2714 5370l70 102M2749 5199l66 99M2943 4624l42 117M4396 3373l-59 103M8222 5031l-112 -39M8394 5623l-96 -52M8398 6058l-86 -84M5767 5868l-73 -118M5575 6696l108 45M6245 5923l50 -105M6277 6246l81 -71M6164 6599l107 -38M5228 4988l-109 -66M5380 7358l83 79M4911 7297l61 105M4788 7252l56 113M4325 6917l-4 122M6439 5031l-16 -116M6710 5348l17 -121M4416 7429l23 114M4224 7286l18 126M3705 6433l-59 113M4430 4590l-119 -22M6640 4732l-20 -130M4477 7880l47 121M3351 5512l-108 76M7363 4986l33 -132M5175 8415l100 97M4712 8344l77 114M3931 7993l26 130M3794 4207l-119 -14M6404 8573l133 43M4110 8544l57 134M3676 8291l27 139M2657 6789l-65 127M2829 4672l-127 48M3918 3440l-139 -44M8032 4499l33 -131M8425 5360l68 -126M5545 5734l-102 -72M5972 5886l-28 -121M6042 5985l7 -106M5421 6814l81 58M4788 6591l12 98M4617 5698l-101 53M5156 5249l-102 -43M5549 7110l86 50M4344 6514l-24 96M4269 5660l-91 61M4923 7399l56 88M5395 4558l-82 -67M6125 4720l-40 -89M6445 4919l-18 -96M5849 7726l93 49M5431 7792l88 68M3883 7053l-15 102M3560 6144l-65 88M6696 4647l-21 -114M7350 5689l54 -104M7393 6394l84 -80M6064 8033l100 46M5223 8154l80 80M3200 5804l-81 66M3333 5242l-94 42M3879 4456l-105 -3M4244 4190l-109 -20M4452 4081l-97 -36M5573 3862l-74 -79M7361 4784l17 -118M2891 6605l-59 94M3479 4374l-105 8M3562 4287l-103 1M4737 3605l-91 -53M8128 5555l61 -112M8156 6694l98 -70M8008 7171l113 -49M7624 7793l121 -17M3909 8565l39 117M2500 6489l-68 91M2491 6391l-70 95M2559 5156l-104 76M4487 3157l-112 -66M4967 3120l-84 -85M7156 3480l-35 -118M7332 3595l-33 -126M7657 3865l-9 -126"/>
<path stroke="#833c96" d="M5179 5898l-38 112M4975 6647l111 -34M4620 6139l98 62M4624 5911l75 89M5363 5288l-74 96M5949 5459l-118 32M6626 6162l-84 -79M5829 7295l45 -107M3628 5911l86 89M5873 8010l63 -112M3266 6028l92 82M5336 3943l-81 97M7220 4737l-138 -13M7654 5744l-107 -71M7681 6061l-97 -95M5691 8417l73 -106M2922 5847l84 101M7940 5224l-132 -61M8044 6803l-74 -124M8006 6936l-66 -126M7904 7194l-53 -127M6150 8692l59 -119M5909 3212l-101 99M6081 3222l-110 92M8396 5179l-127 -59M8478 5476l-122 -82M4403 6211l83 47M4439 5681l48 86M5959 7135l15 -88M4101 7058l97 0M3940 6828l95 18M6095 4510l-95 46M7219 6331l-73 -81M3561 6904l103 29M3715 4894l24 95M6027 4105l-91 60M7562 6483l-70 -75M3589 7589l113 4M4297 3963l-28 100M4575 3842l-39 96M5186 6705l63 93M5955 6839l112 6M6515 6600l105 -52M5178 7351l84 90M3829 6774l-33 125M4700 7962l72 117M5534 3963l-95 -92M6672 4287l-28 -126M7246 4809l13 -141M3402 7489l-12 135M4332 3862l-122 -39M7033 4083l-19 -128M4852 8768l91 112M4407 8661l65 124M2932 7474l-37 128M2611 5485l-107 79M2874 4570l-130 46M2932 4449l-131 42M5050 7086l59 82M6543 5512l22 -99M4217 6938l1 112M3903 6121l-60 83M4211 5071l-102 16M6673 5143l-1 -102M4641 7654l40 92M5630 4232l-67 -77M7402 6121l74 -83M6782 4233l-32 -115M5188 8519l78 82M2842 6208l-72 81M2868 5655l-86 75M4874 3570l-92 -57M8081 5376l55 -110M2572 6882l-53 111M2503 6522l-69 87M3785 3381l-125 -29M6638 3247l-63 -108M7056 3423l-42 -117M8589 5629l70 -119M8595 6266l85 -91"/>
<path stroke="#5c63aa" d="M6106 7152l10 -109M6575 7206l-10 -125M5461 4296l-92 86M4805 8785l115 -83M7118 5543l-100 -42M6123 8206l41 -100M4273 8521l113 -48M8400 6257l-86 -89M5114 5367l-120 -43M5717 6972l108 39M4888 4984l-101 -32M4288 7904l33 106M6966 4366l-22 -120"/>
<path stroke="#50a3b8" d="M5857 5399l-115 45M4978 5026l-47 112M5844 5008l-91 57M6113 5135l-101 31M6552 5699l-108 -46M4347 6977l115 -7M5507 4630l-88 79M6041 4754l-102 45M6856 5581l-112 -48M6867 5612l-107 -41M6967 6090l-94 -80M6966 6302l-86 -83M5975 7606l52 -117M3894 5065l26 118M6925 4982l-133 -12M7296 5823l-106 -64M7131 7033l-43 -123M6791 7495l0 -133M6487 7741l24 -128M6458 7759l24 -126M3928 7558l133 -10M3433 6872l125 50M3361 5388l61 105M3640 4832l23 121M4913 4003l-60 107M7545 5316l-124 -52M7653 6558l-79 -98M5899 8378l70 -114M2915 6017l90 91M7314 4283l-132 11M7457 4429l-135 -2M6741 8432l37 -131M2688 6985l119 51M3050 4193l31 141M4319 3279l-62 120M4943 3205l-99 101M6186 3234l-108 88M6799 3397l-129 57M8306 4950l-129 -40M6032 6678l-13 -87M4451 5652l46 87M4804 5221l-9 96M5006 5118l-38 93M6311 6829l-20 -91M5047 7259l83 -57M6261 4974l-83 23M5137 7612l69 -66M3993 5088l20 97M6766 4956l-110 0M6364 7698l24 -106M5265 7975l68 -77M3665 7092l109 21M7102 4762l-110 1M7573 6377l-73 -78M7471 6874l-53 -91M4156 8039l102 -36M3038 5704l66 86M3054 5601l61 89M5781 3696l-82 72M7953 6715l-68 -95M5670 8691l68 -94M4929 8693l90 -75M6262 3356l-98 72M7256 3781l-117 21M7994 4599l-120 -30M8155 4887l-116 -38M4312 6031l-77 86M4400 5587l-113 49M4729 5183l-124 -14M6594 5989l70 -103M4147 5330l-119 47M3732 5454l-108 61M4137 4814l-113 -4M5682 4334l-80 -95M6185 4464l-45 -113M3290 6069l-87 103M3291 5939l-91 89M3309 5730l-99 85M4225 4316l-122 -24M6543 4214l-45 -127M6643 4270l-40 -130M7606 6678l108 -75M6756 7964l138 12M3095 5183l-112 51M3173 5000l-115 39M3556 4435l-124 8M8087 6117l95 -112M3594 8229l15 135M2752 7096l-54 126M6686 3379l-62 -126M8364 5160l60 -124M8482 5932l99 -99M5583 7103l84 47M6688 6273l74 -73M5950 7319l93 30M3901 6088l-63 77M4953 4612l-97 -44M7043 6270l77 -85M6435 7434l115 3M6100 7635l103 33M4753 7696l56 93M3593 5598l-86 58M6374 7898l104 30M5024 8506l68 87M3130 4870l-104 42M7419 4269l-8 -122M7082 8301l110 15M6506 8641l113 35M3066 4018l-125 30M8180 4530l31 -113M8510 5257l56 -109M8572 5508l64 -110"/>
<path stroke="#79b6a7" d="M6217 5783l-113 -33M4705 4777l-35 112M4098 7694l123 -30M4175 6548l88 24M6136 7423l19 -97M4482 7386l94 -28M7223 6237l-77 -75M5743 7936l61 -93M4022 8404l116 -36M3433 7977l121 -4M4093 6533l-42 115M4056 6428l-50 112M4075 7139l0 125M4061 7637l25 134M7151 4173l-24 -139M2764 7125l-56 119M4487 7581l31 96M3736 4598l-105 8M4079 4296l-107 -12M6456 8264l108 33M3992 8156l31 111"/>
<path stroke="#8fb64c" d="M5467 5287l-77 87M5415 7058l70 -86M6606 5902l-101 -69M3752 6657l113 44M3805 5215l40 115M6935 7336l-16 -130M6098 4017l-104 70M7044 4543l-135 7M7437 7217l-39 -129M6392 8207l36 -122M3011 6763l118 67M2936 5713l79 96M3570 4385l9 120M6835 8375l26 -127M5081 8818l94 -94M4912 8801l112 -87M2846 7366l134 44M2594 5430l84 112M3570 3619l-9 135M5915 6298l-47 -74M5476 6651l42 -76M4736 5859l56 75M5456 6965l53 -73M5356 5045l-54 74M6411 5605l-89 -21M5536 7275l49 -78M4945 7232l85 -51M4645 7097l90 -30M4247 5300l27 92M4661 4905l-22 94M3756 6322l85 47M5394 4391l-62 73M6672 7468l1 -109M4289 7694l105 -32M3986 7470l111 -9M3445 5449l54 84M6598 4337l-105 34M7580 6130l-80 -75M5994 8247l55 -100M4007 7948l111 -24M6287 3801l-99 54M8000 6080l-90 -80M7990 6474l-78 -90M7776 7207l-44 -105M6018 8621l46 -97M5987 8629l46 -97M3020 7457l114 24M2708 5402l71 95M2957 4595l44 109M5082 3317l-86 83M5115 3317l-89 82M6231 3351l-89 74M6616 3445l-104 57M7842 4373l-119 -15M5997 6113l37 -113M5904 6470l107 -29M4981 6623l45 113M5514 7024l103 61M5316 7035l80 80M5285 7034l75 82M4788 6871l25 109M4655 6770l7 111M4703 5202l-122 -13M5490 4653l-82 -85M6537 5125l5 -109M6368 7360l123 15M3811 5256l-117 51M4350 4641l-122 -14M5317 4323l-93 -78M5310 8054l87 91M3759 7352l-4 135M7134 4672l2 -140M7507 5282l54 -121M6422 8166l121 42M5068 8406l96 102M3959 8012l32 132M3013 6682l-65 111M2973 5627l-103 83M4644 3738l-118 -55M5447 3604l-98 -89M7546 4572l18 -132M8004 6860l123 -77M7679 7542l135 -25M4739 8748l74 114M4308 8626l59 126M3569 8209l26 145M2585 5790l-95 96M2734 4929l-123 62M4771 3234l-110 -90M5621 3238l-86 -96M6656 3368l-66 -126M7141 3599l-37 -138M5425 5752l-96 -68M6082 6246l73 -78M5974 5380l-35 -114M6679 5914l56 -86M6619 6585l88 -53M6447 6914l95 -19M6126 7220l106 9M5727 7400l87 45M4074 6718l-27 97M6697 5171l7 -97M6991 5769l50 -91M6990 6621l97 -70M6689 7192l114 -20M4748 4338l-95 -39M6360 4434l-42 -105M7238 5348l38 -109M4099 7791l31 115M3572 4801l-104 22M4646 4003l-100 -43M7733 5727l65 -97M7463 7331l106 -31M4704 8450l68 97M6200 3587l-69 -98M6773 3804l-32 -106M7068 3979l-29 -117M8197 6145l83 -89M7254 8163l121 -1M4494 8802l60 104M4010 8617l40 114M3258 8077l8 127M2529 6690l-60 106M2484 6170l-76 85M3752 3399l-130 -24M5996 3130l-82 -88M8597 6569l85 -94"/>
<path stroke="#b9bc5f" d="M4292 6100l93 70M4517 7126l120 -22M3711 5441l57 112M4530 4506l-27 109M6767 4812l-133 4M3360 6674l116 55M3331 5491l65 109M6004 8351l54 -113M8500 5588l-115 -69M5794 5480l-96 39M4461 6390l87 25M6258 5376l-85 6M6952 5196l-110 -21M7000 5278l-104 -21M6008 7864l42 -98M5531 7967l69 -86M3918 7406l104 -11M7372 7119l-42 -93M3650 4442l8 100M5201 3697l-71 87M7994 5971l-93 -80M8002 6259l-85 -81M5205 5337l-106 -59M5820 7273l106 45M4416 4995l-125 4M6693 5322l20 -112M4514 7487l33 113M3488 5132l-119 50M3049 5312l-112 67M7226 4235l-20 -142M8069 6537l109 -93M5336 8800l97 95M5034 8790l86 105M2719 7001l-56 128M5718 3238l-99 -96M5195 6799l62 77M4451 6684l-4 101M5138 7442l62 77M4982 7758l60 84M7386 5903l66 -87M5674 8129l89 64M3279 6676l-50 101M4920 3923l-101 -53M6124 3942l-55 -95M4803 8472l75 95M3014 5119l-99 52M7342 4196l-10 -119M2484 6002l-73 72M7246 3536l-36 -124M7798 4012l4 -121"/>
<path stroke="#cec4b2" d="M5030 5378l-28 119M5263 5300l-57 102M4572 4850l-23 115M5135 7709l98 -78M3534 4995l36 116M4156 4333l-26 126M3882 4107l-14 123M8017 5461l-125 -71M2577 6463l103 72M4187 5409l37 92M6112 4885l-79 33M5169 7615l67 -67M3893 6738l93 22M3803 6510l90 39M4644 4554l-31 91M5532 4394l-76 70M3435 6564l95 47M4293 4361l-14 96M3583 4516l7 105M3129 7625l115 14M3648 3697l-13 120M4575 3340l-68 98M6917 3571l-103 45M6246 5270l-7 -112M6352 4543l-36 -119M7426 7185l124 -47M3800 3497l-134 -37M4553 5906l-80 74M6909 5529l32 -98M4187 4646l-99 -7M5831 4259l-64 -85M6236 4379l-46 -99M6800 4735l-15 -117M3321 5275l-98 57M8520 5292l59 -103"/>
<path stroke="#cc8da3" d="M5467 5831l-85 119M4748 6444l113 9M4686 6344l106 21M4294 5888l78 91M4152 5275l37 107M5860 4691l-94 58M5428 4296l-89 87M7270 5691l-111 -57M5245 8076l94 -91M4656 7973l110 -65M5968 3986l-104 75M7112 4613l-137 0M4335 8243l123 -52M5895 3607l-110 80M7434 4404l-136 -1M8099 6487l-91 -112M8096 6519l-90 -108M5594 8808l75 -107M4045 8539l125 -51M3029 7670l139 23M2954 7556l132 24M2643 5170l77 114M8512 6531l-100 -95M4909 5585l9 101M5869 5527l-97 31M6217 6126l-67 -45M4494 5561l39 89M6411 6668l-37 -80M5862 7183l28 -89M4423 6918l93 -9M4335 6816l101 10M4911 4794l-40 87M5048 4757l-48 84M5025 4430l-51 83M3785 7259l104 0M4431 4283l-27 98M7440 6961l-46 -100M7357 7149l-38 -99M5233 8337l75 -78M3055 6507l90 57M3028 6315l84 58M4606 3831l-39 96M6187 3772l-89 59M7076 4217l-115 15M7559 4732l-114 -13M7991 5937l-94 -76M7728 7299l-37 -113M3362 7904l120 0M8066 4721l-113 -24M8356 5437l-104 -63M6001 6202l76 -88M5586 7337l99 64M4526 4535l-118 -28M4655 4474l-105 -43M4905 4388l-111 -54M6478 7718l133 19M3519 6998l-35 128M7306 4894l20 -141M7570 5471l63 -119M7542 6908l113 -55M3764 7867l19 135M3345 7410l-23 128M6142 3679l-78 -113M6672 8443l124 36M5560 8787l111 85M2674 5142l-117 68M7712 4080l4 -141M7893 4298l23 -133M6014 6458l91 -49M5783 6699l96 11M5698 7072l88 37M6014 5005l-34 -86M6298 5196l-10 -95M3898 5880l-72 72M6998 6588l93 -61M4138 7337l12 105M4111 4711l-107 6M4941 4282l-94 -47M7078 5055l18 -111M5560 8144l84 68M7010 7890l112 2M6547 8217l108 30M8080 6984l111 -67M4938 8890l79 94M3629 8391l32 125M2595 5012l-104 57"/></g></g>
<rect width="1080" height="1080" fill="#1d1228" fill-opacity="0.55" mask="url(#edge)"/>
<rect x="420" y="295" width="35" height="60.5" rx="5" fill="#7a88a6"/>
<rect x="626" y="295" width="35" height="60.5" rx="5" fill="#7a88a6"/>

<defs>
<linearGradient id="capg" x1="0" y1="0" x2="1" y2="0"><stop offset="0" stop-color="#5e6d90"/><stop offset="0.25" stop-color="#6d7ea4"/><stop offset="0.7" stop-color="#7586ab"/><stop offset="1" stop-color="#687899"/></linearGradient>
<linearGradient id="slg" x1="0" y1="0" x2="0" y2="1"><stop offset="0" stop-color="#7d8fb6"/><stop offset="0.5" stop-color="#7486ae"/><stop offset="1" stop-color="#6c7ea5"/></linearGradient>
<linearGradient id="icg" x1="0" y1="0" x2="0" y2="1"><stop offset="0" stop-color="#6f7fa3"/><stop offset="0.6" stop-color="#7585aa"/><stop offset="1" stop-color="#65749a"/></linearGradient>
</defs>
<g transform="translate(511,592.5) rotate(-15)"><rect x="-25" y="-18" width="50" height="36" rx="2" fill="url(#icg)"/></g>
<path fill="url(#capg)" d="M833.5,656.5 L871,656 Q872.5,656 872.5,657.5 L871.5,710 Q871.5,713.5 868,713.5 L835,712.5 Q831.5,712.5 831.5,709 L832,658 Q832,656.5 833.5,656.5 Z"/>
<g transform="rotate(1.6 832 602)">
<rect x="784.5" y="571" width="95" height="31.2" rx="4.5" fill="url(#slg)"/>
<rect x="786" y="602.6" width="94.5" height="31" rx="4.5" fill="url(#slg)"/>
<g font-family="'Liberation Sans', sans-serif" font-size="11.5" fill="#c4a674">
<text transform="translate(863.5,583) rotate(180) scale(0.8,1)" textLength="73" lengthAdjust="spacing">ZAC+GRAY</text>
<text transform="translate(806,623) scale(0.8,1)" textLength="74" lengthAdjust="spacing">ZAC+GRAY</text>
</g>
</g>

<g font-family="'Liberation Sans', sans-serif" font-size="21.0" fill="#1a1a1a">
<text transform="translate(139.70,248.0) scale(0.800,1)" textLength="239.12" lengthAdjust="spacing">DETACHABLE AND</text>
<text transform="translate(126.40,277.0) scale(0.800,1)" textLength="257.18" lengthAdjust="spacing">INTERCHANGEABLE</text>
<text transform="translate(83.60,394.3) scale(0.800,1)" textLength="159.88" lengthAdjust="spacing">MADE FROM</text>
<text transform="translate(35.30,423.3) scale(0.800,1)" textLength="229.62" lengthAdjust="spacing">HIGHLY DURABLE</text>
<text transform="translate(41.20,451.5) scale(0.800,1)" textLength="222.25" lengthAdjust="spacing">POLYPROPYLENE</text>
<text transform="translate(23.20,715.2) scale(0.800,1)" textLength="245.13" lengthAdjust="spacing">COMPATIBLE WITH</text>
<text transform="translate(32.10,744.2) scale(0.800,1)" textLength="232.75" lengthAdjust="spacing">EVERY ZAC+GRAY</text>
<text transform="translate(84.50,773.0) scale(0.800,1)" textLength="168.50" lengthAdjust="spacing">PHONE CASE</text>
<text transform="translate(742.70,201.0) scale(0.800,1)" textLength="249.87" lengthAdjust="spacing">UNIQUE HOOK FOR</text>
<text transform="translate(742.70,230.0) scale(0.800,1)" textLength="176.12" lengthAdjust="spacing">CASE INDENT</text>
<text transform="translate(915.60,527.2) scale(0.800,1)" textLength="167.88" lengthAdjust="spacing">ADJUSTABLE</text>
<text transform="translate(914.60,555.6) scale(0.800,1)" textLength="148.00" lengthAdjust="spacing">LENGTH OF</text>
<text transform="translate(915.00,584.7) scale(0.800,1)" textLength="82.50" lengthAdjust="spacing">150CM</text>
<text transform="translate(908.00,659.2) scale(0.800,1)" textLength="85.88" lengthAdjust="spacing">METAL</text>
<text transform="translate(908.00,688.3) scale(0.800,1)" textLength="146.12" lengthAdjust="spacing">HARDWARE</text>
<text transform="translate(909.00,717.0) scale(0.800,1)" textLength="146.25" lengthAdjust="spacing">WITH LOGO</text>
</g>
<line x1="348.0" y1="255.5" x2="436.0" y2="255.5" stroke="#1c1c1c" stroke-width="2"/>
<line x1="660.0" y1="207.3" x2="728.3" y2="207.3" stroke="#1c1c1c" stroke-width="2"/>
<line x1="236.9" y1="417.4" x2="325.0" y2="417.4" stroke="#1c1c1c" stroke-width="2"/>
<line x1="236.7" y1="738.0" x2="324.0" y2="738.0" stroke="#1c1c1c" stroke-width="2"/>
<line x1="827.0" y1="548.6" x2="895.8" y2="548.6" stroke="#1c1c1c" stroke-width="2"/>
<line x1="854.4" y1="680.8" x2="898.0" y2="680.8" stroke="#1c1c1c" stroke-width="2"/>
<circle cx="348.0" cy="255.5" r="3.6" fill="#1c1c1c"/>
<circle cx="728.3" cy="207.3" r="3.6" fill="#1c1c1c"/>
<circle cx="236.9" cy="417.4" r="3.6" fill="#1c1c1c"/>
<circle cx="236.7" cy="738.0" r="3.6" fill="#1c1c1c"/>
<circle cx="895.8" cy="548.6" r="3.6" fill="#1c1c1c"/>
<circle cx="898.0" cy="680.8" r="3.6" fill="#1c1c1c"/>
</svg>
</body></html>
